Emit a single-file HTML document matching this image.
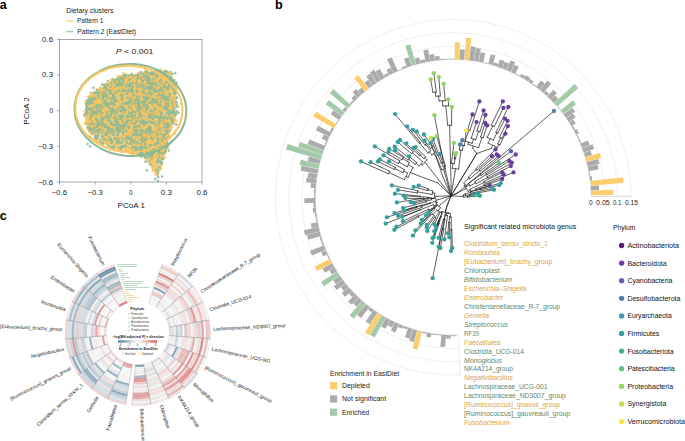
<!DOCTYPE html>
<html lang="en"><head><meta charset="utf-8"><title>Figure</title>
<style>
html,body{margin:0;padding:0;background:#fff;}
body{width:685px;height:441px;overflow:hidden;}
svg{display:block;font-family:"Liberation Sans", sans-serif;}
</style></head><body>
<svg width="685" height="441" viewBox="0 0 685 441">
<rect width="685" height="441" fill="#fff"/>
<g id="panel-a">
<text x="-0.3" y="9.1" font-size="12.6" fill="#000" font-weight="bold">a</text>
<text x="66.2" y="12.8" font-size="6.8" fill="#222" textLength="47.3" lengthAdjust="spacingAndGlyphs">Dietary clusters</text>
<path d="M66.3 21H73.2" stroke="#FBC55F" stroke-width="1.1" fill="none"/>
<text x="76.9" y="23.2" font-size="6.8" fill="#222" textLength="26.5" lengthAdjust="spacingAndGlyphs">Pattern 1</text>
<path d="M66.3 31.7H73.2" stroke="#8DB894" stroke-width="1.1" fill="none"/>
<text x="77.3" y="34" font-size="6.8" fill="#222" textLength="58.8" lengthAdjust="spacingAndGlyphs">Pattern 2 (EastDiet)</text>
<rect x="59.5" y="39.3" width="142.5" height="142.7" fill="none" stroke="#555" stroke-width="0.5"/>
<text x="59.5" y="194.8" font-size="7" fill="#222" text-anchor="middle" textLength="15.3" lengthAdjust="spacingAndGlyphs">−0.6</text>
<text x="53.1" y="184.5" font-size="7" fill="#222" text-anchor="end" textLength="15.3" lengthAdjust="spacingAndGlyphs">−0.6</text>
<text x="95.12" y="194.8" font-size="7" fill="#222" text-anchor="middle" textLength="15.3" lengthAdjust="spacingAndGlyphs">−0.3</text>
<text x="53.1" y="148.82" font-size="7" fill="#222" text-anchor="end" textLength="15.3" lengthAdjust="spacingAndGlyphs">−0.3</text>
<text x="130.75" y="194.8" font-size="7" fill="#222" text-anchor="middle" textLength="3.6" lengthAdjust="spacingAndGlyphs">0</text>
<text x="53.1" y="113.15" font-size="7" fill="#222" text-anchor="end" textLength="3.6" lengthAdjust="spacingAndGlyphs">0</text>
<text x="166.38" y="194.8" font-size="7" fill="#222" text-anchor="middle" textLength="11" lengthAdjust="spacingAndGlyphs">0.3</text>
<text x="53.1" y="77.48" font-size="7" fill="#222" text-anchor="end" textLength="11" lengthAdjust="spacingAndGlyphs">0.3</text>
<text x="202" y="194.8" font-size="7" fill="#222" text-anchor="middle" textLength="11" lengthAdjust="spacingAndGlyphs">0.6</text>
<text x="53.1" y="41.8" font-size="7" fill="#222" text-anchor="end" textLength="11" lengthAdjust="spacingAndGlyphs">0.6</text>
<path d="M59.5 182v2.6M59.5 182h-2.6M95.12 182v2.6M59.5 146.32h-2.6M130.75 182v2.6M59.5 110.65h-2.6M166.38 182v2.6M59.5 74.98h-2.6M202 182v2.6M59.5 39.3h-2.6" stroke="#555" stroke-width="0.5" fill="none"/>
<text x="131.3" y="208.45" font-size="7.4" fill="#222" text-anchor="middle" textLength="27.5" lengthAdjust="spacingAndGlyphs">PCoA 1</text>
<text transform="translate(29.35 111) rotate(-90)" font-size="7.4" fill="#222" text-anchor="middle" textLength="27.5" lengthAdjust="spacingAndGlyphs">PCoA 2</text>
<text x="115.8" y="54" font-size="7.8" fill="#222" textLength="37.6" lengthAdjust="spacingAndGlyphs"><tspan font-style="italic">P</tspan> &lt; 0.001</text>
<path d="M85.36 112.14 L87.51 101.85 L91.43 95.48 L96.04 91.07 L100.74 87.64 L106.92 84.02 L117.79 77.25 L126.22 75.39 L135.04 74.22 L149.74 71.96 L164.44 70.98 L170.32 71.77 L172.77 78.82 L174.73 88.62 L176.2 100.38 L175.91 112.14 L173.75 121.94 L170.32 130.76 L167.38 143.5 L164.44 155.26 L161.99 166.04 L159.54 172.9 L157.58 176.82 L154.64 172.9 L150.72 167.02 L145.33 158.69 L137.98 154.28 L125.24 151.34 L110.54 147.42 L98.78 141.54 L90.94 133.7 L86.34 123.9 Z" fill="#c6c27f" fill-opacity="0.6" stroke="none"/>
<path d="M102.63 93.23h0M97.84 119.29h0M165.98 85.38h0M100.44 104.26h0M130.81 121.96h0M168.55 98.74h0M157.36 114.7h0M141.49 112.76h0M96.18 115.06h0M127.7 93.06h0M128.7 117.11h0M140.75 106.39h0M131.78 122.22h0M99.39 98.58h0M149.46 95.43h0M111.53 113.6h0M138.64 139.18h0M122.91 86.52h0M132.38 97.47h0M133.22 146.85h0M168 133.25h0M172.17 121.25h0M141.74 110.47h0M100.53 101.41h0M138.25 95.41h0M122.52 126.96h0M169.86 119.13h0M144.01 104.87h0M133.97 133.21h0M173.26 105.25h0M132.26 112.91h0M108.96 106.05h0M161.34 135.54h0M143.37 129.1h0M158.73 84.15h0M152.37 115.28h0M157.66 153.23h0M125.94 79.88h0M134.48 124.01h0M145.27 106.92h0M156.68 149.8h0M147.26 92.69h0M132.92 137.4h0M105.86 101.8h0M148.52 134.31h0M105.8 108.39h0M152.34 110.46h0M105.18 117.91h0M159.53 94.4h0M114.64 127.81h0M161.02 81.97h0M132.23 112.99h0M137.2 80.95h0M99.45 102.61h0M151.15 130.72h0M121.43 101.56h0M166.47 122.09h0M155.71 168.83h0M110.86 116.43h0M117.9 77.94h0M121.44 84.83h0M160.65 113.22h0M117.5 87.78h0M94.04 120.98h0M111.62 97.15h0M98.83 127.78h0M151.08 77.95h0M141.26 142.91h0M161.46 151.7h0M134.61 125.4h0M154.11 112.39h0M137.76 104.99h0M170.54 104.24h0M104.3 91.88h0M156.8 143.33h0M101.83 106.03h0M156 133.41h0M129.17 87.34h0M89.52 105.39h0M137.09 102.68h0M130.65 102.13h0M149.42 122.07h0M144.71 72.34h0M92.68 131.3h0M147.48 73.68h0M129.13 79.6h0M152.78 111.41h0M139.56 150.1h0M146.89 81.26h0M116.52 90.95h0M102.04 88.98h0M163.72 71.96h0M129.73 153.33h0M88.16 96.51h0M165.74 113.44h0M175 105.02h0M144.12 74.92h0M127.38 99.97h0M154.55 114.77h0M95.85 103.17h0M140.23 139.63h0M132.83 90.96h0M124.88 127.8h0M128.54 129.08h0M165.25 131.05h0M155.23 165.24h0M134.7 82h0M153.51 103h0M138.74 147.36h0M149.27 153.48h0M115.66 118.78h0M142 102.86h0M103.3 115.36h0M121.47 88.06h0M131.16 113.97h0M121.44 118.41h0M96.94 101.74h0M175.06 118.7h0M124.35 133.79h0M161.11 158.44h0M146.88 119.48h0M161.3 75.95h0M153.26 140.96h0M128.14 102.52h0M150.02 113.28h0M163.78 149.78h0M138.54 112.82h0M146.32 154.58h0M124.37 100.38h0M102.49 133.46h0M131.19 78.26h0M123.59 79.05h0M100.1 87.09h0M149.22 155.87h0M170 93.15h0M89.62 111.79h0M156.7 124.2h0M144.88 120.03h0M127.76 81.18h0M117.37 126.72h0M158.42 118.05h0M113.38 108.05h0M158.01 153.46h0M130.31 98.83h0M89.89 109.47h0M152.07 146.95h0M167.21 79.68h0M91.06 132.27h0M125.23 132.39h0M103.49 126.61h0M144.83 126.53h0M135.93 104.15h0M144.13 92.07h0M114.95 117.89h0M138.78 112.54h0M150.84 130.14h0M98.64 131.03h0M165.98 112.62h0M113.1 122.02h0M126.78 103.82h0M164.61 87.03h0M108.42 93.34h0M106.39 102.61h0M88.1 129.82h0M145.23 106.34h0M109.19 127.28h0M150.97 116.52h0M103.25 101.81h0M134.97 100.02h0M165.61 72.17h0M131.26 99.44h0M173.25 118.15h0M150.03 143.46h0M137.51 99.87h0M153.56 117.23h0M147.96 96.26h0M139.76 115.68h0M148.95 130.59h0M147.15 85.38h0M159.37 143.47h0M154.89 98.89h0M150.25 93.57h0M154.23 92.44h0M112.83 132.84h0M145.02 144.5h0M104.05 126.68h0M123.63 125.79h0M143.64 138.01h0M156.97 121.1h0M174.52 90.46h0M152.68 104.36h0M131.32 113.47h0M120.97 89.36h0M162.96 139.44h0M134.17 118.41h0M132.8 126.99h0M121.69 106.05h0M85.77 124.13h0M107.53 86.41h0M122.74 95.78h0M127.55 91.76h0M118.17 121.52h0M126.59 114.29h0M161.1 123.82h0M143.27 113.73h0M165.96 80.86h0M118.1 79.87h0M99.14 97.67h0M115.3 108.53h0M173.87 101.06h0M125.54 89.39h0M140.95 118.94h0M113.9 109.91h0M149.53 112.95h0M140.27 99.86h0M157.3 125.98h0M100.71 131.22h0M143.37 133.45h0M133.9 152.98h0M147.68 109.43h0M109.55 85.14h0M162.76 154.27h0M126 130.16h0M113.99 126.72h0M144.4 95.46h0M165.25 125.95h0M152.87 134.91h0M157.78 102.84h0M167.99 101.67h0M132.48 112.71h0M98.08 101.98h0M154.86 115.84h0M132 101.53h0M124.64 135.36h0M120.97 88.73h0M161.23 80.68h0M123.46 110.4h0M106.6 135.51h0M102.11 142.58h0M119.11 77.72h0M162.21 106.68h0M153.25 150.44h0M168.77 101.98h0M162.34 77.32h0M109.62 92.28h0M145.13 102.01h0M140.2 129.63h0M159.04 130.37h0M154.2 116.35h0M94.61 109.7h0M125.41 121.29h0M156.22 101.2h0M101.33 96.15h0M118.36 127.53h0M164.22 117.93h0M165.6 80.87h0M140.8 97.9h0M90.48 123.09h0M142.44 108.2h0M147.79 121.39h0M123.59 142.59h0M139.66 132.63h0M92.04 110.87h0M159.14 107.42h0M122.67 81.39h0M166.49 76.58h0M103.52 108.61h0M107.52 128.99h0M162.06 115.76h0M115.58 125.61h0M169.16 128.02h0M170.07 117.14h0M143.41 128.11h0M146.91 105.87h0M133.06 97.9h0M143.64 85.98h0M87.23 121.38h0M154.7 84.47h0M147.02 92.39h0M87.08 117.93h0" stroke="#FBC55F" stroke-opacity="0.85" stroke-width="2.7" stroke-linecap="round" fill="none"/>
<path d="M113.71 83.09h0M159.13 83.66h0M96.96 129.28h0M156.62 86.25h0M96.26 121.03h0M118.73 76.74h0M165.26 149.66h0M175.24 113.96h0M157.34 94.6h0M155.77 133h0M143.98 78.45h0M153.23 107.77h0M133.89 122.02h0M142.78 101.22h0M160.88 159.07h0M154.46 160.6h0M95.4 136h0M156.93 84.96h0M90.65 123.05h0M126.13 88.04h0M151.39 96.86h0M142.24 104.9h0M134.46 138.73h0M160.95 132.14h0M145.05 87.31h0M112.44 102.16h0M156.83 152.64h0M146.47 122.44h0M125.6 112.29h0M158.96 95.94h0M129.64 79.03h0M159.1 98.36h0M136.1 95.98h0M104.14 115.86h0M118.36 125.14h0M166.79 141.3h0M92.65 125.93h0M158.12 160.01h0M108.15 96.93h0M122.74 107.11h0M148.52 89.51h0M158.03 104.71h0M142.1 79.82h0M103.75 125.85h0M96.13 126.87h0M105.03 134.7h0M123.48 76.6h0M161.61 75.88h0M120.71 120.34h0M161.53 132.02h0M128.95 127.46h0M145.86 94.47h0M169.32 89h0M86.27 115.79h0M159.54 101.54h0M115.93 127.35h0M110.47 115.02h0M173.36 118.39h0M144.4 147.25h0M125.97 117.89h0M136.38 130.74h0M169.17 92.57h0M165.55 103.39h0M136.1 140.13h0M92.85 124.16h0M160.38 88.74h0M139.25 154.5h0M137.59 103.05h0M132.81 122.48h0M148.47 139.26h0M112.28 117.91h0M161.1 94.51h0M114.28 94.6h0M102.66 109.73h0M150.39 79.71h0M128.46 135.59h0M121.82 146.23h0M118.67 90.65h0M154.08 99.86h0M116.12 84.77h0M136.93 92.01h0M141.79 156.36h0M108.95 145.4h0M99.2 104.05h0M159.73 122.29h0M148.87 131.16h0M140.99 98.46h0M134.76 101.39h0M144.99 138.49h0M143.11 96.82h0M128 130.2h0M136.69 139.28h0M126.74 142.45h0M165.6 107.3h0M118.89 91.32h0M162.2 155.21h0M154.14 71.44h0M138.73 77.71h0M144.63 86.88h0M109.68 128.63h0M113.46 93.77h0M111.77 90.93h0M100.76 120.61h0M141.01 149.83h0M104.51 84.81h0M141.56 153.41h0M103.71 112.87h0M130.44 125.09h0M126.03 82.04h0M158.29 147.42h0M113.35 125.56h0M111.45 122.47h0M164.5 124.9h0M148.76 104.41h0M115.06 96.74h0M163.11 135.07h0M165.64 78.54h0M176.71 82.9h0M130.25 131.47h0M143.25 120.45h0M149.4 142.23h0M96.5 133.34h0M140.38 115.38h0M139.8 113.14h0M95.62 115.45h0M166.89 121.79h0M121.17 89.94h0M114.45 117.66h0M131.51 148.37h0M127.75 93.79h0M150.78 92.64h0M160.92 136.21h0M152.82 94.04h0M143.49 149.65h0M88.26 101.31h0M104.22 137.84h0M126.09 144.91h0M132.08 77.44h0M164.68 106.3h0M107.44 85.1h0M89.77 114.68h0M134.35 91.1h0M151.56 74.34h0M166.59 141.74h0M165.8 138.28h0M164.53 135.76h0M101.66 93.06h0M120.7 105.25h0M121.52 110.84h0M86.66 106.53h0M150.09 94.41h0M145.53 74.09h0M162.73 87.34h0M132.4 104.05h0M111.88 113.04h0M136.97 89.57h0M159.51 84.16h0M116.12 140.19h0M100.41 99.16h0M148.06 108.96h0M137.58 99.6h0M132.11 105.54h0M155.08 128.85h0M106.09 90.88h0M102.11 143.01h0M124.34 102.4h0M158.72 123.92h0M152.25 98.05h0M165.01 101.51h0M152.95 120.7h0M116.57 131.89h0M139.66 137.74h0M146.44 150.37h0M125.94 138.71h0M108.35 117.02h0M100.39 119.52h0M109.56 128.3h0M138.88 98.18h0M136.18 130.47h0M113.49 93.89h0M137.33 121.17h0M150.63 150.83h0M131.97 86.33h0M158.68 111.76h0M118.76 129.21h0M146.56 108.52h0M120.89 98.03h0M128.61 107.89h0M106.84 90.34h0M133.29 114.39h0M91.87 116.81h0M140.97 144.79h0M155.46 131.61h0M157.97 100.89h0M144.43 138.84h0M143.2 80.61h0M120.84 143.01h0M103.51 107.3h0M158.47 112.82h0M144.23 148.12h0M144.99 119.94h0M139.7 114.28h0M107.18 89.18h0M123.88 119.47h0M148.5 127.75h0M124.27 92.32h0M166.05 99.97h0M144.91 137.66h0M149.76 153.41h0M152.53 155.7h0M151.11 88.68h0M97.42 97.56h0M93.42 92.7h0M132.63 90.86h0M114.18 114.46h0M168.49 84.63h0M122.44 132.61h0M88.27 114.99h0M130.24 109.61h0M160.17 105.46h0M140.79 155.3h0M176.77 97.83h0M101.51 109.51h0M172.48 98.38h0M151.05 123.68h0M128.34 104.76h0M96.98 97.1h0M140.92 138.98h0M147.05 108.66h0M136.1 96.47h0M155.15 133.04h0M96.56 91.76h0M134.84 103.38h0M168.48 143.97h0M126.07 104.5h0M100.96 101.41h0M162.89 156.7h0M163.64 122.18h0M109.99 138.41h0M154.74 76.9h0M136.28 129.68h0M110.98 104.85h0M156.3 109.8h0M124.04 115.2h0M171.88 109.43h0M168.84 105.85h0M144.08 75.88h0M106.07 124.35h0M114.33 130.63h0M149.97 85.62h0M126.98 119.07h0M146.74 155.97h0M117.63 93.73h0M94.15 111.22h0M111.96 86.83h0M127 137.47h0M139.64 145.65h0M159.84 94.75h0M133.56 82.05h0M145.16 98.42h0M140.76 128.24h0M156.22 169.4h0M173.52 103.44h0M150.76 113.74h0M123.07 107.76h0M162.79 85.83h0M152.63 98.61h0M151.3 122.58h0M153.75 75.63h0M119.52 91.84h0M87.5 144h0M147 170.3h0M162 176.5h0" stroke="#8DB894" stroke-opacity="0.85" stroke-width="2.7" stroke-linecap="round" fill="none"/>
<path d="M89.84 114.65h0M132.37 86.84h0M138.54 94.12h0M127.98 100.2h0M91.44 122.51h0M116.55 86.68h0M112.95 104.8h0M142.85 139.14h0M162.53 120.49h0M124.74 94.38h0M109.32 89.46h0M95.65 96.12h0M146.46 104.33h0M122.12 134.49h0M105.64 132.19h0M154.95 140.98h0M96.45 125.51h0M166.54 102.71h0M137.29 111.08h0M110.6 114.1h0M169.98 80.11h0M149.41 138.07h0M123.85 97.53h0M138.2 78.27h0M150.23 99.14h0M144.19 150.51h0M162.8 121.89h0M154.85 126.69h0M101.65 113.35h0M165.97 90.6h0M127.55 132.57h0M160.06 162.03h0M161.96 100.6h0M92.03 125.25h0M153.69 94.47h0M136.36 82.44h0M159.97 115.96h0M92.78 130.6h0M119.99 107.63h0M128.89 88.57h0M161.64 97.17h0M146.88 112.06h0M148.36 83.06h0M148.86 145.23h0M135.71 94.18h0M171.17 102.26h0M168.86 93.6h0M116.74 114.09h0M101.81 104.41h0M91.79 129.87h0M101.99 127.88h0M167.29 131.97h0M173.76 109.53h0M147.12 85.98h0M97.92 116.08h0M141.17 129.4h0M115.23 92.58h0M100.44 102.53h0M115.45 103.28h0M164.22 145.73h0M176.24 120.96h0M154.94 157.51h0M113.29 102.76h0M131.78 151.58h0M97.22 124.16h0M105.82 130.61h0M116.03 87.86h0M108.73 113.85h0M116.57 145.63h0M164.27 138.26h0M152.03 107.78h0M119.05 126.39h0M127.99 100.09h0M138.46 154.11h0M158.87 161.11h0M90.45 100.51h0M125.57 114.66h0M153.72 133.63h0M156.11 107.71h0M125.58 118.76h0M166.25 108.68h0M145.52 154.05h0M149.23 86.8h0M116.91 117.93h0M93.11 123.16h0M156.88 86.83h0M88.05 124.71h0M122.63 92.79h0M154.97 119.77h0M162.46 76.2h0M106.28 96.19h0M160.3 115.42h0M153.08 82.42h0M151.1 148.3h0M133.58 97.01h0M130.08 103.72h0M101.9 94.31h0M144.36 117.11h0M142.22 86.22h0M162.64 146.07h0M117.76 128.17h0M145.56 97.5h0M128.33 118.52h0M151.46 95.73h0M110.92 109.29h0M122.2 149.63h0M170.97 101.81h0M167.02 95.03h0M134.43 114.45h0M127.17 126.29h0M149.97 135.37h0M157.68 73.07h0M103.27 104.71h0M147.89 73.52h0M149.93 112.69h0M153.49 114.77h0M154.42 95.93h0M151.51 102.37h0M113.87 80.76h0M135.89 133.62h0M137.71 142.26h0M165.21 150.26h0M100.44 116.28h0M107.17 97.58h0M157.15 167.51h0M144.81 87.56h0M112.17 131.61h0M143.24 97.31h0M123.06 80.09h0M172.87 103.04h0M142.53 133.95h0M156.32 138.49h0M173.18 118.32h0M157.97 115.77h0M171.6 96.53h0M132.67 124.04h0M167.67 104.52h0M96.57 123.81h0M113.25 83.27h0M148.72 129.77h0M133.97 133.89h0M143.3 94.25h0M111.02 88.12h0M119.93 124.15h0M170.32 120.73h0M164.63 127.27h0M148.54 110.77h0M102.12 94.59h0M105.86 98.99h0M165.61 118.43h0M139.71 98.62h0M159.68 93.21h0M134.34 82.85h0M115.03 146.63h0M95.78 116.59h0M163.19 147.66h0M128.7 137.83h0M153.94 144.59h0M173.13 111.04h0M110.51 89.28h0M135.77 144.45h0M136.17 78.53h0M123.77 102.37h0M171.72 82.37h0M149.95 75.99h0M88.7 109.75h0M96.3 119.94h0M151.83 124.44h0M104.66 116.36h0M132.09 96.99h0M115.27 145.63h0M115.73 81.62h0M95.91 98.99h0M131.4 97.04h0M172.16 94.78h0M139.48 145.9h0M153.88 158.42h0M164.52 139h0M132.87 125.24h0M128.37 110.75h0M117.67 106.39h0M117.95 83.91h0M158.78 80.04h0M103.55 129.64h0M93.49 101.74h0M152.16 79.56h0M112.79 89.49h0M135.33 105.7h0M138.51 126.4h0M131.87 104.58h0M149.61 96.05h0M135 81.48h0M160.88 135.35h0M154.67 86.01h0M88.53 127.83h0M143 149.2h0M134.31 104.86h0M131.59 106.7h0M140.09 137.07h0M121.56 111.53h0M141.61 94.05h0M143.5 136.71h0M142.33 101.72h0M118.68 119.96h0M123.52 108.04h0M125.31 143.34h0M149.79 79.76h0M118.11 101.53h0M92.47 118.02h0M132.67 88.66h0M128.13 116.89h0M160.96 133.58h0M146.2 145.93h0M159.72 122.82h0M149.53 126.73h0M111.12 143.32h0M140.64 96.62h0M151.02 160.61h0M148.21 161.89h0M153.17 102.57h0M149.27 141.77h0M117.57 136.76h0M117.91 82.41h0M91 113.95h0M152.99 113.3h0M138.38 100.45h0M144.82 89.51h0M115.7 101.76h0M149.68 155.77h0M153.59 140.93h0M122.07 150.06h0M139.54 91.16h0M173.9 103.37h0M171.46 115.82h0M92.39 131.68h0M168.71 99.66h0M149.55 156.04h0M138.35 87.3h0M113.8 107.76h0M98.23 93.31h0M110.85 92.27h0M109.89 91.48h0M170.86 85.02h0M107 119.48h0M151.38 86.41h0M148.21 83.45h0M153.15 96.06h0M147.92 88.17h0M148.11 107.66h0M156.72 171.06h0M101.59 95.45h0M157.25 137.18h0M107.96 93.62h0M98.52 98.99h0M160.46 131.86h0M153.92 86.87h0M148.9 122.43h0M131.17 108.34h0M165 97.53h0M128.05 114.86h0M161.42 132.37h0M104.58 107.39h0M157 83.46h0M142.85 74.67h0M130.29 75.43h0M86.35 101.45h0" stroke="#FBC55F" stroke-opacity="0.85" stroke-width="2.7" stroke-linecap="round" fill="none"/>
<path d="M161.08 131.68h0M120.68 131.12h0M108.53 110.48h0M166.37 79.73h0M134.56 129.83h0M100.51 102.7h0M145.65 144.96h0M131.38 90.35h0M113.47 118.96h0M130.03 85.01h0M158.5 70.7h0M116.58 82.52h0M144.84 95.67h0M122.7 92.23h0M163.13 108.49h0M164.06 102.31h0M166.07 123.92h0M134.22 78.41h0M137.12 95.58h0M118.69 87.45h0M147.92 85.41h0M102.48 103.57h0M141.67 79.26h0M111.42 100.16h0M150.14 78.93h0M150.68 141.31h0M148.58 112.16h0M169.9 73.88h0M127.17 93.88h0M134.82 99.52h0M118.56 84.4h0M96.42 134.53h0M146.6 157.01h0M124.54 122.7h0M164.57 88.24h0M145.69 97.21h0M137.15 99.85h0M119.11 83.49h0M150.01 125.92h0M174.4 91.75h0M143 97.4h0M95.95 106.27h0M131.8 97.66h0M129.24 124.44h0M94.96 103.97h0M120.59 117.57h0M128.45 128.94h0M131.72 117.98h0M151.96 96.91h0M109.14 122.89h0M90.5 97.25h0M131.73 106.25h0M164.76 119.69h0M109.82 120.37h0M93.57 131.99h0M121.21 124.81h0M134.69 99.39h0M153.46 106.82h0M163.7 80.06h0M90.49 102.4h0M133.46 131.87h0M103.57 134.72h0M97.14 118.75h0M164.22 78.82h0M138.11 114.74h0M150.03 163.78h0M130.08 120.81h0M133.15 93.53h0M111.79 116.62h0M131.31 89.26h0M119.96 148.74h0M157.57 157.12h0M140.27 81.6h0M149.91 159.76h0M144.03 110.55h0M153.22 107.95h0M109.57 108.34h0M102.85 93.84h0M137.18 132.23h0M157.63 116.93h0M101.7 103.36h0M123.88 92.18h0M161.95 77.81h0M125.36 111.04h0M128.27 124.85h0M121.62 81.56h0M147.14 103.86h0M168.26 127.85h0M119.71 129.8h0M101.69 95.45h0M126.03 118.88h0M124.71 117.64h0M141.19 114.74h0M149.42 96.67h0M150.45 125.8h0M108.64 131.66h0M137.33 108.27h0M101.14 89.11h0M159.55 96.94h0M155.65 137.86h0M170.75 123.35h0M103.53 135.7h0M151.54 91.1h0M125.3 104.65h0M167.96 89.29h0M134.34 151.76h0M100.65 112.75h0M156.38 135.01h0M96.06 113.45h0M106.6 132.64h0M162.01 116.87h0M150.33 97.98h0M120.59 137h0M141.14 113.88h0M128.17 82.49h0M126.79 149.72h0M124.09 119h0M141.39 124.19h0M108.99 136.99h0M173.32 111.9h0M152.24 102.99h0M97.27 123.57h0M108.98 108.33h0M111.89 119.07h0M125.51 81.7h0M114.3 92.43h0M161.7 89.56h0M145.91 158.24h0M120.13 97.15h0M106.76 143.03h0M93.33 131.21h0M138.44 90.45h0M164.83 78.75h0M117.8 85.73h0M97.27 101.12h0M144.33 73.77h0M112.98 140.33h0M132.65 107.46h0M175.3 100.25h0M104.38 108.23h0M155.75 155.43h0M154.42 121.09h0M164.79 101.4h0M139.67 131.25h0M127.82 139.25h0M143.84 99.98h0M122.54 140.68h0M115.39 95.9h0M120.29 81.85h0M132.7 92.37h0M138.2 108.95h0M168.05 102.93h0M94.58 123.44h0M131.97 113.22h0M169.76 105.61h0M156.01 73.89h0M113.1 86.86h0M137.86 109.76h0M167.01 141.27h0M110.07 138.14h0M119.49 142.24h0M109.59 84.71h0M139.09 81.76h0M123.05 109.35h0M153.75 83.48h0M132.55 91.42h0M151.39 134.97h0M101.25 121.94h0M173.15 121.93h0M100.4 123.46h0M158.57 157.68h0M142.19 87.51h0M134.47 104.12h0M84.07 115.57h0M140.47 136.05h0M122.43 137.89h0M174.82 115.52h0M161.76 78.36h0M160.47 98.36h0M172.95 85.68h0M148.16 78.53h0M128.31 102.02h0M142.02 90.93h0M117.58 84.65h0M172.44 114.54h0M165.78 97.24h0M129.9 77.01h0M149.12 82.66h0M114.35 106.85h0M171.9 107.65h0M160.2 131.18h0M115.26 84.76h0M105.43 102.17h0M163.37 116.68h0M89.96 126.29h0M137.41 79.24h0M174.88 93.78h0M164.28 77.49h0M116.19 90.58h0M108.76 110.84h0M156.81 130.96h0M91.28 133.41h0M107.68 109.58h0M137.88 148.86h0M118.13 134.08h0M118.24 121.68h0M116.87 134.37h0M124.47 81.46h0M124.91 88.8h0M90.97 93.06h0M163.41 96.78h0M138.33 89.83h0M156.26 130.66h0M96.54 117.08h0M161.18 133.73h0M86.04 115.82h0M130.35 142.53h0M131.98 126.96h0M89.7 125.88h0M168.16 90.09h0M168.43 144.83h0M92.96 112.53h0M177.11 111.44h0M134.97 75.87h0M164.01 135.42h0M137.85 141.55h0M116.47 128.84h0M133.82 114.47h0M144.69 143.26h0M132.21 129.2h0M160.18 113.23h0M93.05 120.27h0M148.44 126.53h0M139.3 101.1h0M153.28 74.5h0M156.41 135.18h0M149.68 119.33h0M145.93 110.5h0M155.65 106.14h0M148.1 97.78h0M163.45 90.8h0M160.97 148.36h0M128.23 77.59h0M86.92 118.81h0M93.83 122.01h0M152.54 103.13h0M158.05 134.73h0M151.63 142.95h0M147.57 113.04h0M90.19 113.88h0M101.34 120.95h0M153.91 90.49h0M126.19 138.84h0M166.56 138.95h0M150.36 164.22h0M101.87 104.59h0M169.67 113.88h0M113.09 148.06h0M157.78 153.72h0M116.81 79.25h0M134.24 135.89h0M168.77 104.31h0M101.05 126.18h0M151.35 107.78h0M147.37 119.89h0M142.52 92.97h0M156.09 90.37h0M138.29 87.94h0M100.11 112.78h0M85.77 103.28h0M154.55 111.93h0M121.49 110.79h0M162.15 105.31h0M160.68 79.78h0M149.65 153.56h0M123.31 130.15h0M101.76 141.99h0M129.85 97.13h0M176.69 105.04h0M168.86 82.4h0M112.55 88.46h0M113.62 112.05h0M141.72 142.46h0M86.81 120.11h0M90 146.5h0M155.2 179.1h0M158 181h0" stroke="#8DB894" stroke-opacity="0.85" stroke-width="2.7" stroke-linecap="round" fill="none"/>
<path d="M134.86 88.46h0M130.3 125.79h0M156.71 123.93h0M137.88 81.96h0M148.95 110.75h0M89.77 122.45h0M99.89 94.47h0M144.6 109h0M150.03 102.27h0M142.35 122.96h0M116.52 87.63h0M140.67 102.98h0M149.24 99.47h0M101.95 122.36h0M108.57 86.5h0M91.07 128.78h0M160.11 109.23h0M106.26 115.35h0M134.08 95.29h0M98.96 132.21h0M143.64 126.18h0M164.67 146.34h0M135.38 126.3h0M170.76 84.24h0M104.45 134.6h0M128.33 128.91h0M164.97 119.16h0M166.57 120.43h0M152.29 96.91h0M103.38 84.7h0M160.68 81.69h0M133.14 87.13h0M141.76 114.81h0M115.99 116.92h0M141.74 117.19h0M131.82 73.87h0M161.42 136.68h0M174.99 96.18h0M140.06 151.51h0M109.88 110.31h0M120.48 79.04h0M104.82 137.12h0M127.7 88.19h0M122.13 129.34h0M158.78 76.12h0M133.48 117.55h0M155.7 102.99h0M157.58 134.87h0M151.16 93.08h0M155.96 155.98h0M107.85 125.73h0M111.57 81.24h0M159.14 147.27h0M150.94 149.12h0M153.77 102.79h0M167.31 128.42h0M149.8 138.03h0M131.08 97.14h0M88.73 118.68h0M146.05 86.45h0M152.7 133.97h0M161.08 69.84h0M162.51 99.7h0M112.96 129.78h0M148.96 128.36h0M165.84 104.97h0M114.81 130.28h0M162.67 119.93h0M169.78 81.54h0M135.79 121.26h0M119.7 91.6h0M118.41 107.47h0M104.9 124.1h0M173.66 91.05h0M149.76 80.35h0M142.53 119.8h0M138.04 149.07h0M146.91 130.8h0M172.74 115.97h0M140.06 142.71h0M164.28 132.22h0M114.71 139.66h0M126.57 144.73h0M154.56 89.02h0M147.45 101.16h0M101.67 120.56h0M122.47 98.93h0M154.96 124.87h0M166.54 98.24h0M96.98 115.03h0M148.6 151.46h0M143.34 95.34h0M123.34 92.76h0M164.97 108.67h0M140.22 112.54h0M99.44 124.93h0M161.3 85.47h0M104.06 100.53h0M156.03 133.11h0M120.46 78.21h0M162.24 149.99h0M156.8 83.67h0M112.67 143.31h0M170.87 127.59h0M139.34 127.97h0M101.44 113.11h0M132.28 119.68h0M162.85 91.78h0M133.52 78.9h0M147.78 120.75h0M127.44 87.68h0M114.14 135.88h0M150.49 97.2h0M110.66 106.12h0M130.68 111.78h0M158.1 104.42h0M147.66 130.96h0M137.59 118.15h0M168.56 122.46h0M115.73 82.88h0M162.07 141.26h0M161.27 136.33h0M136.42 88.89h0M147.96 105.62h0M117.67 91.03h0M160.94 104.59h0M128.59 103.89h0M106.61 114.61h0M120.49 89.9h0M147.83 125.8h0M154.53 91.82h0M152.76 104.17h0M122.91 76.94h0M110.24 105.01h0M133.44 114.31h0M99.52 91.4h0M113.67 97.01h0M136.25 131.08h0M152.35 92.95h0M120.68 97.6h0M91.19 111.15h0M170.68 111.46h0M93.36 93.16h0M131.57 131.48h0M137.02 84.97h0M100.2 117.75h0M163.41 83.98h0M122.47 82.01h0M153.73 116.96h0M148.87 157.58h0M159.99 104.91h0M146.39 80.52h0M108.54 107.16h0M165.78 79h0M155.09 137.81h0M172.81 100.03h0M151.66 78.48h0M114.4 103.71h0M163.84 131.78h0M139.02 130.36h0M121.55 78.46h0M160.85 84.07h0M139.02 140.06h0M96.57 137.79h0M161.94 127.45h0M166.97 108.34h0M165.44 136.47h0M86.71 118.31h0M99.1 90.14h0M161.06 102.46h0M176.09 113.49h0M145.81 86.64h0M154.1 73.82h0M161.1 152.69h0M163.45 125.47h0M95.96 118.04h0M107.41 126.16h0M123.43 118.21h0M149.9 105.67h0M133.16 123.41h0M146.61 91.64h0M158.45 110.5h0M112.28 91.32h0M158.57 104.18h0M136.95 138.59h0M112.12 100.09h0M103.02 90.16h0M116.83 132.76h0M171.95 119.58h0M150.78 113.27h0M108.41 136.32h0M130.11 119.76h0M133.81 120.71h0M132.66 101.63h0M115.9 136.15h0M143.5 88.58h0M143.2 126.48h0M160.49 91.68h0M159.87 132.96h0M118.03 116.44h0M165.61 81.28h0M164.84 128h0M130.12 139.86h0M123.19 101.48h0M89.09 107.28h0M103.44 131.5h0M119.72 138.87h0M85.06 122.27h0M104.71 119.55h0M133.23 99.18h0M159.07 77.08h0M137.74 73.72h0M160.71 168.64h0M114.75 86.28h0M125.84 111.01h0M139.62 112.05h0M94.1 126.62h0M139.98 153.74h0M158.81 151h0M143.43 105.19h0M96.93 101.71h0M155.68 101.21h0M96.23 124.26h0M168.51 76.41h0M163.22 150.93h0M124.72 121.4h0M106.29 108.3h0M130.2 123.42h0M117.56 93.83h0M162.06 151.96h0M148.73 99.87h0M133.1 111.75h0M147.3 112.59h0M101.31 123.37h0M129.34 129.86h0M147.73 94.93h0M133.78 128.75h0M148.11 132.78h0M160.66 152.1h0M95.78 96.01h0M145.85 135.65h0M169.92 106.8h0M173.25 117.33h0M159.36 78.72h0M163.46 125.03h0M115.87 92.1h0M142.89 127.45h0M94.95 122.17h0M140.11 96.44h0M116.68 90.89h0M108.26 98h0M91.01 105.15h0M162.44 79.27h0M126.53 139.39h0M138.83 143.36h0M163.79 79.65h0M151.77 84.67h0M165.62 130.67h0M110.74 113.21h0M110.44 116.68h0M154.74 102.85h0M126.48 101.85h0M143.79 102.63h0M158.92 147.1h0M146.75 80.59h0M130.65 118.38h0M155.6 91.32h0M173.5 100.12h0" stroke="#FBC55F" stroke-opacity="0.85" stroke-width="2.7" stroke-linecap="round" fill="none"/>
<path d="M140.99 111.96h0M140.01 133.94h0M147.48 145.37h0M162.2 106.58h0M116.94 129.81h0M106.31 96.59h0M118.27 139.86h0M167.9 137.58h0M107.32 95.65h0M129.97 96.54h0M94.67 116.71h0M146.52 146.38h0M147.31 73.43h0M123.76 146.06h0M145.74 120.07h0M142.53 154.23h0M100.67 117.26h0M152.34 80h0M142.17 88.71h0M101.87 106.31h0M143.53 131.43h0M157.06 134h0M125.33 139.79h0M140.87 114.21h0M103.57 93.9h0M168.88 102.08h0M114.34 114.79h0M141.99 76.83h0M123.03 127.61h0M156.2 72.55h0M154.8 113.55h0M122.06 142.22h0M132.06 145.03h0M136.54 76.37h0M157.05 161.82h0M122.89 123.54h0M147.44 97.51h0M167 81.62h0M145.02 149.38h0M154.78 72.48h0M162.67 154.42h0M99.44 92.23h0M134.63 93.17h0M131.87 128.04h0M141.41 99.94h0M174.27 81.32h0M130.36 76.76h0M109.29 103.86h0M159.6 81.6h0M125.67 85.44h0M149.02 118.3h0M174.44 115.3h0M136.37 83.15h0M159.71 131.9h0M126.83 92.23h0M106.66 93.61h0M147.51 78.41h0M141.14 125.54h0M131.77 113.42h0M105.36 135.04h0M118.09 78.71h0M154.22 114.8h0M167.77 95.97h0M162.04 85.49h0M151.27 99.8h0M164.92 115.92h0M171.08 113.67h0M157.36 139.43h0M143.26 74.37h0M122.44 81.68h0M152.96 104.48h0M155.34 124.18h0M140.68 107.08h0M103.15 120.84h0M129.4 126.85h0M102.62 92.11h0M151.53 145.77h0M154.44 86.99h0M146.97 71.58h0M138.2 76.16h0M143.61 142.29h0M121.26 76.87h0M110.37 85.41h0M153.65 139.09h0M162.33 130.04h0M141.14 150.26h0M121.8 120.41h0M156.46 170.09h0M148.38 143.87h0M165.51 118.15h0M161.7 120.9h0M157.64 96.52h0M110.97 89.75h0M97.36 135.13h0M95.04 123.24h0M158.67 87.06h0M129.07 85.38h0M164.75 77.81h0M106.4 100.37h0M122.61 88.76h0M156.72 140.22h0M92.57 113.94h0M147.36 102.62h0M135.85 120.4h0M169.96 106.09h0M154.5 92.07h0M114.23 100.19h0M168.66 107.71h0M126.22 79.34h0M136.32 89.94h0M132.53 99.02h0M89.51 110.48h0M136.17 112.28h0M107.21 129.21h0M160.22 140.58h0M160.48 140.17h0M159.69 137.22h0M97.47 127h0M121.39 78.92h0M162.07 91.31h0M107.59 88.8h0M174.4 105.76h0M89.62 99.66h0M170.21 109.82h0M163.7 119.26h0M162.08 152.47h0M167.48 127.07h0M112.07 132.82h0M126.4 147.4h0M99.43 122.64h0M164.03 122.51h0M153.29 82.68h0M153.36 76.08h0M145.34 76.98h0M145.32 124.4h0M156.68 91.27h0M128.28 79.95h0M122.6 100.94h0M153.51 166.85h0M123.29 90.94h0M91.19 106.36h0M97.52 104.96h0M109.23 111.58h0M121.09 82.84h0M164.94 123.02h0M158.96 156.15h0M155.82 108.48h0M91.43 100.41h0M104.86 92.18h0M89.6 108.8h0M132.34 99.1h0M139.01 137.03h0M114.04 105.47h0M161.86 90.23h0M122.03 86.71h0M135.03 137.54h0M128.41 124.83h0M159.52 112.33h0M158.61 139.85h0M142.15 134.69h0M144.71 80.62h0M162.85 115.63h0M154.77 103.53h0M172.95 102.65h0M154.68 127.92h0M92.54 126.19h0M158.69 153.86h0M172.51 112.82h0M123.26 98.68h0M88.48 117.5h0M142.03 152.71h0M156.63 111.39h0M149.56 99.66h0M133.81 142.89h0M139.06 96.6h0M151.24 110.55h0M128.39 127.96h0M142.59 136.94h0M150.3 79.46h0M162.07 128.71h0M112.74 111.86h0M121.74 115h0M122.16 146.54h0M119.5 126.45h0M153.95 101.39h0M97.34 101.14h0M146.29 133.76h0M155.81 85.49h0M158.22 143.2h0M130.38 105.52h0M116.55 103.12h0M110.34 100.51h0M152.03 72.16h0M156.75 131.52h0M167.48 136.25h0M156.99 143.73h0M154.78 139.87h0M122.86 115.55h0M161.64 81.88h0M120.79 102.45h0M157.93 126.35h0M125.99 91.51h0M151.04 135.9h0M92.4 111.91h0M122.09 90.52h0M118.53 95.08h0M150.26 95.61h0M166.91 82.5h0M93.14 110.19h0M152.84 74.03h0M122.98 75.83h0M163.54 143.91h0M147.06 132.8h0M150.48 133.68h0M95.83 108.77h0M138.87 134.91h0M142.31 144.81h0M94.63 118.05h0M130.62 108.29h0M128.94 75.64h0M159.23 74.08h0M109.14 136.02h0M132.51 150.63h0M103.21 130.94h0M176.72 102.41h0M137.66 90.32h0M133.59 135.87h0M159.92 90.26h0M96.38 122.19h0M142.84 150.11h0M150.15 103.67h0M166.38 127.17h0M150.21 137.18h0M163.02 73.19h0M153.8 113.51h0M149.6 137.78h0M102.12 108h0M131.02 137.76h0M134.65 77.8h0M154.36 149.05h0M116.16 82.28h0M127.94 80.6h0M161.47 106.96h0M151.99 163.87h0M144.79 153.24h0M162 104.07h0M136.98 88.52h0M106.67 84h0M142.8 102.48h0M153.25 114.03h0M165.35 95.13h0M166.6 87.73h0M139.05 123.36h0M157.58 123.16h0M166.76 109.12h0M124.94 78.58h0M101.93 105.9h0M135.84 92.43h0M156.47 155.37h0M144.74 155.54h0M106.36 86.27h0M176.85 97.49h0M170.57 78.71h0M157.42 112.94h0M109.9 116.22h0M165.56 76.25h0M98.38 131.2h0M161.7 81.54h0M118.25 147.32h0M96.89 118.87h0M87.41 123.25h0M101.67 140h0M140.67 95.91h0M166.82 100.37h0M134.3 120.27h0M119.82 82.34h0M114.97 121.59h0M159.79 141.8h0M165.58 125.65h0M157.89 170.52h0M119.5 125.08h0M136.94 93.52h0M174.5 133.5h0M176.3 124.6h0" stroke="#8DB894" stroke-opacity="0.85" stroke-width="2.7" stroke-linecap="round" fill="none"/>
<path d="M156.07 140.96h0M122.67 113.4h0M103.61 126.29h0M142.32 124.49h0M163.52 116.21h0M167.66 123.69h0M154.48 169.89h0M102.83 105.19h0M92.57 119.7h0M163.1 125.85h0M141.93 115.92h0M117.67 138.76h0M155.45 93.27h0M153.78 134.37h0M116.81 132.38h0M115.07 96.86h0M127.28 128.62h0M117.84 119.01h0M117.26 95.4h0M137.92 107.93h0M95.7 100.89h0M138.41 78.97h0M136.74 145.92h0M87.96 121.59h0M103.42 96.61h0M129.15 78.66h0M150.82 94.78h0M163.18 94.43h0M153.77 92.2h0M126.67 78.57h0M109.65 137.95h0M169.2 93.49h0M170.69 108.18h0M162.58 78.87h0M165.42 106.3h0M158.52 95.06h0M116.09 139.88h0M128.37 118.35h0M93.51 134.63h0M95.32 123.57h0M156.17 97.93h0M155.6 91.06h0M143.79 95.78h0M163.83 80.3h0M150.1 123.8h0M171.51 88.85h0M102.94 133.52h0M147.75 131.34h0M167.45 110.56h0M152.39 159.18h0M161.96 135.11h0M124.13 118.38h0M148.24 101.59h0M159.33 136.58h0M114.97 110.51h0M162.63 106.63h0M151.46 76.45h0M167.8 118.34h0M136.92 96.39h0M143.82 91.87h0M136.85 105.02h0M108.63 108.74h0M95.23 121.84h0M135.56 129.56h0M131.34 101.03h0M150.62 128.36h0M110.01 126.42h0M132.79 139.94h0M143.4 138.41h0M166.99 108.9h0M99.11 99.25h0M142.06 121.5h0M163.66 99.01h0M147.67 152.73h0M160.92 123.07h0M118.59 127.13h0M155.93 148.02h0M170.86 110.31h0M152.14 84.85h0M90.43 114.11h0M169.1 110.38h0M150.89 78.58h0M88.43 108.02h0M150.97 80.86h0M108.96 107.17h0M134.44 105.69h0M104.15 134.8h0M155.01 107.99h0M145.28 116.13h0M114.77 113.6h0M165.92 145.32h0M149.38 112.83h0M148.56 117.18h0M161.81 113.28h0M86.34 108.61h0M151.14 90.59h0M103.1 102.36h0M124.5 85.82h0M101.89 97.48h0M110.01 143.4h0M131.01 109.52h0M128.64 89.56h0M126.07 114.29h0M101.22 125.64h0M132.21 106.5h0M144.2 95.48h0M134.59 87.66h0M155.62 156.56h0M147.62 118.19h0M158.5 148.85h0M107.01 142.88h0M123.98 136.7h0M142.59 141.79h0M158.77 113.53h0M116.95 125.96h0M169.04 109.42h0M125.18 116.74h0M144.44 99.9h0M133.62 79.1h0M121.98 101h0M103.35 106.61h0M130.93 100.02h0M141.85 125.65h0M104.86 101.11h0M162.07 93.5h0M85.3 114.44h0M128.94 129.73h0M93.14 116.06h0M113.35 133.95h0M161.9 165.04h0M139.77 106.17h0M151.75 87.96h0M162.84 157.15h0M138.64 97.58h0M109.17 102.48h0M122.67 131.27h0M130.22 131.53h0M138.2 78.74h0M165.12 118.32h0M155.52 160.31h0M99.48 89.48h0M126.55 104.99h0M166.25 129.04h0M108.9 93.41h0M153.34 164.33h0M121.07 91.71h0M146.91 125.34h0M136.37 105.26h0M112.61 97.4h0M112.64 83.84h0M95.99 108.22h0M139.42 106.04h0M130.38 117.25h0M139.9 136.57h0M134.9 142.06h0M109.56 114.06h0M163.04 102.69h0M155.62 129.73h0M167.58 146.59h0M169.25 102.55h0M153.37 170.12h0M135.74 89.64h0M161.14 98.92h0M169.83 81h0M169.24 94.17h0M162.6 146.2h0M146.31 130.54h0M130.68 127.47h0M153.92 168.61h0M106.98 141.09h0M141.19 104.59h0M158.9 143.74h0M111.27 117.36h0M104.16 106.94h0M135.45 82.26h0M162.96 157.47h0M142.9 74.65h0M116.32 94.97h0M169.2 135.46h0M107.33 128.89h0M108.71 93.09h0M140.16 135.62h0M115.95 104.21h0M115.35 139.09h0M144.98 150.33h0M155.95 120.91h0M106.72 133.89h0M161.42 140.89h0M126.37 130.52h0M119.76 126.54h0M99 125.95h0M143.13 103.01h0M133.33 99.48h0M131.98 101.25h0M103.35 143.63h0M95.98 106.28h0M93.95 109.8h0M107.27 129.38h0M147.32 81.35h0M142.76 105.44h0M120.12 88.98h0M146.21 100.28h0M126.36 110.88h0M135.35 104.24h0M151.77 102.31h0M173.47 91.16h0M93.84 110.99h0M103.65 92.95h0M137.16 84.95h0M111.36 88.49h0M125.68 119.04h0M138.91 91.63h0M133.63 132.28h0M155.28 112.38h0M93.4 110.57h0M138.08 79.45h0M105.5 118.69h0M155.35 126.51h0M133.33 124.59h0M101.73 124.36h0M160.41 117.91h0M153.32 165.53h0M119.45 109.45h0M146.03 83.89h0M120.99 83.75h0M157.55 174.56h0M155.83 112.92h0M141.11 79.67h0M150.43 118.04h0M152.58 107.64h0M115.09 87.1h0M150.14 151.32h0M153.38 131.05h0M158.89 71.88h0M125.38 119.85h0M132.4 94.07h0M122.16 152.34h0M132.4 103.49h0M131.68 102.24h0M149.06 75.01h0M139.81 85.39h0M117.97 115.21h0M166.35 88.57h0M92.31 115.17h0M157.63 136.01h0M122.57 127.58h0M103.45 121.68h0M164 115.11h0M147.17 100.77h0M144.85 148.78h0M145.05 70.78h0M162.9 126.62h0M89.89 113.18h0M135.99 131.11h0M127.64 123.83h0M88.89 115.09h0M134.96 106.3h0M126.54 147.97h0M151.35 87.62h0M137.13 108.81h0M116.97 145.28h0M92.07 132.9h0M145.84 128.83h0M142.85 111.96h0M122.84 111.6h0M158.12 126.75h0M140.25 86.41h0M93.86 124h0" stroke="#FBC55F" stroke-opacity="0.85" stroke-width="2.7" stroke-linecap="round" fill="none"/>
<path d="M111.23 83.49h0M149.48 126.52h0M162.73 98.36h0M104.45 132.02h0M158.27 95.71h0M155.4 70.32h0M132.23 146.16h0M123.74 135.44h0M150.89 88.29h0M115.09 101.65h0M146.79 99.68h0M144.87 108.01h0M162.67 151.4h0M121.17 122.76h0M167.51 87.4h0M122.18 125.97h0M90.6 99.3h0M133.93 117.64h0M165.75 71.86h0M100.33 102.57h0M98.7 125h0M158.26 74.77h0M117.44 100.25h0M162 163.06h0M145.79 140.42h0M143.11 103.38h0M120.03 111.1h0M164.75 117.51h0M117.04 127.05h0M107.46 104.88h0M133.49 76.73h0M165.28 119.48h0M97.84 127.16h0M145.68 161.65h0M134.89 98.72h0M158.51 160.76h0M144.71 89.08h0M164.49 120.5h0M111.31 112.13h0M168.91 114.27h0M124.16 115.62h0M150.21 132.19h0M128.31 103.14h0M163.2 109.48h0M96.38 92.81h0M139.47 83.67h0M142.09 115.34h0M147.72 83.84h0M162.42 87.76h0M123.25 135.61h0M123.9 107.44h0M116.35 128.26h0M113.56 148.91h0M173.63 92.04h0M156.04 104.91h0M159.69 83.7h0M146.61 115.23h0M138.85 136.1h0M129.55 113.26h0M149.72 117.37h0M146.41 85.53h0M132.27 97.46h0M146.39 118.24h0M163.21 158.8h0M98.83 108.62h0M136.42 82.24h0M152.76 100.26h0M129.1 76.82h0M170.38 126.27h0M157.05 97.13h0M120.59 117.74h0M167.35 77.13h0M116.4 117.07h0M89.52 131.38h0M126.05 93.83h0M105.49 86.93h0M157.97 114.05h0M108.59 99.45h0M167.71 113.56h0M166.67 120.12h0M140.31 136.38h0M132.26 117.7h0M102.74 98.1h0M120.39 103.96h0M155.73 108.27h0M138.76 99.57h0M155.26 107.39h0M109.09 138.55h0M147.98 91.72h0M158.88 142.03h0M167.82 126.86h0M88.48 111.81h0M153.81 116.09h0M171.33 116.44h0M142.99 152.4h0M172.18 112.77h0M112.96 98.48h0M163.41 134.63h0M154.72 138.11h0M127.54 80.25h0M108.61 121.47h0M141.18 93.06h0M144.88 142.48h0M159.86 150.14h0M152.09 78.51h0M142.5 96.8h0M125.9 150.34h0M163.93 124.69h0M134.38 136.07h0M93.36 97.64h0M157.89 111.44h0M96.13 102.62h0M128.88 103.9h0M172.72 116.15h0M129.91 106.1h0M153.23 84.77h0M87.25 107.08h0M130.42 108.17h0M124.89 137.53h0M169.15 87.14h0M95.36 122.05h0M120.53 116.37h0M115.87 111.02h0M114.34 131.67h0M94 113.92h0M161.53 111.24h0M135.15 151.05h0M153.6 73.5h0M112.63 113.04h0M148.29 136.88h0M151.8 138.29h0M106.6 118.46h0M116.53 111.18h0M170.26 81.4h0M128.37 87.94h0M127.41 91.81h0M112.48 84.8h0M155.89 142.85h0M133.31 111.91h0M142.57 120.7h0M148.16 78.34h0M142.1 107.89h0M163.85 104.9h0M105.94 95.37h0M167.3 112.45h0M88.98 98.58h0M126.48 81.09h0M102.24 127.05h0M151.66 145.32h0M154.94 79.78h0M125.83 78.44h0M118.53 92.1h0M116.98 120.52h0M173.86 123.73h0M149.06 150.75h0M161.99 98.38h0M92.09 101.2h0M162.75 96.8h0M140.96 84.25h0M121.6 103.09h0M160.18 168.22h0M161.88 99.98h0M90.85 115.48h0M158.93 104.04h0M119.94 118h0M101.79 113.2h0M145.15 137.98h0M169.09 83.73h0M128.49 123.18h0M142.82 102.57h0M128.37 79.26h0M157.52 155.46h0M168.05 95.81h0M158.52 159.77h0M173.47 105.61h0M139.24 112.74h0M142.19 105.9h0M165.58 88.97h0M129.02 134.78h0M101.75 127.32h0M151.41 93.56h0M139.82 154.42h0M163.08 153.46h0M171.78 98.51h0M153.65 148.83h0M160.8 162.8h0M167.93 103.72h0M161.92 100.84h0M120.77 99.16h0M135.06 126.56h0M122.91 124.22h0M96.74 120.35h0M165.14 91.32h0M135.86 86.57h0M109.63 145.2h0M95.36 115.98h0M141.08 95.48h0M119.56 120.64h0M131.08 90.24h0M166.05 129.81h0M143.4 128.68h0M156.78 122.18h0M137.13 109.13h0M99.58 142.06h0M133.86 120.22h0M110.81 133.68h0M176.64 111.89h0M163.49 135.66h0M169 109.39h0M161.27 74.96h0M132.65 83.17h0M90.42 99.31h0M168.38 92.13h0M133.49 136.93h0M156.35 134.4h0M164.59 98.95h0M134.4 123.67h0M111.13 131.98h0M126.51 84.26h0M168.65 84.12h0M130.82 116.27h0M112.35 99.11h0M111.62 131.7h0M113.94 145.81h0M158.82 152.09h0M95.29 116.1h0M105.73 131.64h0M122.17 115.86h0M112.54 110.08h0M95.65 112.03h0M174.59 85.72h0M100.25 142.31h0M130.16 78.57h0M152.17 158.61h0M103.81 127.18h0M90.23 101.98h0M166.7 107.03h0M160.88 147.35h0M151.14 155.4h0M108.49 127.94h0M135.01 149.13h0M91.81 125.54h0M164.88 139.28h0M150.8 94.21h0M102.97 131.23h0M121.57 123.16h0M168.16 72.65h0M173.9 79.98h0M130.18 110.13h0M88.9 119.32h0M135 98.77h0M151.06 149.98h0M140.08 118.9h0M152.92 108.57h0M145.26 79.49h0M118.28 91.3h0M96.89 120.32h0M154.67 80.27h0M167.08 139.03h0M155.57 81.19h0M108.56 145.81h0M164.25 137.3h0M111.83 100.97h0M155.1 127.37h0M129.46 95.5h0M147.42 152.97h0M169.92 80.89h0M139.95 89.02h0M101.12 107.53h0M152.28 106.02h0M132.01 88.31h0M125.3 104.03h0M126.49 147.32h0M94.92 101.35h0M165.82 145.66h0M111.34 114.78h0M109.26 109.21h0M105.66 104.44h0M168.42 144.19h0M144.93 100.04h0M87.46 100.31h0M133.02 102.28h0M178.5 113h0M181.5 103.5h0" stroke="#8DB894" stroke-opacity="0.85" stroke-width="2.7" stroke-linecap="round" fill="none"/>
<path d="M97.84 134.64h0M97.07 105.46h0M108.19 93.02h0M166.73 91.56h0M170.57 114.52h0M131.4 118.97h0M150.5 100.1h0M100.52 108.06h0M109.36 133.28h0M88.88 111.28h0M104.71 110.91h0M95.85 123.83h0M128.95 152.65h0M101.29 103.14h0M133.33 109.37h0M151.83 122.98h0M138.35 97.39h0M162.57 147.11h0M117.74 76.62h0M158.21 89.3h0M153.47 160.31h0M160.65 102.26h0M115.69 83.53h0M114.13 93.74h0M169.67 100.3h0M143.11 117.06h0M97.48 122.54h0M171.55 80.03h0M144.2 110.59h0M166.43 81.09h0M129.29 118.47h0M116.65 108.8h0M140.43 106.65h0M139.41 125.88h0M143.18 77.09h0M89.93 110.72h0M164.27 143.98h0M92.8 122.46h0M140.19 105.92h0M112.89 119.15h0M170.73 105.16h0M102.49 106.09h0M120.29 149.39h0M138.88 142.65h0M152.83 170.68h0M164.85 125.8h0M92.79 99.81h0M134.06 107.58h0M86.28 117.21h0M153.85 80.69h0M159.15 102.98h0M129.07 90.66h0M147.65 148.35h0M88.92 96.89h0M91.02 106.35h0M169.71 90.36h0M141.43 151.14h0M168.38 90.27h0M154.46 108.95h0M137.39 109.92h0M138.53 82.85h0M114.19 82.65h0M132.68 154.08h0M95.08 102.81h0M141.59 82.31h0M113.15 138.14h0M97.61 96.62h0M116.2 114.56h0M135.12 136.2h0M152.93 80.22h0M117.2 81.17h0M139.28 123.83h0M159.56 111.17h0M149.05 116.1h0M97.35 131.57h0M99.47 100.74h0M168.4 94.45h0M160.36 86.5h0M141.97 96.38h0M134.48 117.77h0M142.6 119.43h0M125.46 96.53h0M154.17 91.25h0M139.28 87.12h0M145.04 133.64h0M155.67 149.82h0M114.42 106.56h0M164.82 127.91h0M167.42 120.45h0M174.61 104.06h0M162.71 154.85h0M144.15 129.04h0M152.06 134.63h0M106.63 87.78h0M97.5 99.93h0M142.05 112.54h0M135.61 106.11h0M174.11 107.95h0M120.12 120.68h0M170.11 87.76h0M105.08 114.39h0M162.18 106.12h0M161.81 133.96h0M143.39 102.31h0M119.97 148.91h0M128.5 91.56h0M139.02 136.77h0M91.46 109.77h0M99.22 139.91h0M140.31 108.74h0M167.36 90.01h0M145.23 86.91h0M169.85 121.98h0M118.57 120.09h0M169.66 121.1h0M86.63 113.94h0M106.74 86.68h0M108.52 126.54h0M145.38 89.87h0M125.07 114.87h0M118.27 128.12h0M154.16 96.42h0M152.24 90.04h0M130.91 137.05h0M92.12 107.28h0M136.75 78.91h0M105.92 136.66h0M142.34 79.56h0M148.86 94.26h0M159.11 166.71h0M134.4 97.24h0M135.36 130.02h0M169.68 93.61h0M146.67 118.57h0M153.83 107.16h0M115.13 104.78h0M97.37 140.91h0M160.21 102h0M102.92 103.15h0M151.31 135.61h0M136.95 104.03h0M117.99 80.03h0M109.32 93.2h0M160.01 145.5h0M114.79 144.09h0M163.43 110.64h0M102.17 128.79h0M151.31 143.01h0M137.66 113.77h0M160.49 113.29h0M121.42 108.4h0M170.19 119.62h0M118.59 81.42h0M111 127.7h0M150.65 106.7h0M162.92 131.26h0M148.85 141.84h0M96.1 116.08h0M167.42 102.82h0M158.9 95.82h0M160.77 151.92h0M152.83 125.44h0M132.89 80.41h0M162.27 80.75h0M118.47 93.2h0M159.47 93.68h0M143.5 136.34h0M133.86 119.55h0M91.38 101.06h0M131.61 149.81h0M107.57 140.56h0M136.5 113.16h0M161.87 138.32h0M154.57 121.46h0M165.72 152.47h0M131.56 106.01h0M108.32 114.57h0M168.1 133.88h0M107.41 110.97h0M134.13 98.73h0M155.05 93.44h0M156.42 124.45h0M96.52 134.72h0M108.55 113.15h0M152.79 155.41h0M100.77 117.89h0M158.23 105.06h0M161.32 81.48h0M109.1 127.26h0M104.14 91.27h0M144.44 83.13h0M139.51 119.4h0M126.09 149.53h0M168.19 92.12h0M140.24 93.26h0M148.47 101.77h0M111.93 87.49h0M106.22 92.31h0M107.97 142.7h0M161.92 144.57h0M140.63 152.28h0M149.4 81.81h0M171.98 120.35h0M158.12 80.71h0M143.32 123.52h0M158.53 122.3h0M148.24 93.84h0M108.65 115.6h0M140.9 79.27h0M120.76 131.99h0M140.23 82.89h0M118.86 107.13h0M140.38 122.85h0M139.96 77.89h0M161.97 115.47h0M97.37 103.52h0M139.53 133.1h0M131.77 104.39h0M152.73 80.82h0M162.01 106.92h0M124.68 96.5h0M166.94 85.31h0M105.3 119.42h0M91.94 126.16h0M145.3 81.22h0M120.56 98.99h0M105 104.06h0M160.02 127.04h0M153.98 75.58h0M98.69 111.82h0M148.34 149.74h0M130.5 110.09h0M89.23 103.96h0M166.48 106.6h0M171.52 127h0M101.69 101.97h0M94.97 116.01h0M154.94 112.31h0M156.18 102.61h0M103.23 127.56h0M133.23 122.23h0M158.26 146.92h0M86.65 103.63h0M149.78 79.03h0M154.67 102.25h0M164.75 119.21h0M173.8 121.13h0M114.6 93.43h0M108.73 94.29h0M111.55 140.91h0M133.88 86.16h0M102.1 99.28h0M150.16 158.41h0M158.1 72.58h0M132.57 93.88h0M124.76 117.76h0M119.65 94.75h0M159.23 120.89h0M167.37 88.73h0M152.73 140.36h0M154.49 115.66h0M102.25 116.08h0M112.97 103.39h0M149.96 156.41h0M120.29 87.22h0M154.93 87.02h0M142.81 99.82h0M120.45 119.9h0M165.3 85.02h0M89.2 129.55h0M165 121.21h0M165.15 128.1h0M162.42 129.88h0M169.08 79.16h0M139.42 95.2h0M121.01 123.73h0M157.22 76.14h0M111.49 81.96h0M147.31 94.97h0M110.47 97.51h0M159.78 168.11h0M159.78 141.69h0" stroke="#FBC55F" stroke-opacity="0.85" stroke-width="2.7" stroke-linecap="round" fill="none"/>
<path d="M128.81 85.8h0M137.88 120.73h0M167.72 98.35h0M131.85 147.83h0M119.27 119.54h0M94.93 123.77h0M115.14 114h0M91.45 109.13h0M90.3 131.12h0M138.18 79.47h0M111.72 99.76h0M124.65 133.8h0M118.25 82.29h0M133.64 127.48h0M105.34 114.05h0M104.16 91.6h0M120.16 131.18h0M112.43 108.35h0M116.79 118.9h0M140.8 151.52h0M151.72 99.14h0M103.47 114.03h0M159.33 158.1h0M148.39 100.59h0M134.7 115.1h0M109.84 92.43h0M124.09 113.74h0M125.24 93.58h0M107.66 107.84h0M153.43 99.63h0M153.82 137.51h0M128.29 82.08h0M136.98 140.89h0M159.86 133.17h0M149.33 126.14h0M103.87 96.73h0M101.2 131.87h0M91.87 97.76h0M157.18 149.09h0M157.23 92.32h0M113.2 96.98h0M148.49 147.54h0M123.45 135h0M136 97.34h0M120.7 142.48h0M136.93 149.27h0M163.16 147.29h0M166.47 108.62h0M157.81 146.32h0M135.63 85.67h0M158.56 139.64h0M166.95 77.17h0M175.7 114.89h0M168.31 78.6h0M166.16 123.57h0M151.57 110.25h0M158.28 93.31h0M168.36 109.86h0M139.9 148.28h0M146.07 101.04h0M135.63 122.08h0M139.44 99.69h0M157.66 145.54h0M129.36 104.63h0M144.74 78.88h0M149.64 73.4h0M135.79 90.83h0M101.48 100.86h0M144.44 89.1h0M112.04 113.76h0M160.5 129.21h0M145.8 148.01h0M160.65 145.17h0M153.17 123.65h0M132.05 124.01h0M127.32 82.45h0M115.06 106.52h0M89.72 104.35h0M159.65 124.95h0M129.82 107.48h0M107.79 113.64h0M169.44 114.49h0M147.61 92.81h0M128.07 97.5h0M119.67 125.96h0M161.42 114.03h0M126.85 134.81h0M117.62 124.88h0M154.19 131.63h0M164.59 102.19h0M167.62 143.4h0M131.77 116.71h0M171.28 82.88h0M166.23 103.88h0M115.02 92.7h0M158.13 148.63h0M125.78 90.94h0M91.25 120.19h0M150.09 134.54h0M149.57 83.45h0M142.97 133.89h0M164.48 132.2h0M99.42 124.38h0M103.76 119.27h0M136.69 126.75h0M166.43 135.52h0M96.77 130.61h0M164.48 74.36h0M97.19 113.71h0M98.28 98.4h0M105.54 93.23h0M134.13 134.7h0M99.74 128.9h0M97.49 110.49h0M149.05 116.1h0M147.06 79.43h0M156 126.57h0M143.99 115.5h0M94.33 105.43h0M156.27 100.89h0M142.45 81h0M122.23 79.89h0M161.61 134.85h0M153.01 135.89h0M162.44 116.38h0M156.53 112.17h0M125.96 110.1h0M135.59 150.19h0M130.8 91h0M150.52 136.86h0M108.39 127.83h0M117.54 109.05h0M167.21 118.73h0M112.13 109.07h0M123.48 112.7h0M126.7 98.1h0M129.46 111.63h0M148.21 91.94h0M132.1 108.97h0M99.82 115.93h0M101.4 121.38h0M167.79 109.26h0M116.25 106.86h0M153.03 131.91h0M139.89 109.21h0M138.59 85.15h0M147.91 82.04h0M160.52 116.46h0M133.55 101.97h0M114.88 79.81h0M147.54 130.88h0M120.27 77.12h0M107.96 81.17h0M86.65 102.06h0M157.06 138.91h0M157.4 80.41h0M87.28 127.67h0M164.38 145.92h0M97.27 102.57h0M108.12 127.45h0M137.88 104.91h0M144.05 84.29h0M143.76 108.25h0M104.54 92.39h0M146.01 97.32h0M150.64 155.04h0M116.53 83.09h0M116.01 113.1h0M143.26 101.21h0M97.11 128.25h0M121.21 147.6h0M152.39 73.98h0M145.89 84.75h0M114.84 139.06h0M143.37 88.03h0M133.32 103.14h0M110.57 102.81h0M119.96 118.8h0M90.11 126.91h0M100.93 90.79h0M101.53 127.91h0M121.96 105.43h0M170 84.72h0M115.76 125.19h0M153.6 118.16h0M116.13 82.36h0M158.31 144.81h0M161.62 87.34h0M155.85 146.63h0M112.59 109.97h0M87.01 108.02h0M121.73 107.97h0M105.5 103.17h0M132.78 145.49h0M166.57 133.52h0M134.85 75.95h0M153.18 104.16h0M122.58 136.65h0M141.09 115.17h0M89.13 109.11h0M139.99 151.82h0M144.81 108.36h0M173.01 96.32h0M141.94 83.72h0M138.6 106.49h0M148.81 114.05h0M122.24 97.94h0M157.63 87.02h0M117.5 134.94h0M169.73 85.25h0M102.72 129.97h0M165.82 134.89h0M93.02 119.46h0M162.02 138.69h0M111.13 124.37h0M156.2 95.06h0M122.19 104h0M97.35 137.71h0M106.11 120.32h0M172.81 101.99h0M109.84 117.42h0M150.37 129.39h0M165.81 139.36h0M128.45 138.06h0M151.97 134.38h0M90.36 131.99h0M151.58 73.98h0M140.36 133.64h0M123.24 128.19h0M168.04 125.09h0M173.21 92.49h0M87.3 109.89h0M128.77 135.49h0M139.97 129.98h0M90.73 96.41h0M129.35 80.06h0M94.05 118.79h0M123.39 131.82h0M91.27 107.92h0M166.44 106.43h0M162.02 73.19h0M139.28 126.68h0M105.76 107.97h0M172.48 74.12h0M145.67 113.66h0M160.49 142.88h0M152.05 79.14h0M153.76 137.74h0M107.4 87.4h0M126.88 142.59h0M161.32 101.57h0M92.89 117.12h0M144.97 157.22h0M92.45 124.88h0M98.52 93.05h0M126.91 125.68h0M168.64 98.84h0M168.74 129.81h0M159.16 80.48h0M127.9 92.37h0M132.84 86.91h0M139.76 74.64h0M162.53 152.3h0M140.33 121.38h0M105.53 116.09h0M130.24 104.92h0M93.54 93.81h0M104.98 86.72h0M171 72h0M93.5 87.7h0" stroke="#8DB894" stroke-opacity="0.85" stroke-width="2.7" stroke-linecap="round" fill="none"/>
<path d="M150.77 117.19h0M91.54 96.39h0M169.21 82.88h0M155.4 77.08h0M146.53 113.3h0M146.38 155.15h0M158.56 127.87h0M121.89 101.87h0M101.63 112.23h0M133.93 103.2h0M103.46 140.66h0M159.87 144.94h0M135.08 152.56h0M143.23 110.11h0M164.37 128.2h0M108.05 111h0M87.07 121.37h0M143.08 149.01h0M142.44 105.98h0M87.01 116.22h0M169.08 93.14h0M168.43 124.23h0M109.6 125.32h0M110.5 108.26h0M141.06 99.07h0M145.44 106.23h0M124.52 97.83h0M171.3 94.59h0M151.89 102.32h0M108.52 89.95h0M146.73 91.75h0M132.65 84.78h0M150.88 84.14h0M157.13 145.89h0M166.76 98.57h0M128.23 106.86h0M126.8 148.65h0M166.48 139.17h0M151.29 135.28h0M148.79 133.39h0M119.44 119.78h0M101.32 121.11h0M90.33 118.07h0M156.04 93.9h0M167.75 94.82h0M137.93 88.62h0M150.64 138.71h0M130.93 96.42h0M146.65 138.1h0M124.95 98.11h0M101.84 104.98h0M150.15 92.44h0M162.38 128.33h0M170.85 82.85h0M130.18 83.62h0M169.58 104.58h0M128.93 119.17h0M89.45 119.69h0M147.95 133.95h0M161.78 120.79h0M171.26 77.82h0M166.69 117.23h0M150.3 105.02h0M134.97 120.64h0M140.88 78.85h0M146.5 71.98h0M135.88 78.28h0M132.11 76.61h0M143.17 134.72h0M134.82 92.38h0M137.41 111.05h0M157.6 105.69h0M110.16 110.04h0M114.39 84.31h0M90.27 111.43h0M99.68 119.12h0M103.18 110.52h0M170.56 82.87h0M98.22 131.76h0M148.38 140.1h0M150.01 89.11h0M118.24 132.03h0M110.95 86.44h0M122.81 135.49h0M161.93 111.59h0M162.45 100.48h0M149.24 86.19h0M130.28 116.44h0M109.67 134.67h0M162.61 150.59h0M147.59 82.7h0M89.78 122.71h0M107.01 109.79h0M161.99 89.9h0M167.25 134.91h0M117.52 82.09h0M130.2 83.25h0M142.66 89.03h0M93.71 97.74h0M94.84 124.16h0M93.2 105.46h0M131.31 117.97h0M133.68 137.45h0M107.88 82.62h0M122.18 86.15h0M108.45 122.09h0M110.14 145.06h0M128.59 141.48h0M150.56 124.58h0M136.24 97.05h0M153.31 108.13h0M114.77 105.78h0M154.53 81.79h0M107.63 123.03h0M120.79 81.87h0M123.49 77.37h0M156.85 70.89h0M136.48 144.24h0M146.03 108.36h0M142.25 88.13h0M146.33 114.67h0M163.26 109.31h0M140.37 101.73h0M123.41 120.42h0M162.6 92.3h0M154.24 141.33h0M162.8 147.6h0M126.84 115.59h0M113.39 125.81h0M172.86 96.06h0M124.6 99.93h0M102.68 93.68h0M116.69 107.77h0M119.78 104.68h0M159.17 136.52h0M93.45 104.42h0M141.9 149.67h0M132.58 94.85h0M105.14 91.65h0M171.64 106.99h0M146.36 79.88h0M126.22 89.9h0M162.91 125.89h0M90.11 122.85h0M153.29 157.75h0M115.09 86.6h0M91.78 127.31h0M106.15 142.38h0M87.39 115.41h0M151.5 146.98h0M93.97 97.66h0M159.06 82.62h0M138.58 97.88h0M111.17 106.6h0M129.13 102.72h0M140.94 117.02h0M90.01 137h0M103.4 114.7h0M168.82 132.29h0M123.52 73.19h0M117.37 121.68h0M119.93 118.55h0M93.33 103.77h0M163.7 104.16h0M129.86 111.13h0M143.7 141.53h0M164.13 78.28h0M98.1 115.35h0M91.65 124.3h0M94.27 124.29h0M112.46 98.75h0M151.32 162.85h0M92.67 128.92h0M124.9 107.17h0M130.05 144.82h0M139.35 75.15h0M134.53 78.22h0M97.16 123.6h0M154.49 153.78h0M101.34 125.72h0M148.44 94.67h0M127.09 114.13h0M154.72 96.63h0M151.28 90.5h0M112.03 131.81h0M92.24 117.77h0M160.34 108.24h0M91.98 110.74h0M146.81 140.05h0M115.13 92.41h0M166.3 92.16h0M95 116.23h0M133.69 140.01h0M146.01 88.02h0M111.12 107.47h0M150.99 76.99h0M149.09 82.88h0M90.57 93.57h0M156.26 120.3h0M112.86 98.06h0M97.2 101.76h0M146.26 120.61h0M131.05 83.63h0M126.94 91.7h0M141.07 127.7h0M153.74 161.47h0M129.99 135.66h0M121.6 123.14h0M173.69 117.26h0M155.76 137.7h0M143.74 102.32h0M157 128.29h0M161.93 123.99h0M133.94 114.47h0M146.92 148.94h0M162.71 132.26h0M169.52 108.6h0M151.51 86.07h0M136.6 140.19h0M169.93 100.79h0M154.94 105.22h0M156.98 131.53h0M135.91 126.04h0M148.98 135.05h0M144.7 73.69h0M141.92 92.31h0M164.28 118.94h0M161.6 113.56h0M90.65 105.56h0M149.2 121.67h0M128.71 94.73h0M155.94 106.9h0M161.32 94.05h0M148.92 90.79h0M159.3 87.6h0M143.04 99.31h0M153.97 86.48h0M94.26 97.52h0M103.46 91.56h0M93.15 131.7h0M164.29 139.84h0M150.59 97.75h0M163.07 153.14h0M95.09 121.54h0M104.97 136.19h0M154.69 86.62h0M106.42 111.1h0M154.17 93.06h0M129.97 87.78h0M103.41 115.14h0M155.64 174.82h0M140.58 123.46h0M141.75 114.53h0M135.02 118.58h0M102.14 134.18h0M99.22 90.71h0M93.86 118.78h0M88.13 105h0M149.33 119.49h0M114.87 123.82h0M98.59 95.69h0M164.54 107.75h0M159.33 107.55h0M125.95 130.61h0M95.7 105.02h0M161.47 88.39h0" stroke="#FBC55F" stroke-opacity="0.85" stroke-width="2.7" stroke-linecap="round" fill="none"/>
<path d="M93.27 108.6h0M103.44 93.14h0M140.97 96.42h0M158.41 141.28h0M148.09 75.78h0M169.95 79.01h0M128.95 107.9h0M173.89 108.57h0M107.52 96.68h0M120.14 102.87h0M147.72 156.36h0M141.45 95.87h0M172.76 82.4h0M100.29 116.01h0M104.28 87.75h0M116.31 118.47h0M165.36 81.69h0M170.38 81.65h0M157.14 162.41h0M138.74 136.16h0M122.78 85.45h0M150.59 111.65h0M147.71 85.5h0M131.65 80.25h0M135.85 119.21h0M171.93 117.11h0M155.08 109.22h0M136.44 108.5h0M164.33 107.49h0M97.74 114.97h0M105.79 94.62h0M148.7 87.1h0M101.93 98.2h0M100.82 112.2h0M98.93 120.95h0M155.42 87.23h0M164.58 145.73h0M140.27 147.2h0M172.35 112.21h0M150.1 130.79h0M163.3 94.54h0M153.72 107.45h0M103.56 112.74h0M144.94 102.51h0M117.66 116.13h0M143.24 85.84h0M165.68 97.53h0M140.68 91.29h0M93.29 127.62h0M128.33 103.96h0M148.06 134.38h0M137.15 147.87h0M166.97 75.09h0M93.08 111.69h0M129.96 115.89h0M115.1 104.55h0M152.29 123.23h0M146.7 134.38h0M135.07 145.8h0M151.51 99.27h0M119.19 129.54h0M137.9 110.72h0M113.3 96.46h0M123.79 134.61h0M131.36 116.35h0M138.15 120.97h0M150.26 93.51h0M101.85 132.3h0M171.59 85.81h0M132.4 109.72h0M149.3 83.52h0M146.26 111.92h0M171.07 99.61h0M150.53 136.97h0M170.97 84.49h0M154.12 102.8h0M119.99 118.47h0M153.82 90.17h0M115.04 86.66h0M155.59 145.69h0M147.78 95.73h0M139.54 87.46h0M147.18 86.29h0M111.42 82.04h0M133.21 118.85h0M107.25 94.87h0M158.49 131.12h0M146.42 87.9h0M93 132.81h0M141.2 94.24h0M108.62 113.11h0M128.48 147.97h0M93.99 128.36h0M172.27 108.75h0M135.38 111.75h0M156.91 77.14h0M109.53 87.01h0M130.43 99.08h0M106 110.46h0M122.91 94.7h0M168.66 88.63h0M166.51 88.44h0M128.52 128.34h0M125.97 130.44h0M112.32 99.09h0M147.86 73.76h0M143.05 146.51h0M111.47 102.65h0M138.96 104.52h0M157.08 102.98h0M124.44 89.07h0M150.36 80.51h0M105.52 124.84h0M167.28 133.63h0M163.48 100.53h0M160.97 89.47h0M168.07 117.11h0M153.16 152.15h0M155.55 149.07h0M113.29 80.33h0M98.96 96.72h0M163.92 128.69h0M120.16 148.92h0M114.05 81.92h0M174.81 112.64h0M152.14 140.11h0M91.89 123.35h0M175.29 103.63h0M103.56 124.71h0M148.15 80.51h0M113.02 95.72h0M95.45 102.81h0M126.86 119.15h0M136.56 123.75h0M171.94 118.44h0M93.2 98.64h0M148.95 93h0M154.51 79.36h0M96.62 104.99h0M173.01 84.92h0M113.8 111.99h0M146.59 123.08h0M112.08 117.65h0M150.25 122.77h0M156.65 121.47h0M97.79 105.93h0M150.6 92.67h0M131.61 140.33h0M105.81 134.58h0M105.92 89.75h0M137.42 143.32h0M126.87 87.06h0M166.6 91.69h0M138.22 102.72h0M94.88 138.41h0M158.39 155.71h0M162.11 83.97h0M167.55 96.3h0M108.33 88.05h0M143.79 146.83h0M103.45 133.44h0M157.32 149.12h0M159.79 75.13h0M95.08 102.87h0M101.77 116.44h0M155.29 126.41h0M108.13 87.73h0M90.11 136.8h0M127 103.24h0M124.97 145.63h0M121.71 93.8h0M122.88 126.71h0M141.46 90.29h0M111.87 102.88h0M89.19 125.7h0M108.4 120.35h0M100.94 120.69h0M168.44 136.95h0M132.55 153.04h0M120.37 94.98h0M174.2 85.84h0M155.7 131.64h0M142.98 145.56h0M116.2 112.52h0M103.04 142.83h0M87.6 108.23h0M100.66 123.39h0M136.99 79.19h0M105.31 106.19h0M161.21 103.21h0M165.3 90.27h0M145.71 97.23h0M115.65 126.08h0M176.08 93.46h0M138.42 104.68h0M121.19 90.93h0M85.99 109.79h0M144.16 142.01h0M103.56 114.42h0M122.89 94.2h0M93.04 109.84h0M166.99 93.18h0M159.87 146.81h0M115.42 138.72h0M118.77 141.39h0M156.59 149.28h0M117.5 127.85h0M102.34 84.65h0M141.98 119.18h0M123.56 85.29h0M96.37 136.14h0M143.74 154.18h0M110.46 140.72h0M99.13 130.4h0M133.08 146.85h0M164.62 147.74h0M120.42 128.26h0M87.63 103.33h0M134.82 144.6h0M115.59 90.43h0M130.8 100.46h0M94.6 97.18h0M152.61 144.23h0M154.12 152.96h0M138.35 136.18h0M131.24 113.1h0M96.95 118.51h0M104.13 96.45h0M152.24 139.33h0M147.1 138.93h0M160.8 139.2h0M135.7 124.5h0M137.31 107.19h0M115.48 118.29h0M105.54 94.18h0M166.5 99.66h0M140.98 143.48h0M127.72 120.78h0M131.86 91.04h0M142.94 73.87h0M161.23 162.16h0M163.76 72.3h0M169.69 85.1h0M135.25 95.71h0M137.09 114.05h0M137.44 92.71h0M156.77 69.94h0M107.82 107.9h0M104.33 106.32h0M111.07 140.52h0M159.77 135.26h0M122.58 78.21h0M130.27 104.09h0M91.51 101h0M117.8 123.02h0M91.87 112.67h0M102.59 98.34h0M162.81 74.98h0M122.37 120.87h0M142.83 151.28h0M129.63 134.66h0M129.03 105.69h0M155.37 78.02h0M90.54 129.46h0M159.08 124.19h0M140.64 120.77h0M112.44 131.14h0M138.96 122.32h0M145.04 140.72h0M146.41 84.75h0M120.91 79.39h0M137.98 148.32h0M155.2 85.87h0M172.07 121.54h0M149.15 83.95h0M173.91 107.4h0M101.73 124.62h0M141.88 130.76h0M140.28 102.22h0M132.25 134.57h0M142.55 145.91h0M87.01 112.06h0M154.08 123.22h0M146.29 73.17h0M175.2 73h0M86.5 105h0" stroke="#8DB894" stroke-opacity="0.85" stroke-width="2.7" stroke-linecap="round" fill="none"/>
<path d="M94.89 96.27h0M114.71 117.74h0M170.83 72.64h0M112.42 131.9h0M138.9 112.42h0M163.78 92.08h0M166.49 94.94h0M115.81 111.87h0M138.53 115.05h0M109.05 95.82h0M127.87 129.11h0M130.9 134.05h0M161.07 149.05h0M163.48 85.47h0M97.71 134.28h0M171.67 101.1h0M126.38 80.41h0M146.47 102.97h0M141.77 92.66h0M116.89 103.38h0M146.26 158.79h0M154.83 162.69h0M133.17 129.16h0M123.5 136.93h0M98.95 102.55h0M134.86 118.8h0M161.51 77.7h0M120.3 142.13h0M136.35 96.09h0M129.05 91.97h0M144.45 118.66h0M173.97 91.51h0M92.74 119.29h0M107.07 109.3h0M160.73 95.17h0M154.96 139.59h0M158.47 138.65h0M118.45 124.73h0M104.35 134.29h0M93.55 121.6h0M139.56 137.37h0M163.49 150.44h0M104.7 131.23h0M147.94 74.48h0M139.33 91.11h0M167.7 133.86h0M152.75 144.02h0M157.1 139.95h0M160.93 91.31h0M174.62 98.22h0M170.59 88.36h0M165.18 80.3h0M116.88 146.89h0M113.98 88.83h0M153.83 125.16h0M121.14 89.82h0M144.22 138.26h0M149.46 105.79h0M161.47 140.71h0M101.7 141.61h0M159.56 129.46h0M134.93 86.54h0M156.93 166.84h0M162.23 132.28h0M122.71 93.58h0M163.79 152.82h0M153.96 130.72h0M100.93 121.34h0M152.25 124.26h0M161.59 142.75h0M135.21 132.43h0M100.36 119.76h0M161.57 118.38h0M134.15 107.55h0M153.79 77.32h0M159.48 77.45h0M118.88 98.97h0M134.67 144.99h0M156.96 156.79h0M148.47 86.12h0M115.44 107.4h0M148.88 100.79h0M152.49 85.83h0M137.33 94.31h0M94.33 95.1h0M164.54 80.03h0M153.41 80.87h0M137.67 122.84h0M154.48 127.92h0M164.45 79.39h0M123.6 105.6h0M141.95 96.24h0M97.94 120.93h0M109.89 90.07h0M177.39 87.95h0M140.98 94.55h0M146.74 138.99h0M140.51 144.63h0M147.02 108.09h0M87.4 119h0M108.37 112.69h0M132.67 126.41h0M129.39 96.52h0M114.27 119.36h0M153.62 167.72h0M169.11 124.49h0M147.26 73.06h0M169.74 128.83h0M104.74 107.73h0M131.44 142.82h0M114.99 142.35h0M162.17 145.78h0M120.34 91.46h0M101.7 120.54h0M131.9 99.17h0M107.58 107.59h0M115.61 108.11h0M94.96 105.79h0M114.57 141.26h0M157.8 112.79h0M167.9 95.7h0M167.41 94.67h0M100.56 119.6h0M146.77 156.26h0M138.94 123.02h0M139.43 72.69h0M154.21 163.58h0M138.55 76.74h0M144.66 142.1h0M155.29 93.1h0M135.47 97.08h0M143.59 107.35h0M156.07 171.78h0M128.45 113.24h0M103.36 104.37h0M149.89 143.14h0M154.22 133.93h0M99.28 128.1h0M88.45 120.25h0M130.49 119.53h0M148.52 130.05h0M115.37 88.81h0M127.53 147.91h0M103.52 122.96h0M166.1 91.39h0M160.31 79.4h0M120.47 102.75h0M121.86 84.58h0M117.03 89.46h0M133.31 149.88h0M120.56 122.17h0M158.72 126.03h0M143.48 75.05h0M123.17 111.07h0M103.82 113.87h0M130.26 92.39h0M128.04 120.58h0M95.1 100.57h0M142.2 98.36h0M96.29 103.56h0M120.37 128.15h0M152.01 113.65h0M101.05 129.82h0M152.39 167.97h0M129.88 108.53h0M142.59 93.26h0M126.53 118.18h0M124.32 97.31h0M151.34 136.64h0M124.15 140.43h0M159.89 168.36h0M96.1 103.01h0M116.37 117.68h0M165.72 131.7h0M112.37 101.38h0M155.63 105.04h0M142.59 78.68h0M92.11 107.53h0M116.52 112.37h0M159.83 96.09h0M157.15 89.51h0M88.13 125.19h0M151.78 151.99h0M172.54 115.06h0M164.86 83.79h0M156.4 109.02h0M153.11 120.63h0M146.86 94.8h0M109.77 94.14h0M161.05 73.5h0M126.94 127.4h0M91.99 109.84h0M141.52 78.86h0M123.01 86.76h0M174.73 105.18h0M163.29 128.71h0M136.7 104.82h0M141.42 89.68h0M171.85 126.43h0M114.04 123.54h0M114.55 127.54h0M127.78 78.32h0M150.09 124.81h0M148.75 151.03h0M147.3 140.81h0M126.93 105.88h0M131.5 122.19h0M158.24 99.31h0M165.3 89.11h0M138.61 79.99h0M104.25 115.27h0M126.54 76.04h0M172.78 106.65h0M132.42 129.57h0M104.45 119.88h0M146.72 150.34h0M125.9 89.27h0M131.86 135.3h0M109.59 84.71h0M99.17 99.88h0M111.84 134.21h0M129.8 147.93h0M171.33 124.62h0M108.3 87.86h0M156.71 152.9h0M129.56 132.94h0M105.02 138.47h0M99.46 99.12h0M162.42 104.11h0M174.22 121.58h0M123.2 112.27h0M96.09 101.26h0M165.85 137.21h0M150.83 140.2h0M155.76 154.19h0M169.07 143.91h0M156.58 87.76h0M147.42 156.84h0M140.43 155.94h0M166.53 75.48h0M154.45 118.67h0M150.34 147.37h0M157.02 81.67h0M118.46 106.09h0M145.53 90.36h0M120.04 76.51h0M108.01 99.96h0M159.28 77.63h0M101.71 97.08h0M91.42 126.1h0M106.04 140.82h0M92.16 126.32h0M172.92 98.36h0M130.78 76.71h0M102.59 136.04h0M101.43 89.94h0M145.83 96.08h0M139.72 82.22h0" stroke="#FBC55F" stroke-opacity="0.85" stroke-width="2.7" stroke-linecap="round" fill="none"/>
<path d="M151.98 93.6h0M128.95 128.13h0M131.99 142.72h0M150.9 156.48h0M108.99 86.2h0M146.14 150.47h0M106.71 112.15h0M115.41 98.02h0M137.24 108.74h0M166.68 78.7h0M174.16 84.95h0M162.11 112.82h0M123.53 115.44h0M150.2 153.29h0M139.44 153.34h0M151.91 110.87h0M152.74 134.36h0M118.27 132.04h0M177.36 107.08h0M167.3 139.24h0M155.14 88.82h0M146.91 95.89h0M143.66 139.26h0M96.5 105.69h0M148.05 107.76h0M125.59 125.08h0M132.51 124.86h0M143.71 75.6h0M172.48 106.21h0M115.41 121.84h0M119.33 90.41h0M150.67 118.44h0M150.08 152.11h0M127.67 122.1h0M156.19 115.29h0M107.48 103.73h0M116.87 143.81h0M110.9 139.31h0M164.06 107.25h0M143.91 110.09h0M145.98 140.18h0M159.07 95.13h0M166.38 138.96h0M109.8 139.86h0M164.89 86.39h0M124.34 89h0M143.86 103.42h0M146.7 100.36h0M103.43 126.54h0M101.87 144.17h0M122.36 146.27h0M164.14 93.13h0M96.52 125.28h0M128.89 88.53h0M155.29 88.25h0M117.95 79.61h0M163.35 94.25h0M101.96 106.28h0M101.77 110.4h0M92.33 116.06h0M162.24 143.67h0M91.6 103.2h0M134.24 129.93h0M166.96 131.19h0M136.19 106.41h0M94.76 93.22h0M96.91 118.93h0M155.91 82.96h0M106.67 139.87h0M130.82 113.51h0M141.08 72.47h0M140.47 119.52h0M97.49 120.35h0M148.31 135.15h0M148.13 84.3h0M151.6 135.47h0M129.55 91.43h0M137.54 100.1h0M109.88 98.46h0M127.29 122.61h0M116.21 123.8h0M146.84 128.57h0M158.4 135.65h0M134.36 126.89h0M174.34 84.68h0M159.61 109.25h0M125.78 113.81h0M155.32 123.64h0M136.53 118.87h0M143.21 97.74h0M145.7 107.82h0M128.75 126.86h0M159.33 99.64h0M136.63 130.21h0M129.79 101.28h0M117.63 129.08h0M90.87 99.91h0M157.69 145.9h0M110.52 86.8h0M135.4 131.86h0M152.36 153.36h0M145.84 157.25h0M171.36 77.49h0M145.5 131.06h0M147.2 118.64h0M109.1 90.23h0M115.23 112.02h0M163.26 91.08h0M108.92 85.09h0M166.96 147.35h0M140.86 78.64h0M153.2 74.01h0M146.4 75.75h0M146.43 71.76h0M167.37 139.27h0M143.59 139.99h0M162.85 118.57h0M160.73 90.45h0M153.29 111.15h0M150.92 146.84h0M145.72 136.76h0M116.51 85.68h0M113.99 87.71h0M139.8 112.49h0M132.99 83.52h0M137.09 81.74h0M89.72 129.15h0M114.47 138.58h0M151.43 82.69h0M148.98 145.78h0M140.67 139.98h0M150.22 101.76h0M132.62 134.26h0M140.48 113.29h0M99.76 110.76h0M169.57 100.72h0M101.79 117.32h0M136.67 112.88h0M110.08 93.44h0M162.78 92.15h0M140.27 156.23h0M118.19 108.24h0M102.26 136.44h0M142.83 85.68h0M128.96 90.23h0M152.17 120.42h0M94.26 128.76h0M114.76 100.94h0M99.47 111.77h0M104.58 100.48h0M174.5 90.67h0M113.5 134.83h0M146.54 122.27h0M152.9 80.4h0M160.79 105.41h0M110.02 148.67h0M101.32 110.07h0M158.64 81.07h0M124.82 75.5h0M158.44 74.09h0M135.67 134.33h0M129.7 83.48h0M124.16 108.54h0M155.09 102.67h0M122.1 97.12h0M97.38 123.37h0M150.8 131.57h0M97.48 108.7h0M118.84 132.23h0M118.84 80.28h0M95.67 131.13h0M112.41 109.64h0M143.87 121.02h0M91.1 115.76h0M111.28 103.36h0M165.45 131.45h0M126.66 78.06h0M143.72 105.95h0M138.06 82.89h0M160.37 101.18h0M143.46 91.67h0M115.46 119.49h0M97.1 128.75h0M102.22 120.6h0M150.69 87.2h0M139.42 114.24h0M133.77 99.91h0M171.14 120.21h0M152.94 156.47h0M121.05 83.08h0M149.09 97.32h0M156.22 125.3h0M166.97 88.72h0M111.51 147.3h0M134.85 102.02h0M112.04 124.53h0M127.03 131.54h0M145.09 152.84h0M166.3 71.46h0M137.57 114.55h0M165.42 70.86h0M173.8 98.89h0M155.76 148.9h0M97.78 95.16h0M132.12 75.71h0M121.22 110.94h0M99.59 113.04h0M117.56 141.71h0M142.77 122.51h0M112.48 79.08h0M91.48 129.96h0M98.47 114.96h0M151.85 73.87h0M103.82 103.1h0M114.78 102.36h0M164.74 108.38h0M110.33 119.21h0M144.85 123.1h0M127.82 120.75h0M139.16 152.47h0M158.35 94.4h0M163.53 130.04h0M141.62 149.35h0M114.29 110.2h0M146.61 80.88h0M164.24 117.15h0M163.82 142.04h0M132.62 124.5h0M102.8 122.85h0M127.9 151.84h0M103.09 97.3h0M110.78 83.04h0M135.03 126.33h0M130.4 100.2h0M125.54 125.87h0M128.24 113.11h0M141.97 147.87h0M121.98 82.58h0M141.1 108.72h0M169.88 80.62h0M158.95 147.07h0M126.5 121.83h0M140.93 121.02h0M160.5 113.8h0M108.92 127.13h0M97.4 112.24h0M127.61 137.92h0M167.34 147.94h0M149.02 89.44h0M126.5 116.58h0M166.64 126.43h0M162.97 119.5h0M146.09 78.97h0M122.87 89.41h0M119.8 112.07h0M173.9 91.45h0M159.48 119.55h0M119.64 126.02h0M167.25 123h0M143.08 141.83h0M150.3 119.74h0M151.88 88.25h0M150.51 128.07h0M119.72 105.55h0M133.2 95.8h0M142.85 137.69h0M146.13 100.8h0M163.87 115.86h0M164.31 126.8h0M160.13 131.37h0M128.38 127.52h0M124.04 90.71h0M172.71 120.72h0M158.24 177.19h0M90.86 130.9h0M123.65 82.53h0M148.84 131.25h0M87.36 113.38h0M158.83 147.13h0M143.59 123.19h0M124.18 116.66h0M157.62 173.33h0M92.62 102.14h0M126.93 115.74h0M134.61 102.9h0M154.74 144.31h0M160.57 144.1h0M145.29 154.91h0M97.23 118.59h0M171.09 86.36h0M166.85 140.14h0M169.06 124.83h0M166.8 146.8h0M171.5 141h0" stroke="#8DB894" stroke-opacity="0.85" stroke-width="2.7" stroke-linecap="round" fill="none"/>
<path d="M157.24 99.32h0M129.45 122.43h0M137.23 126.89h0M151.85 80.3h0M135.92 94.15h0M150.46 99.79h0M151.75 146.75h0M117.81 116.06h0M90.33 106.19h0M92.12 93.69h0M103.38 116h0M165.49 141.75h0M118.08 88.01h0M138.19 81.26h0M152.61 163.77h0M110.16 112.48h0M162.53 132.3h0M142.86 144.8h0M145.2 114.35h0M156.56 132.27h0M131.7 124.74h0M103.39 127.65h0M84.54 111.78h0M162.66 101.47h0M105.33 110.31h0M157.44 148.75h0M97.74 117.3h0M96.15 108.22h0M105.15 93.81h0M147.63 111.95h0M160.13 76.55h0M140.38 117.27h0M108.62 87.05h0M144.61 153.64h0M118.62 127.65h0M111.59 128.75h0M134.01 101.5h0M135.65 125.43h0M168.53 138.37h0M100.46 101.59h0M156.12 107.11h0M146 82.54h0M85.53 101.6h0M155.7 74.97h0M158.31 155.62h0M171.98 107.55h0M145.39 101.95h0M128.55 125.59h0M165.16 157.31h0M164.56 144.17h0M143.91 87.21h0M131.13 125.39h0M156.69 123.32h0M147 135.78h0M116.31 103.81h0M166.84 93.51h0M154.09 156.49h0M174.39 100.07h0M90 124.97h0M149.88 141.99h0M135.62 109.63h0M133.18 108.61h0M161.33 137.62h0M143.59 76.85h0M117.35 145.09h0M160.75 126.5h0M167.58 75.57h0M172.2 95.56h0M159.03 135.66h0M113.31 114.97h0M102.49 128.87h0M109.02 143.11h0M119.45 97.4h0M143.9 135.64h0M152.2 134.45h0M136.93 155.15h0M170.91 108.81h0M124.41 115.43h0M124.48 136.71h0M100.53 89.71h0M170.93 84.91h0M139.21 83.1h0M106.32 120.17h0M163.07 145.57h0M172.04 102.08h0M136.8 115.13h0M168.76 74.81h0M163.3 104.89h0M126.45 80.1h0M157.06 111h0M149.12 119.07h0M130.67 129.76h0M124.97 134.41h0M162.78 80.79h0M149.33 135.49h0M106.74 108.45h0M144.12 113.92h0M166.63 140.64h0M91.86 118.43h0M135.91 76.77h0M116.23 89.68h0M125.66 79.51h0M178.64 105.98h0M137.25 113.23h0M166.09 122.47h0M142.03 112.23h0M133.29 143.59h0M169.03 102.59h0M102.5 131.61h0M154.5 135.31h0M100.65 100.23h0M126.55 113.7h0M152.61 109.17h0M119.15 143.66h0M130.93 128.84h0M159.85 141.38h0M159.25 100.62h0M134.52 91.42h0M144.61 78.31h0M153.33 128.95h0M95.11 102.19h0M126.56 134.21h0M168.96 77.56h0M159.93 159.12h0M165.46 132.49h0M146.01 82.09h0M139.93 119.62h0M168.79 91.28h0M98.34 116.81h0M156.56 87.39h0M137.44 105.69h0M97.73 91.59h0M155.61 106.5h0M94.02 116.49h0M129.7 76.93h0M172.85 91.35h0M113.26 129.53h0M146.25 145.67h0M159 100.48h0M160.89 150.97h0M157.66 79.94h0M128.39 130.92h0M163.11 115.35h0M171.21 129.57h0M134.91 104.08h0M158.21 98.73h0M100.38 88.39h0M148.51 145.91h0M153.46 86.29h0M108.33 139.12h0M134.23 137.59h0M143.2 144.2h0M136.04 79.01h0M146.55 132.55h0M123.53 88.3h0M130.25 129.65h0M146.53 117.13h0M124.66 98.81h0M159.41 132.1h0M145.96 105.94h0M134.56 80.83h0M86.9 120.9h0M96.62 129.1h0M118.86 94.37h0M124.72 82.41h0M151.7 142.59h0M88.84 117.47h0M167.71 100.64h0M131.62 146.04h0M90.45 132.67h0M147.23 113.83h0M160.13 109.25h0M147.09 127.62h0M118.68 112.65h0M137.28 124.91h0M120.02 121.49h0M102.74 110.08h0M96.21 139.29h0M137.67 119.5h0M101.44 106.96h0M147.91 143.74h0M113.14 127.84h0M156.14 114.13h0M113.03 139.55h0M113.39 88.18h0M158.71 115.4h0M100.37 131.16h0M125.86 82.48h0M101.03 131.19h0M163.12 145.42h0M99.96 127.65h0M163.5 77.55h0M160.06 147.95h0M127.29 151.2h0M132.06 155.64h0M141.92 99.8h0M131.53 80.4h0M170.04 119.96h0M98.09 117.51h0M105.09 113.97h0M100.25 115.82h0M96.19 125.59h0M161.53 120.37h0M144.56 102.03h0M138.28 145.72h0M120.41 136.33h0M109.84 130.67h0M158.15 97.06h0M154.41 110.64h0M126.9 112.52h0M156.6 106.85h0M111.96 117.11h0M156.95 149.2h0M147.54 85.44h0M91.89 108.66h0M139.22 89.4h0M120.58 81.39h0M94.6 121.56h0M100.15 117.39h0M128.37 82.13h0M103.22 111.25h0M110.99 119.54h0M112.24 82.43h0M98.68 113.67h0M161.23 136.17h0M130.06 146.03h0M115.54 111.85h0M143.5 145.15h0M167.59 135.25h0M108.41 93.09h0M116.8 148.68h0M131.36 76.89h0M150.88 78.44h0M157 120.72h0M163.51 130h0M119.24 100.02h0M169.97 107.69h0M147.64 118.7h0M151.68 119.38h0M146.53 141.75h0M129.72 105.09h0M144 83.3h0M161.78 87.93h0M124.8 83.14h0M85.06 123.03h0M156.33 79.8h0M152.22 137.93h0M129.84 150.67h0M120.73 88.03h0M109.96 84.84h0M171.85 91h0M153.03 108.28h0M124.59 93.44h0M113.6 93.9h0M164.16 92.73h0M156.77 92.81h0M154.87 126.62h0M142.37 97.58h0M148.98 137.7h0M171 116.82h0M152.01 106.44h0M174.33 103.09h0M104.32 111.21h0M141.15 118.46h0M120.02 104.13h0M113.66 85.75h0M128.66 134.43h0M127.57 88.3h0M109.37 143.65h0M164.64 101.48h0M111.35 79.96h0M144.2 109.17h0M154.19 104.47h0M167.78 73.92h0M161.82 84.9h0M144.87 152.03h0M169.72 99.45h0M104.66 118.33h0M127.4 149.24h0M141.86 110.67h0M168.51 133.17h0M146.33 84.81h0M169.19 95.42h0M112.49 100.48h0M126.8 78.94h0M157.33 93.91h0M152.99 147.91h0M119.76 78.84h0M130.05 94.06h0M161.28 126.46h0M141.21 82.21h0M148.85 96.03h0M133.38 126.71h0M99.03 89.58h0M109.6 100.38h0M139.71 99.69h0M157.45 97.43h0M133.66 97.6h0M163.44 136.5h0M172.64 97.92h0M96.81 116.28h0M140.05 142.27h0" stroke="#FBC55F" stroke-opacity="0.85" stroke-width="2.7" stroke-linecap="round" fill="none"/>
<path d="M107.53 116.27h0M161.33 153.13h0M150.08 145.33h0M98 92.86h0M110.96 114.05h0M147.97 106.55h0M138.19 105.52h0M116.03 92.74h0M136.85 90.69h0M144.98 144.75h0M145.07 144.69h0M117.03 141.44h0M143.77 124.35h0M141.28 122.62h0M132.35 92.57h0M161.31 95.31h0M158.05 72.18h0M126.3 74.82h0M90.67 129.06h0M160.93 80.21h0M130.89 120.9h0M149.72 131.36h0M106.83 127.66h0M164.13 84.84h0M173.52 86.36h0M103.79 95.69h0M170.72 80.8h0M119.28 84.78h0M129.42 143.99h0M112.36 94.08h0M96.85 89.84h0M173.72 111.58h0M138.11 77.01h0M145.18 143.77h0M160.51 117.93h0M135.43 103.25h0M89.64 124.33h0M149.58 127.84h0M123.8 125.85h0M112.33 128.72h0M155.96 90.99h0M105.05 126.65h0M108.12 130.9h0M119.81 79.12h0M165.39 117.41h0M148.97 153.58h0M105.72 134.58h0M104.1 117.98h0M116.86 111.93h0M96.47 138.96h0M151.31 138.46h0M138.77 105.92h0M145.9 105.19h0M159.01 146.78h0M137.98 99.18h0M131.43 74.66h0M145.88 148.23h0M144.56 89.09h0M144.67 101.95h0M161.46 146.25h0M148.38 156.52h0M119.51 81.86h0M159.85 73.62h0M111.88 143.15h0M99.36 123.06h0M121.33 85.52h0M152.44 150.22h0M154.81 116.96h0M134.51 115.9h0M156.3 116.04h0M141.99 154.21h0M166.68 139.38h0M138.55 117.66h0M158.38 117.44h0M148.01 122.05h0M137.43 96.95h0M140.65 152.32h0M134.46 127.14h0M145.96 139.6h0M101.26 105.31h0M100.45 107.15h0M168.89 111.13h0M124.02 110.46h0M109.95 132.98h0M150.49 102.08h0M160.76 88.37h0M91.08 108.95h0M131.36 137.6h0M142.46 81.2h0M142.75 122.78h0M138.54 99.24h0M152.32 122.77h0M98.78 129.85h0M148.92 87.17h0M143.86 97.39h0M125.31 103.51h0M166.64 133.16h0M122.32 117.2h0M119.64 129.32h0M169.55 93.96h0M160.51 161.65h0M147.71 129.16h0M116.84 124.14h0M172.29 102.18h0M132.24 140.6h0M167.33 123.3h0M95.01 99.08h0M155.2 92h0M173.16 89.21h0M163.42 135.54h0M165.17 75.58h0M114.98 117.15h0M146.81 108.73h0M103.28 119.2h0M150.01 79.48h0M113.94 125.07h0M165.97 150.88h0M133.83 140.64h0M169.8 95.66h0M158.31 105.15h0M170.87 78.2h0M112.32 102.65h0M152.03 86.83h0M127.39 90.98h0M90.47 118.25h0M136.28 126.39h0M119.76 128.38h0M141.16 149.27h0M96.51 125.7h0M135.68 147.32h0M106.04 102.09h0M112.49 130.68h0M162.83 117.78h0M110.52 110.59h0M139.05 125.59h0M147.46 152.96h0M112 141.16h0M105.94 104.05h0M160.87 144.23h0M134.36 142.28h0M98.75 132.51h0M144.08 77.19h0M93.75 123.48h0M129.17 102.63h0M141.62 84.96h0M151.97 102.7h0M168.38 103.79h0M162.19 140.69h0M149.3 117.53h0M94.3 106.94h0M136.93 78.64h0M157.7 138.62h0M147.44 82.77h0M139.57 106.21h0M119.1 124.53h0M166.24 99.14h0M168.05 100.6h0M144.05 100.91h0M117.43 120.59h0M159.09 152.35h0M112.9 98.38h0M130.34 83.53h0M141.49 134.51h0M158.22 90.97h0M149.71 129.74h0M170.99 112.75h0M108.94 103.92h0M124.84 75.46h0M137.84 102.45h0M99.52 129.25h0M138.01 75.08h0M140.72 143.64h0M131.03 121.86h0M144.17 92.6h0M126.72 103.23h0M112.55 104.01h0M163.31 137.21h0M123.8 108.19h0M158.69 121.59h0M152.64 154.67h0M151.67 115.39h0M151.69 84.21h0M122.58 84.3h0M117.74 123.31h0M148.27 72.33h0M101.51 119.67h0M141.5 102.18h0M158.11 140.03h0M167.64 97.91h0M159.06 167.37h0M129.27 138.72h0M159.83 71.68h0M107.4 106.14h0M98.25 135.03h0M96.69 130.84h0M120.21 142.9h0M140.2 113.7h0M140.91 116h0M161.32 162.9h0M158.89 144.96h0M143.31 87.16h0M103.94 139.35h0M115.58 100.39h0M109.9 108.22h0M113 95.61h0M156.22 74.97h0M145.97 132.47h0M170.57 118.57h0M148.78 77.63h0M137.17 134.89h0M128.89 126.84h0M122.09 99.48h0M150.05 89.54h0M130.59 85.87h0M170.75 111.23h0M101.96 130.05h0M85.01 114.04h0M106.77 134.24h0M159.58 128.17h0M156.94 99.64h0M164.15 153.34h0M135.41 131.01h0M104.73 92.84h0M99.16 123.62h0M169.58 131.25h0M164.39 142.4h0M122.57 147.29h0M119.29 115.63h0M126.05 102.7h0M137.76 150.97h0M90.76 110.04h0M162.26 76.37h0M109.44 92.93h0M110.54 91.92h0M117.99 138.56h0M88.8 103.76h0M118.08 127.99h0M150.41 117.36h0M152.87 118.81h0M92.4 110.97h0M109.95 129.59h0M160.29 120.82h0M128.22 117.05h0M97.1 107.01h0M159.29 118.04h0M155.03 109.38h0M120.71 128.07h0M112.23 132.95h0M164.7 152.7h0M169 150.5h0" stroke="#8DB894" stroke-opacity="0.85" stroke-width="2.7" stroke-linecap="round" fill="none"/>
<ellipse cx="130.4" cy="110" rx="55.9" ry="46" transform="rotate(3.5 130.4 110)" fill="none" stroke="#8DB894" stroke-width="2"/>
<ellipse cx="128.9" cy="108.9" rx="53.6" ry="43.2" transform="rotate(3.5 128.9 108.9)" fill="none" stroke="#FBC55F" stroke-width="2"/>
</g>
<g id="panel-b">
<text x="274.9" y="9.1" font-size="12.6" fill="#000" font-weight="bold">b</text>
<path d="M591.3 196.46A138 138 0 1 0 458.6 335.2" fill="none" stroke="#c4c4c4" stroke-width="0.6"/>
<path d="M604.6 196.38A151.3 151.3 0 1 0 459.11 348.49" fill="none" stroke="#dcdcdc" stroke-width="0.5"/>
<path d="M617.9 196.29A164.6 164.6 0 1 0 459.62 361.78" fill="none" stroke="#dcdcdc" stroke-width="0.5"/>
<path d="M631.2 196.21A177.9 177.9 0 1 0 460.13 375.07" fill="none" stroke="#dcdcdc" stroke-width="0.5"/>
<path d="M458.6 335.2L460.13 375.07" stroke="#dcdcdc" stroke-width="0.5" fill="none"/>
<path d="M591.3 196.46L631.2 196.21" stroke="#bdbdbd" stroke-width="0.6" fill="none"/>
<text x="590.9" y="204.7" font-size="7" fill="#222" text-anchor="middle" textLength="3.6" lengthAdjust="spacingAndGlyphs">0</text>
<text x="602.9" y="204.7" font-size="7" fill="#222" text-anchor="middle" textLength="13.6" lengthAdjust="spacingAndGlyphs">0.05</text>
<text x="617.2" y="204.7" font-size="7" fill="#222" text-anchor="middle" textLength="8.4" lengthAdjust="spacingAndGlyphs">0.1</text>
<text x="631.5" y="204.7" font-size="7" fill="#222" text-anchor="middle" textLength="13" lengthAdjust="spacingAndGlyphs">0.15</text>
<path d="M591.29 195.35 L613.28 195.04 L613.12 189.74 L591.15 190.78 Z" fill="#FCCD6D"/>
<path d="M591.13 190.49 L599.12 190.1 L598.8 185.28 L590.83 185.93 Z" fill="#ABABAB"/>
<path d="M590.81 185.65 L623.69 182.86 L623.12 177.23 L590.35 181.1 Z" fill="#FCCD6D"/>
<path d="M590.31 180.81 L592.3 180.58 L591.67 175.98 L589.69 176.29 Z" fill="#ABABAB"/>
<path d="M589.65 176 L590.44 175.88 L589.65 171.35 L588.87 171.5 Z" fill="#ABABAB"/>
<path d="M588.81 171.22 L598.63 169.33 L597.63 164.53 L587.87 166.75 Z" fill="#ABABAB"/>
<path d="M587.81 166.46 L599.51 163.78 L598.32 158.96 L586.72 162.03 Z" fill="#ABABAB"/>
<path d="M586.64 161.75 L601.14 157.88 L599.75 153.01 L585.39 157.35 Z" fill="#FCCD6D"/>
<path d="M585.31 157.08 L592 155.04 L590.53 150.47 L583.9 152.73 Z" fill="#ABABAB"/>
<path d="M583.81 152.46 L594.21 148.88 L592.53 144.24 L582.25 148.16 Z" fill="#ABABAB"/>
<path d="M582.15 147.89 L589.62 145.03 L587.82 140.54 L580.45 143.65 Z" fill="#ABABAB"/>
<path d="M580.33 143.39 L581.25 143 L579.39 138.79 L578.48 139.21 Z" fill="#ABABAB"/>
<path d="M578.36 138.95 L579.26 138.53 L577.25 134.39 L576.36 134.84 Z" fill="#ABABAB"/>
<path d="M576.22 134.58 L578.9 133.22 L576.71 129.1 L574.08 130.55 Z" fill="#ABABAB"/>
<path d="M573.94 130.3 L575.25 129.57 L572.94 125.57 L571.66 126.34 Z" fill="#ABABAB"/>
<path d="M571.51 126.09 L575.79 123.51 L573.28 119.5 L569.09 122.22 Z" fill="#ABABAB"/>
<path d="M568.93 121.97 L575.63 117.61 L572.93 113.6 L566.37 118.19 Z" fill="#ABABAB"/>
<path d="M566.21 117.95 L575.21 111.63 L572.3 107.64 L563.52 114.26 Z" fill="#ABABAB"/>
<path d="M563.34 114.03 L576.1 104.37 L572.96 100.36 L560.53 110.43 Z" fill="#A4C9A8"/>
<path d="M560.34 110.21 L560.73 109.89 L557.78 106.38 L557.4 106.71 Z" fill="#ABABAB"/>
<path d="M557.21 106.49 L578.3 88.07 L574.61 83.99 L554.15 103.1 Z" fill="#A4C9A8"/>
<path d="M553.95 102.89 L558.33 98.79 L555.01 95.36 L550.77 99.61 Z" fill="#ABABAB"/>
<path d="M550.57 99.41 L556.91 93.02 L553.4 89.65 L547.27 96.24 Z" fill="#ABABAB"/>
<path d="M547.06 96.04 L549.1 93.84 L545.62 90.73 L543.66 93 Z" fill="#ABABAB"/>
<path d="M543.44 92.81 L551.28 83.72 L547.46 80.54 L539.93 89.88 Z" fill="#ABABAB"/>
<path d="M539.71 89.7 L544.71 83.46 L540.9 80.5 L536.1 86.9 Z" fill="#ABABAB"/>
<path d="M535.86 86.72 L536.34 86.08 L532.62 83.4 L532.16 84.05 Z" fill="#ABABAB"/>
<path d="M531.92 83.89 L533.63 81.42 L529.75 78.83 L528.12 81.35 Z" fill="#ABABAB"/>
<path d="M527.88 81.19 L530.04 77.82 L526.05 75.35 L524 78.78 Z" fill="#ABABAB"/>
<path d="M523.75 78.64 L525.28 76.06 L521.23 73.74 L519.78 76.37 Z" fill="#ABABAB"/>
<path d="M519.53 76.23 L519.91 75.53 L515.85 73.39 L515.48 74.1 Z" fill="#ABABAB"/>
<path d="M515.23 73.97 L518.82 66.83 L514.46 64.73 L511.11 71.99 Z" fill="#ABABAB"/>
<path d="M510.85 71.87 L515.23 62.33 L510.72 60.35 L506.66 70.04 Z" fill="#ABABAB"/>
<path d="M506.4 69.92 L509.09 63.46 L504.63 61.69 L502.15 68.24 Z" fill="#ABABAB"/>
<path d="M501.88 68.13 L504.52 61.11 L499.99 59.49 L497.58 66.6 Z" fill="#ABABAB"/>
<path d="M497.3 66.5 L498.26 63.66 L493.81 62.25 L492.95 65.12 Z" fill="#ABABAB"/>
<path d="M492.67 65.04 L495.53 55.45 L490.81 54.13 L488.27 63.81 Z" fill="#ABABAB"/>
<path d="M487.99 63.73 L488.12 63.25 L483.66 62.17 L483.55 62.66 Z" fill="#ABABAB"/>
<path d="M483.27 62.59 L485.34 53.32 L480.55 52.34 L478.8 61.68 Z" fill="#ABABAB"/>
<path d="M478.51 61.62 L480.89 48.84 L475.96 48.01 L474.01 60.86 Z" fill="#ABABAB"/>
<path d="M473.72 60.82 L475.79 46.97 L470.8 46.31 L469.19 60.22 Z" fill="#ABABAB"/>
<path d="M468.91 60.19 L471.39 38.33 L466.12 37.81 L464.36 59.74 Z" fill="#FCCD6D"/>
<path d="M464.07 59.72 L464.85 49.75 L459.96 49.45 L459.51 59.44 Z" fill="#ABABAB"/>
<path d="M459.22 59.43 L459.95 42.44 L454.82 42.31 L454.65 59.31 Z" fill="#FCCD6D"/>
<path d="M454.36 59.3 L454.37 58.8 L449.78 58.84 L449.8 59.34 Z" fill="#ABABAB"/>
<path d="M449.51 59.35 L449.49 58.85 L444.91 59.05 L444.94 59.55 Z" fill="#ABABAB"/>
<path d="M444.65 59.57 L444.59 58.57 L440 58.94 L440.1 59.93 Z" fill="#ABABAB"/>
<path d="M439.81 59.96 L439.42 55.98 L434.75 56.52 L435.27 60.48 Z" fill="#ABABAB"/>
<path d="M434.99 60.52 L434.12 54.08 L429.39 54.79 L430.47 61.2 Z" fill="#ABABAB"/>
<path d="M430.18 61.25 L428.17 49.42 L423.29 50.33 L425.69 62.09 Z" fill="#ABABAB"/>
<path d="M425.41 62.15 L424.8 59.21 L420.25 60.23 L420.95 63.15 Z" fill="#ABABAB"/>
<path d="M420.67 63.21 L419.25 57.38 L414.64 58.59 L416.25 64.37 Z" fill="#ABABAB"/>
<path d="M415.97 64.44 L410.29 44.23 L405.25 45.74 L411.59 65.75 Z" fill="#A4C9A8"/>
<path d="M411.32 65.84 L408.58 57.27 L403.97 58.82 L406.99 67.3 Z" fill="#ABABAB"/>
<path d="M406.72 67.4 L406.04 65.52 L401.71 67.15 L402.44 69.01 Z" fill="#ABABAB"/>
<path d="M402.17 69.12 L401.99 68.66 L397.76 70.42 L397.96 70.88 Z" fill="#ABABAB"/>
<path d="M397.69 71 L391.65 57.27 L387.05 59.39 L393.54 72.91 Z" fill="#ABABAB"/>
<path d="M393.28 73.03 L390.67 67.63 L386.42 69.78 L389.2 75.09 Z" fill="#ABABAB"/>
<path d="M388.95 75.22 L387.78 73.01 L383.7 75.25 L384.94 77.42 Z" fill="#ABABAB"/>
<path d="M384.69 77.56 L379.72 68.89 L375.51 71.39 L380.76 79.9 Z" fill="#ABABAB"/>
<path d="M380.52 80.05 L374.19 69.86 L370.01 72.55 L376.68 82.53 Z" fill="#ABABAB"/>
<path d="M376.44 82.69 L370.31 73.55 L366.26 76.37 L372.69 85.29 Z" fill="#ABABAB"/>
<path d="M372.45 85.46 L368.35 79.79 L364.51 82.67 L368.79 88.2 Z" fill="#ABABAB"/>
<path d="M368.56 88.38 L358.13 74.96 L354.13 78.18 L365.01 91.24 Z" fill="#FCCD6D"/>
<path d="M364.78 91.43 L361.58 87.59 L358 90.69 L361.33 94.42 Z" fill="#ABABAB"/>
<path d="M361.11 94.61 L356.1 89.03 L352.57 92.3 L357.76 97.72 Z" fill="#ABABAB"/>
<path d="M357.56 97.92 L354.78 95.04 L351.45 98.35 L354.32 101.14 Z" fill="#ABABAB"/>
<path d="M354.12 101.35 L353.04 100.31 L349.88 103.68 L350.99 104.68 Z" fill="#ABABAB"/>
<path d="M350.8 104.9 L333.27 89.1 L329.76 93.13 L347.8 108.34 Z" fill="#A4C9A8"/>
<path d="M347.61 108.56 L345.31 106.63 L342.37 110.26 L344.73 112.11 Z" fill="#ABABAB"/>
<path d="M344.55 112.34 L328.79 100.03 L325.64 104.2 L341.8 115.99 Z" fill="#A4C9A8"/>
<path d="M341.63 116.22 L333.54 110.34 L330.73 114.36 L339.01 119.96 Z" fill="#ABABAB"/>
<path d="M338.85 120.2 L338.35 119.86 L335.85 123.71 L336.36 124.03 Z" fill="#ABABAB"/>
<path d="M336.2 124.28 L316.01 111.68 L313.25 116.27 L333.85 128.19 Z" fill="#FCCD6D"/>
<path d="M333.71 128.44 L331.97 127.44 L329.73 131.5 L331.49 132.44 Z" fill="#ABABAB"/>
<path d="M331.36 132.69 L318.1 125.67 L315.81 130.19 L329.29 136.77 Z" fill="#ABABAB"/>
<path d="M329.16 137.03 L323.76 134.41 L321.75 138.73 L327.23 141.17 Z" fill="#ABABAB"/>
<path d="M327.11 141.43 L326.2 141.03 L324.41 145.27 L325.33 145.64 Z" fill="#ABABAB"/>
<path d="M325.23 145.91 L309.45 139.58 L307.62 144.37 L323.6 150.18 Z" fill="#ABABAB"/>
<path d="M323.5 150.45 L299.98 141.96 L298.23 147.07 L322.02 154.77 Z" fill="#A4C9A8"/>
<path d="M321.93 155.05 L287.66 144.02 L285.98 149.53 L320.6 159.42 Z" fill="#A4C9A8"/>
<path d="M320.52 159.7 L308.98 156.43 L307.7 161.23 L319.35 164.11 Z" fill="#ABABAB"/>
<path d="M319.28 164.39 L300.83 159.86 L299.67 164.93 L318.27 168.85 Z" fill="#A4C9A8"/>
<path d="M318.21 169.13 L301.56 165.66 L300.6 170.7 L317.35 173.62 Z" fill="#ABABAB"/>
<path d="M317.3 173.9 L308.43 172.38 L307.68 177.18 L316.6 178.42 Z" fill="#ABABAB"/>
<path d="M316.56 178.7 L306.65 177.35 L306.07 182.22 L316.02 183.24 Z" fill="#ABABAB"/>
<path d="M315.99 183.53 L311.01 183.03 L310.62 187.75 L315.61 188.08 Z" fill="#ABABAB"/>
<path d="M315.59 188.37 L314.09 188.27 L313.87 192.88 L315.37 192.93 Z" fill="#ABABAB"/>
<path d="M315.36 193.22 L314.36 193.19 L314.3 197.79 L315.3 197.79 Z" fill="#ABABAB"/>
<path d="M315.3 198.08 L304.3 198.14 L304.41 203.07 L315.4 202.65 Z" fill="#ABABAB"/>
<path d="M315.42 202.93 L313.42 203.02 L313.68 207.64 L315.68 207.5 Z" fill="#ABABAB"/>
<path d="M315.7 207.78 L312.71 208.01 L313.14 212.66 L316.12 212.33 Z" fill="#ABABAB"/>
<path d="M316.15 212.62 L314.66 212.79 L315.25 217.37 L316.74 217.15 Z" fill="#ABABAB"/>
<path d="M316.78 217.44 L315.79 217.58 L316.53 222.12 L317.52 221.95 Z" fill="#ABABAB"/>
<path d="M317.57 222.23 L310.69 223.5 L311.63 228.2 L318.47 226.71 Z" fill="#ABABAB"/>
<path d="M318.53 226.99 L303.88 230.22 L305.06 235.15 L319.59 231.44 Z" fill="#ABABAB"/>
<path d="M319.66 231.72 L307.07 234.96 L308.4 239.78 L320.87 236.12 Z" fill="#ABABAB"/>
<path d="M320.95 236.4 L319.52 236.82 L320.9 241.23 L322.32 240.76 Z" fill="#ABABAB"/>
<path d="M322.41 241.03 L320.99 241.51 L322.53 245.86 L323.93 245.34 Z" fill="#ABABAB"/>
<path d="M324.03 245.61 L309.98 250.86 L311.83 255.58 L325.7 249.87 Z" fill="#ABABAB"/>
<path d="M325.81 250.13 L321.19 252.05 L323.08 256.39 L327.63 254.32 Z" fill="#ABABAB"/>
<path d="M327.75 254.59 L326.84 255 L328.82 259.16 L329.72 258.71 Z" fill="#ABABAB"/>
<path d="M329.85 258.97 L314.64 266.57 L317.01 271.12 L331.96 263.02 Z" fill="#FCCD6D"/>
<path d="M332.09 263.28 L322.43 268.54 L324.86 272.83 L334.34 267.25 Z" fill="#ABABAB"/>
<path d="M334.49 267.5 L329.33 270.55 L331.82 274.62 L336.88 271.4 Z" fill="#ABABAB"/>
<path d="M337.04 271.64 L321.03 281.88 L323.9 286.21 L339.56 275.45 Z" fill="#A4C9A8"/>
<path d="M339.72 275.69 L333.14 280.23 L335.95 284.16 L342.38 279.4 Z" fill="#ABABAB"/>
<path d="M342.55 279.64 L333.73 286.2 L336.73 290.11 L345.34 283.26 Z" fill="#ABABAB"/>
<path d="M345.52 283.48 L340.83 287.23 L343.87 290.9 L348.43 287 Z" fill="#ABABAB"/>
<path d="M348.62 287.22 L341.79 293.09 L345.02 296.73 L351.65 290.64 Z" fill="#ABABAB"/>
<path d="M351.85 290.85 L348.91 293.56 L352.15 296.97 L355 294.16 Z" fill="#ABABAB"/>
<path d="M355.2 294.36 L348.1 301.4 L351.6 304.82 L358.47 297.56 Z" fill="#ABABAB"/>
<path d="M358.68 297.76 L353.2 303.58 L356.77 306.83 L362.06 300.83 Z" fill="#ABABAB"/>
<path d="M362.28 301.02 L349.74 315.3 L353.71 318.67 L365.76 303.98 Z" fill="#A4C9A8"/>
<path d="M365.98 304.16 L357.12 315 L361.07 318.12 L369.57 307 Z" fill="#ABABAB"/>
<path d="M369.8 307.17 L367.98 309.56 L371.75 312.32 L373.48 309.87 Z" fill="#ABABAB"/>
<path d="M373.72 310.04 L365.64 321.48 L369.8 324.31 L377.49 312.61 Z" fill="#ABABAB"/>
<path d="M377.73 312.77 L364.87 332.44 L369.39 335.29 L381.6 315.21 Z" fill="#FCCD6D"/>
<path d="M381.85 315.36 L370.09 334.78 L374.69 337.46 L385.79 317.66 Z" fill="#A4C9A8"/>
<path d="M386.04 317.8 L381.17 326.53 L385.49 328.85 L390.07 319.96 Z" fill="#ABABAB"/>
<path d="M390.33 320.09 L387.59 325.43 L391.87 327.54 L394.43 322.11 Z" fill="#ABABAB"/>
<path d="M394.69 322.23 L390.87 330.38 L395.31 332.38 L398.86 324.11 Z" fill="#ABABAB"/>
<path d="M399.12 324.22 L397.94 326.98 L402.27 328.74 L403.35 325.94 Z" fill="#ABABAB"/>
<path d="M403.62 326.05 L402.9 327.91 L407.25 329.51 L407.91 327.62 Z" fill="#ABABAB"/>
<path d="M408.18 327.72 L404.92 337.17 L409.57 338.69 L412.53 329.14 Z" fill="#ABABAB"/>
<path d="M412.8 329.22 L409.28 340.7 L414.05 342.07 L417.19 330.49 Z" fill="#ABABAB"/>
<path d="M417.47 330.57 L412.64 348.53 L417.67 349.79 L421.9 331.68 Z" fill="#FCCD6D"/>
<path d="M422.18 331.75 L421.96 332.72 L426.46 333.68 L426.65 332.7 Z" fill="#ABABAB"/>
<path d="M426.94 332.76 L426.17 336.68 L430.8 337.51 L431.43 333.56 Z" fill="#ABABAB"/>
<path d="M431.72 333.6 L431.59 334.39 L436.14 335.04 L436.24 334.24 Z" fill="#ABABAB"/>
<path d="M436.53 334.28 L436.43 335.07 L441 335.55 L441.07 334.76 Z" fill="#ABABAB"/>
<path d="M441.36 334.78 L440.32 346.74 L445.28 347.09 L445.92 335.1 Z" fill="#ABABAB"/>
<path d="M446.21 335.12 L446.03 338.61 L450.71 338.78 L450.77 335.28 Z" fill="#ABABAB"/>
<path d="M451.06 335.28 L451.05 336.28 L455.65 336.28 L455.63 335.28 Z" fill="#ABABAB"/>
<path d="M430.7 79.5L432.9 92.3M433.8 73.2L436.3 92.1M432.9 92.3L436.3 92.1M435.2 92.2L435.8 96.2M438.8 76.9L440.3 96M435.8 96.2L440.3 96M438.4 96.1L439.2 101M443.7 84L445.2 100.7M439.2 101L445.2 100.7M442.5 100.9L442.7 106M448.2 99.3L448.6 105.8M442.7 106L448.6 105.8M445.8 105.9L447.7 125.3M451.8 106.9L451.5 125.2M447.7 125.3L451.5 125.2M449.6 125.3L451.1 186M451.1 186L451 195.8M434.4 115.2L442.5 158M442.5 158L450.3 191M462.4 140.2L461.79 145.16M466.3 130.3L464.44 145.49M461.79 145.16L464.44 145.49M460 144.5L459.34 149.9M463.11 145.33L462.5 150.29M459.34 149.9L462.5 150.29M455 153.6L454.39 158.56M456.3 153.1L455.61 158.71M454.39 158.56L455.61 158.71M453.9 142.9L451.4 163.23M455 158.64L454.39 163.6M451.4 163.23L454.39 163.6M452.9 163.42L452.29 168.38M460.92 150.09L458.58 169.15M452.29 168.38L458.58 169.15M455.43 168.77L455.05 171.88M455.05 171.88L451 195.8M483.6 110.5L476.97 130.9M485.4 115L479.92 131.86M476.97 130.9L479.92 131.86M472.5 114.5L467.57 129.69M479.4 101.4L469.96 130.46M467.57 129.69L469.96 130.46M485.2 123L480.65 137M487.2 125.4L483.17 137.82M480.65 137L483.17 137.82M476.5 122.1L471.22 138.34M478.45 131.38L475.71 139.8M471.22 138.34L475.71 139.8M468.76 130.07L465.2 141.05M473.47 139.07L472.1 143.29M465.2 141.05L472.1 143.29M468.65 142.17L467.96 144.27M481.91 137.41L478.56 147.72M467.96 144.27L478.56 147.72M473.26 146L472.58 148.1M472.58 148.1L476.8 153.5M476.8 153.5L451 195.8M502.8 101.4L491.22 125.15M503.4 107.9L494.26 126.63M491.22 125.15L494.26 126.63M508.3 107L495.91 132.4M505 118.6L497.82 133.33M495.91 132.4L497.82 133.33M507.5 120.8L499.5 137.19M507.9 126.1L501.92 138.37M499.5 137.19L501.92 138.37M500.71 137.78L497.72 143.91M505.4 133.7L499.9 144.98M497.72 143.91L499.9 144.98M492.74 125.89L487.19 137.26M496.87 132.86L493.27 140.23M487.19 137.26L493.27 140.23M490.23 138.74L488.14 143.04M498.81 144.45L497.31 147.51M488.14 143.04L497.31 147.51M492.73 145.28L491.23 148.34M491.23 148.34L476.8 153.5M476.8 153.5L451 195.8M554 111L457 193.5M457 193.5L451 195.8M515.7 154.5L486.01 173.84M509.4 161L486.76 174.95M486.01 173.84L486.76 174.95M511.8 162.7L487.02 176.85M510.8 166.1L487.94 178.22M487.02 176.85L487.94 178.22M496.7 154.5L479.16 169.86M498.6 156.1L480.1 171.24M479.16 169.86L480.1 171.24M511 151.2L480.24 174.05M499 163.1L481.17 175.43M480.24 174.05L481.17 175.43M495.5 149.4L475.69 169M492 156.1L476.6 170.35M475.69 169L476.6 170.35M502.2 172.4L483.81 181.62M503.7 174.5L484.81 183.11M483.81 181.62L484.81 183.11M502.2 179L484.5 185.95M513.5 172.4L483.83 184.95M484.5 185.95L483.83 184.95M486.38 174.4L474.8 181.74M487.48 177.54L476.16 183.77M474.8 181.74L476.16 183.77M489.6 185.1L476.1 190.08M484.17 185.45L475.39 189.03M476.1 190.08L475.39 189.03M476.15 169.67L468.55 176.95M479.63 170.55L469.83 178.85M468.55 176.95L469.83 178.85M480.7 174.74L468.31 183.62M475.48 182.75L469.93 186.03M468.31 183.62L469.93 186.03M484.31 182.37L469.93 189.24M475.74 189.56L471.31 191.28M469.93 189.24L471.31 191.28M469.19 177.9L463.82 182.73M469.12 184.83L466.43 186.59M463.82 182.73L466.43 186.59M465.12 184.66L464.16 185.4M470.62 190.26L468.16 191.33M464.16 185.4L468.16 191.33M466.16 188.36L464.43 189.38M464.43 189.38L451 195.8M500.8 183.1L479.85 188.79M499.2 185.1L480.11 189.82M479.85 188.79L480.11 189.82M479.98 189.31L470.46 191.78M492 188.6L470.81 193.21M470.46 191.78L470.81 193.21M477.8 193.7L469.65 195.1M494 189.8L469.49 194.46M469.65 195.1L469.49 194.46M473.3 195.3L467.47 196.18M479.8 195.7L467.71 197.15M467.47 196.18L467.71 197.15M470.64 192.49L465.08 193.82M469.57 194.78L465.5 195.52M465.08 193.82L465.5 195.52M465.29 194.67L463.27 195.09M467.59 196.66L463.79 197.18M463.27 195.09L463.79 197.18M463.53 196.13L461.49 196.48M461.49 196.48L451 195.8M395.1 114.1L419.29 143.41M407.1 126.3L420.32 142.54M419.29 143.41L420.32 142.54M412.9 129.8L425.09 145.12M416.7 131.4L426.49 143.94M425.09 145.12L426.49 143.94M424.5 140.6L430.56 148.4M423.9 134.5L432.88 146.46M430.56 148.4L432.88 146.46M419.8 142.98L428.04 153.03M425.79 144.53L430.72 150.78M428.04 153.03L430.72 150.78M429.38 151.9L431.87 155M431.72 147.43L435.3 152.12M431.87 155L435.3 152.12M433.59 153.56L436.04 156.69M436.04 156.69L443 177M443 177L451 195.8M430.8 138.2L437.54 155.46M433.1 139L438.86 154.98M437.54 155.46L438.86 154.98M438.2 155.22L441.18 163.17M439.6 153.9L442.56 162.67M441.18 163.17L442.56 162.67M441.87 162.92L443.3 166.92M436.7 136.1L445.47 166.13M443.3 166.92L445.47 166.13M430.4 143.1L441.8 169.72M444.39 166.52L445.04 168.54M441.8 169.72L445.04 168.54M443.42 169.13L444.17 171.12M444.17 171.12L451 195.8M397.8 142L411.6 153.78M400 140L413.26 151.8M411.6 153.78L413.26 151.8M395.1 150.2L408.12 160.1M394.7 146.7L409.55 158.4M408.12 160.1L409.55 158.4M406.3 143.5L419.87 155.86M413.5 147.8L420.86 154.68M419.87 155.86L420.86 154.68M408.84 159.25L415.3 164.25M409 156.3L416.74 162.54M415.3 164.25L416.74 162.54M420.37 155.27L424.07 158.69M415.5 147.1L425.62 156.84M424.07 158.69L425.62 156.84M416.02 163.39L419.23 165.93M412.43 152.79L422.72 161.76M419.23 165.93L422.72 161.76M420.98 163.85L422.55 165.15M424.84 157.77L427.02 159.82M422.55 165.15L427.02 159.82M424.78 162.48L426.31 163.84M426.31 163.84L438 179M438 179L451 195.8M361 161.4L388.49 173.88M370.6 162.2L389.8 171.31M388.49 173.88L389.8 171.31M378 161.4L394.53 169.66M379.8 159.4L395.6 167.56M394.53 169.66L395.6 167.56M383.5 155.3L398.44 163.56M374.9 146.5L399.82 160.86M398.44 163.56L399.82 160.86M388.6 151.8L402.04 159.76M389.2 148.8L403.23 157.41M402.04 159.76L403.23 157.41M395.06 168.61L402.99 172.64M389 161.4L404.5 169.68M402.99 172.64L404.5 169.68M399.13 162.21L407.21 166.78M402.63 158.59L409.32 162.62M407.21 166.78L409.32 162.62M389.15 172.6L404.39 179.67M403.74 171.16L407.69 173.21M404.39 179.67L407.69 173.21M406.04 176.44L408.04 177.42M408.27 164.7L413.08 167.51M408.04 177.42L413.08 167.51M410.56 172.47L412.52 173.52M412.52 173.52L438 183M438 183L451 195.8M397.9 189.9L417.4 192.97M391.9 185.4L417.8 190.7M417.4 192.97L417.8 190.7M403.6 195.6L420.05 196.95M394.9 193.7L420.19 196.19M420.05 196.95L420.19 196.19M413.6 186.9L427.8 190.59M418.6 185.7L428.14 188.67M427.8 190.59L428.14 188.67M405.4 198.1L428.02 199.1M420.12 196.57L428.33 197.32M428.02 199.1L428.33 197.32M417.6 191.84L432.15 194.48M427.97 189.63L432.76 190.99M432.15 194.48L432.76 190.99M428.18 198.21L433.94 198.6M432.46 192.73L434.87 193.3M433.94 198.6L434.87 193.3M434.41 195.95L436.86 196.31M436.86 196.31L451 195.8M394.4 229.8L418.65 216.97M396.3 226.7L418.19 215.76M418.65 216.97L418.19 215.76M386.9 217.3L416.71 207.59M394.4 213.1L416.29 206.49M416.71 207.59L416.29 206.49M385.7 223.6L420.79 209.64M402.4 216.8L420.76 209.54M420.79 209.64L420.76 209.54M398.1 215.8L422.07 207.25M404.4 210.6L421.33 205.35M422.07 207.25L421.33 205.35M410.8 202.2L423.94 199.6M396.9 202.4L423.37 198.11M423.94 199.6L423.37 198.11M403.1 207.9L426.27 201.82M414.1 203.1L425.75 200.46M426.27 201.82L425.75 200.46M418.42 216.36L429.32 210.76M402.9 221.1L428.69 209.12M429.32 210.76L428.69 209.12M421.7 206.3L430.1 203.5M416.5 207.04L429.85 202.85M430.1 203.5L429.85 202.85M426.01 201.14L431.8 199.73M423.66 198.86L430.96 197.54M431.8 199.73L430.96 197.54M429 209.94L434.49 207.25M420.77 209.59L433.46 204.56M434.49 207.25L433.46 204.56M433.98 205.91L436.77 204.67M429.98 203.17L435.5 201.39M436.77 204.67L435.5 201.39M436.13 203.03L437.11 202.66M431.38 198.64L435.25 197.82M437.11 202.66L435.25 197.82M436.18 200.24L438.11 199.67M438.11 199.67L451 195.8M420.8 223.6L430.06 213.95M415.4 230.3L430.44 214.24M430.06 213.95L430.44 214.24M427.3 231.1L435.9 218.17M426.8 227.6L434.5 217.07M435.9 218.17L434.5 217.07M426.8 224.8L434.15 215.4M412.9 235.6L432.2 213.88M434.15 215.4L432.2 213.88M426.1 215.4L432.25 209.49M421.8 219.8L432.37 209.58M432.25 209.49L432.37 209.58M430.25 214.1L434.96 209.13M428.6 212.4L433.39 207.9M434.96 209.13L433.39 207.9M434.17 208.51L436.49 206.21M432.31 209.54L436.09 205.89M436.49 206.21L436.09 205.89M435.2 217.62L439.25 211.81M433.17 214.64L437 210.05M439.25 211.81L437 210.05M438.12 210.93L440.53 207.78M436.29 206.05L437.19 205.17M440.53 207.78L437.19 205.17M438.86 206.47L440.19 204.97M440.19 204.97L451 195.8M440.3 248L443.77 228.91M438.6 246.8L442.52 228.64M443.77 228.91L442.52 228.64M452.3 248L451.84 229.77M451 251L450.94 229.58M451.84 229.77L450.94 229.58M433.6 237.3L438.61 223.59M432.3 242.8L439.03 223.68M438.61 223.59L439.03 223.68M434.4 231.2L438.69 220.48M432.6 238.1L439.25 220.6M438.69 220.48L439.25 220.6M449.3 237.3L449.78 222.44M448 233.3L448.73 222.21M449.78 222.44L448.73 222.21M443.15 228.78L444.96 219.67M438.6 237.8L443.34 219.32M444.96 219.67L443.34 219.32M436.1 227.3L440.35 216.58M438.82 223.64L441.28 216.78M440.35 216.58L441.28 216.78M440.81 216.68L441.79 214.1M438.97 220.54L441.5 214.04M441.79 214.1L441.5 214.04M451.39 229.67L451.21 217.12M449.25 222.33L449.53 216.76M451.21 217.12L449.53 216.76M444.4 239.4L447.52 215.46M444.15 219.5L445.18 214.97M447.52 215.46L445.18 214.97M441.65 214.07L442.19 212.65M434.3 224.3L440.15 212.22M442.19 212.65L440.15 212.22M450.37 216.94L450.42 213.89M446.35 215.22L446.73 213.1M450.42 213.89L446.73 213.1M448.57 213.5L448.62 213M441.17 212.43L441.57 211.5M448.62 213L441.57 211.5M445.1 212.25L445.6 210.31M445.6 210.31L451 195.8M432.7 278.2L446.8 206M446.8 206L451 195.8" fill="none" stroke="#141414" stroke-width="0.68" stroke-linecap="round"/>
<circle cx="430.7" cy="79.5" r="2.15" fill="#8FD463"/>
<circle cx="433.8" cy="73.2" r="2.15" fill="#8FD463"/>
<circle cx="438.8" cy="76.9" r="2.15" fill="#8FD463"/>
<circle cx="443.7" cy="84" r="2.15" fill="#8FD463"/>
<circle cx="448.2" cy="99.3" r="2.15" fill="#8FD463"/>
<circle cx="451.8" cy="106.9" r="2.15" fill="#8FD463"/>
<circle cx="434.4" cy="115.2" r="2.15" fill="#8FD463"/>
<circle cx="466.3" cy="130.3" r="2.15" fill="#FCE646"/>
<circle cx="462.4" cy="140.2" r="2.15" fill="#527EAF"/>
<circle cx="460" cy="144.5" r="2.15" fill="#527EAF"/>
<circle cx="453.9" cy="142.9" r="2.15" fill="#8FD463"/>
<circle cx="456.3" cy="153.1" r="2.15" fill="#8FD463"/>
<circle cx="455" cy="153.6" r="2.15" fill="#8FD463"/>
<circle cx="479.4" cy="101.4" r="2.15" fill="#673E9E"/>
<circle cx="483.6" cy="110.5" r="2.15" fill="#673E9E"/>
<circle cx="472.5" cy="114.5" r="2.15" fill="#673E9E"/>
<circle cx="485.4" cy="115" r="2.15" fill="#673E9E"/>
<circle cx="476.5" cy="122.1" r="2.15" fill="#673E9E"/>
<circle cx="485.2" cy="123" r="2.15" fill="#673E9E"/>
<circle cx="487.2" cy="125.4" r="2.15" fill="#673E9E"/>
<circle cx="502.8" cy="101.4" r="2.15" fill="#673E9E"/>
<circle cx="503.4" cy="107.9" r="2.15" fill="#673E9E"/>
<circle cx="508.3" cy="107" r="2.15" fill="#673E9E"/>
<circle cx="505" cy="118.6" r="2.15" fill="#673E9E"/>
<circle cx="507.5" cy="120.8" r="2.15" fill="#673E9E"/>
<circle cx="507.9" cy="126.1" r="2.15" fill="#673E9E"/>
<circle cx="505.4" cy="133.7" r="2.15" fill="#673E9E"/>
<circle cx="554" cy="111" r="2.15" fill="#527EAF"/>
<circle cx="495.5" cy="149.4" r="2.15" fill="#673E9E"/>
<circle cx="511" cy="151.2" r="2.15" fill="#5F63AD"/>
<circle cx="515.7" cy="154.5" r="2.15" fill="#673E9E"/>
<circle cx="492" cy="156.1" r="2.15" fill="#673E9E"/>
<circle cx="496.7" cy="154.5" r="2.15" fill="#673E9E"/>
<circle cx="498.6" cy="156.1" r="2.15" fill="#673E9E"/>
<circle cx="499" cy="163.1" r="2.15" fill="#5EC483"/>
<circle cx="509.4" cy="161" r="2.15" fill="#673E9E"/>
<circle cx="511.8" cy="162.7" r="2.15" fill="#673E9E"/>
<circle cx="510.8" cy="166.1" r="2.15" fill="#673E9E"/>
<circle cx="513.5" cy="172.4" r="2.15" fill="#673E9E"/>
<circle cx="502.2" cy="172.4" r="2.15" fill="#673E9E"/>
<circle cx="503.7" cy="174.5" r="2.15" fill="#673E9E"/>
<circle cx="502.2" cy="179" r="2.15" fill="#673E9E"/>
<circle cx="489.6" cy="185.1" r="2.15" fill="#673E9E"/>
<circle cx="500.8" cy="183.1" r="2.15" fill="#33A09C"/>
<circle cx="499.2" cy="185.1" r="2.15" fill="#33A09C"/>
<circle cx="492" cy="188.6" r="2.15" fill="#33A09C"/>
<circle cx="494" cy="189.8" r="2.15" fill="#33A09C"/>
<circle cx="473.3" cy="195.3" r="2.15" fill="#33A09C"/>
<circle cx="477.8" cy="193.7" r="2.15" fill="#33A09C"/>
<circle cx="479.8" cy="195.7" r="2.15" fill="#33A09C"/>
<circle cx="395.1" cy="114.1" r="2.15" fill="#33A09C"/>
<circle cx="407.1" cy="126.3" r="2.15" fill="#33A09C"/>
<circle cx="412.9" cy="129.8" r="2.15" fill="#33A09C"/>
<circle cx="416.7" cy="131.4" r="2.15" fill="#33A09C"/>
<circle cx="423.9" cy="134.5" r="2.15" fill="#33A09C"/>
<circle cx="424.5" cy="140.6" r="2.15" fill="#33A09C"/>
<circle cx="430.4" cy="143.1" r="2.15" fill="#33A09C"/>
<circle cx="433.1" cy="139" r="2.15" fill="#33A09C"/>
<circle cx="430.8" cy="138.2" r="2.15" fill="#C9DE45"/>
<circle cx="436.7" cy="136.1" r="2.15" fill="#8FD463"/>
<circle cx="439.6" cy="153.9" r="2.15" fill="#33A09C"/>
<circle cx="400" cy="140" r="2.15" fill="#33A09C"/>
<circle cx="397.8" cy="142" r="2.15" fill="#33A09C"/>
<circle cx="406.3" cy="143.5" r="2.15" fill="#33A09C"/>
<circle cx="394.7" cy="146.7" r="2.15" fill="#33A09C"/>
<circle cx="395.1" cy="150.2" r="2.15" fill="#33A09C"/>
<circle cx="413.5" cy="147.8" r="2.15" fill="#33A09C"/>
<circle cx="415.5" cy="147.1" r="2.15" fill="#33A09C"/>
<circle cx="409" cy="156.3" r="2.15" fill="#33A09C"/>
<circle cx="374.9" cy="146.5" r="2.15" fill="#33A09C"/>
<circle cx="389.2" cy="148.8" r="2.15" fill="#33A09C"/>
<circle cx="388.6" cy="151.8" r="2.15" fill="#33A09C"/>
<circle cx="383.5" cy="155.3" r="2.15" fill="#33A09C"/>
<circle cx="379.8" cy="159.4" r="2.15" fill="#33A09C"/>
<circle cx="378" cy="161.4" r="2.15" fill="#33A09C"/>
<circle cx="389" cy="161.4" r="2.15" fill="#33A09C"/>
<circle cx="370.6" cy="162.2" r="2.15" fill="#33A09C"/>
<circle cx="361" cy="161.4" r="2.15" fill="#33A09C"/>
<circle cx="391.9" cy="185.4" r="2.15" fill="#33A09C"/>
<circle cx="413.6" cy="186.9" r="2.15" fill="#33A09C"/>
<circle cx="418.6" cy="185.7" r="2.15" fill="#33A09C"/>
<circle cx="397.9" cy="189.9" r="2.15" fill="#33A09C"/>
<circle cx="394.9" cy="193.7" r="2.15" fill="#33A09C"/>
<circle cx="403.6" cy="195.6" r="2.15" fill="#33A09C"/>
<circle cx="405.4" cy="198.1" r="2.15" fill="#33A09C"/>
<circle cx="396.9" cy="202.4" r="2.15" fill="#33A09C"/>
<circle cx="414.1" cy="203.1" r="2.15" fill="#33A09C"/>
<circle cx="403.1" cy="207.9" r="2.15" fill="#33A09C"/>
<circle cx="404.4" cy="210.6" r="2.15" fill="#33A09C"/>
<circle cx="394.4" cy="213.1" r="2.15" fill="#33A09C"/>
<circle cx="386.9" cy="217.3" r="2.15" fill="#33A09C"/>
<circle cx="402.4" cy="216.8" r="2.15" fill="#33A09C"/>
<circle cx="385.7" cy="223.6" r="2.15" fill="#33A09C"/>
<circle cx="402.9" cy="221.1" r="2.15" fill="#33A09C"/>
<circle cx="394.4" cy="229.8" r="2.15" fill="#33A09C"/>
<circle cx="410.8" cy="202.2" r="2.15" fill="#33A09C"/>
<circle cx="398.1" cy="215.8" r="2.15" fill="#33A09C"/>
<circle cx="396.3" cy="226.7" r="2.15" fill="#33A09C"/>
<circle cx="428.6" cy="212.4" r="2.15" fill="#33A09C"/>
<circle cx="426.1" cy="215.4" r="2.15" fill="#33A09C"/>
<circle cx="421.8" cy="219.8" r="2.15" fill="#33A09C"/>
<circle cx="426.8" cy="224.8" r="2.15" fill="#33A09C"/>
<circle cx="415.4" cy="230.3" r="2.15" fill="#33A09C"/>
<circle cx="412.9" cy="235.6" r="2.15" fill="#33A09C"/>
<circle cx="427.3" cy="231.1" r="2.15" fill="#33A09C"/>
<circle cx="420.8" cy="223.6" r="2.15" fill="#33A09C"/>
<circle cx="426.8" cy="227.6" r="2.15" fill="#33A09C"/>
<circle cx="434.3" cy="224.3" r="2.15" fill="#33A09C"/>
<circle cx="436.1" cy="227.3" r="2.15" fill="#33A09C"/>
<circle cx="433.6" cy="237.3" r="2.15" fill="#33A09C"/>
<circle cx="438.6" cy="237.8" r="2.15" fill="#33A09C"/>
<circle cx="432.3" cy="242.8" r="2.15" fill="#33A09C"/>
<circle cx="438.6" cy="246.8" r="2.15" fill="#33A09C"/>
<circle cx="440.3" cy="248" r="2.15" fill="#33A09C"/>
<circle cx="448" cy="233.3" r="2.15" fill="#33A09C"/>
<circle cx="449.3" cy="237.3" r="2.15" fill="#33A09C"/>
<circle cx="452.3" cy="248" r="2.15" fill="#33A09C"/>
<circle cx="451" cy="251" r="2.15" fill="#33A09C"/>
<circle cx="434.4" cy="231.2" r="2.15" fill="#33A09C"/>
<circle cx="444.4" cy="239.4" r="2.15" fill="#33A09C"/>
<circle cx="432.6" cy="238.1" r="2.15" fill="#33A09C"/>
<circle cx="432.7" cy="278.2" r="2.15" fill="#33A09C"/>
<text x="330" y="376.4" font-size="6.9" fill="#222" textLength="69.2" lengthAdjust="spacingAndGlyphs">Enrichment in EastDiet</text>
<rect x="330" y="382.1" width="7.2" height="7.2" fill="#FCCD6D"/>
<text x="342" y="388.1" font-size="6.9" fill="#222" textLength="27.8" lengthAdjust="spacingAndGlyphs">Depleted</text>
<rect x="330" y="395.35" width="7.2" height="7.2" fill="#ABABAB"/>
<text x="342" y="401.35" font-size="6.9" fill="#222" textLength="44.2" lengthAdjust="spacingAndGlyphs">Not significant</text>
<rect x="330" y="408.6" width="7.2" height="7.2" fill="#A4C9A8"/>
<text x="342" y="414.6" font-size="6.9" fill="#222" textLength="27" lengthAdjust="spacingAndGlyphs">Enriched</text>
<text x="464.1" y="229.1" font-size="6.9" fill="#111" textLength="112.2" lengthAdjust="spacingAndGlyphs">Significant related microbiota genus</text>
<text x="464.1" y="245.7" font-size="6.9" fill="#D9A33F" textLength="83.9" lengthAdjust="spacingAndGlyphs">Clostridium_sensu_stricto_1</text>
<text x="464.1" y="254.69" font-size="6.9" fill="#D9A33F" font-style="italic" textLength="35.6" lengthAdjust="spacingAndGlyphs">Romboutsia</text>
<text x="464.1" y="263.67" font-size="6.9" fill="#D9A33F" textLength="88.3" lengthAdjust="spacingAndGlyphs">[Eubacterium]_brachy_group</text>
<text x="464.1" y="272.65" font-size="6.9" fill="#5E8769" textLength="35.6" lengthAdjust="spacingAndGlyphs">Chloroplast</text>
<text x="464.1" y="281.64" font-size="6.9" fill="#5E8769" font-style="italic" textLength="48" lengthAdjust="spacingAndGlyphs">Bifidobacterium</text>
<text x="464.1" y="290.62" font-size="6.9" fill="#D9A33F" font-style="italic" textLength="62.5" lengthAdjust="spacingAndGlyphs">Escherichia–Shigella</text>
<text x="464.1" y="299.61" font-size="6.9" fill="#D9A33F" font-style="italic" textLength="39" lengthAdjust="spacingAndGlyphs">Enterobacter</text>
<text x="464.1" y="308.59" font-size="6.9" fill="#5E8769" textLength="96" lengthAdjust="spacingAndGlyphs">Christensenellaceae_R-7_group</text>
<text x="464.1" y="317.58" font-size="6.9" fill="#D9A33F" font-style="italic" textLength="24.8" lengthAdjust="spacingAndGlyphs">Gemella</text>
<text x="464.1" y="326.56" font-size="6.9" fill="#5E8769" font-style="italic" textLength="44" lengthAdjust="spacingAndGlyphs">Streptococcus</text>
<text x="464.1" y="335.55" font-size="6.9" fill="#5E8769" textLength="15.1" lengthAdjust="spacingAndGlyphs">RF39</text>
<text x="464.1" y="344.53" font-size="6.9" fill="#D9A33F" font-style="italic" textLength="36.3" lengthAdjust="spacingAndGlyphs">Faecalitalea</text>
<text x="464.1" y="353.52" font-size="6.9" fill="#5E8769" textLength="59.8" lengthAdjust="spacingAndGlyphs">Clostridia_UCG-014</text>
<text x="464.1" y="362.5" font-size="6.9" fill="#5E8769" font-style="italic" textLength="38" lengthAdjust="spacingAndGlyphs">Monoglobus</text>
<text x="464.1" y="371.49" font-size="6.9" fill="#5E8769" textLength="48.7" lengthAdjust="spacingAndGlyphs">NK4A214_group</text>
<text x="464.1" y="380.47" font-size="6.9" fill="#D9A33F" font-style="italic" textLength="48.7" lengthAdjust="spacingAndGlyphs">Negativibacillus</text>
<text x="464.1" y="389.46" font-size="6.9" fill="#5E8769" textLength="83.3" lengthAdjust="spacingAndGlyphs">Lachnospiraceae_UCG-001</text>
<text x="464.1" y="398.44" font-size="6.9" fill="#5E8769" textLength="101.7" lengthAdjust="spacingAndGlyphs">Lachnospiraceae_ND3007_group</text>
<text x="464.1" y="407.43" font-size="6.9" fill="#D9A33F" textLength="96" lengthAdjust="spacingAndGlyphs">[Ruminococcus]_gnavus_group</text>
<text x="464.1" y="416.41" font-size="6.9" fill="#5E8769" textLength="106.1" lengthAdjust="spacingAndGlyphs">[Ruminococcus]_gauvreauii_group</text>
<text x="464.1" y="425.4" font-size="6.9" fill="#D9A33F" font-style="italic" textLength="45.3" lengthAdjust="spacingAndGlyphs">Fusobacterium</text>
<text x="613" y="229.9" font-size="6.9" fill="#111" textLength="22.3" lengthAdjust="spacingAndGlyphs">Phylum</text>
<circle cx="621.6" cy="245.5" r="2.65" fill="#561C77"/>
<text x="627.4" y="247.9" font-size="6.9" fill="#111" textLength="51.7" lengthAdjust="spacingAndGlyphs">Actinobacteriota</text>
<circle cx="621.6" cy="263.1" r="2.65" fill="#673E9E"/>
<text x="627.4" y="265.5" font-size="6.9" fill="#111" textLength="39.3" lengthAdjust="spacingAndGlyphs">Bacteroidota</text>
<circle cx="621.6" cy="280.7" r="2.65" fill="#5F63AD"/>
<text x="627.4" y="283.1" font-size="6.9" fill="#111" textLength="45" lengthAdjust="spacingAndGlyphs">Cyanobacteria</text>
<circle cx="621.6" cy="298.3" r="2.65" fill="#527EAF"/>
<text x="627.4" y="300.7" font-size="6.9" fill="#111" textLength="53" lengthAdjust="spacingAndGlyphs">Desulfobacterota</text>
<circle cx="621.6" cy="315.9" r="2.65" fill="#4395AA"/>
<text x="627.4" y="318.3" font-size="6.9" fill="#111" textLength="44.3" lengthAdjust="spacingAndGlyphs">Euryarchaeota</text>
<circle cx="621.6" cy="333.5" r="2.65" fill="#33A09C"/>
<text x="627.4" y="335.9" font-size="6.9" fill="#111" textLength="31.9" lengthAdjust="spacingAndGlyphs">Firmicutes</text>
<circle cx="621.6" cy="351.1" r="2.65" fill="#3FB190"/>
<text x="627.4" y="353.5" font-size="6.9" fill="#111" textLength="46.3" lengthAdjust="spacingAndGlyphs">Fusobacteriota</text>
<circle cx="621.6" cy="368.7" r="2.65" fill="#5EC483"/>
<text x="627.4" y="371.1" font-size="6.9" fill="#111" textLength="47.3" lengthAdjust="spacingAndGlyphs">Patescibacteria</text>
<circle cx="621.6" cy="386.3" r="2.65" fill="#8FD463"/>
<text x="627.4" y="388.7" font-size="6.9" fill="#111" textLength="45.7" lengthAdjust="spacingAndGlyphs">Proteobacteria</text>
<circle cx="621.6" cy="403.9" r="2.65" fill="#C9DE45"/>
<text x="627.4" y="406.3" font-size="6.9" fill="#111" textLength="39" lengthAdjust="spacingAndGlyphs">Synergistota</text>
<circle cx="621.6" cy="421.5" r="2.65" fill="#FCE646"/>
<text x="627.4" y="423.9" font-size="6.9" fill="#111" textLength="57.6" lengthAdjust="spacingAndGlyphs">Verrucomicrobiota</text>
</g>
<g id="panel-c">
<text x="-0.3" y="220.4" font-size="12.6" fill="#000" font-weight="bold">c</text>
<path d="M162.03 264.56A72.6 72.6 0 0 1 178.93 273.17L177.71 274.94A70.45 70.45 0 0 0 161.32 266.59Z" fill="#f9e3e3"/>
<path d="M161.32 266.59A70.45 70.45 0 0 1 177.71 274.94L176.5 276.71A68.31 68.31 0 0 0 160.6 268.61Z" fill="#f3cdcd"/>
<path d="M160.6 268.61A68.31 68.31 0 0 1 176.5 276.71L175.28 278.48A66.16 66.16 0 0 0 159.88 270.64Z" fill="#fdf8f8"/>
<path d="M159.88 270.64A66.16 66.16 0 0 1 175.28 278.48L174.06 280.25A64.01 64.01 0 0 0 159.17 272.66Z" fill="#fdf8f8"/>
<path d="M159.17 272.66A64.01 64.01 0 0 1 174.06 280.25L172.85 282.02A61.86 61.86 0 0 0 158.45 274.69Z" fill="#e2807f"/>
<path d="M158.45 274.69A61.86 61.86 0 0 1 172.85 282.02L171.63 283.79A59.72 59.72 0 0 0 157.73 276.71Z" fill="#f3cdcd"/>
<path d="M157.73 276.71A59.72 59.72 0 0 1 171.63 283.79L170.41 285.56A57.57 57.57 0 0 0 157.02 278.73Z" fill="#fdf8f8"/>
<path d="M157.02 278.73A57.57 57.57 0 0 1 170.41 285.56L169.2 287.33A55.42 55.42 0 0 0 156.3 280.76Z" fill="#f9e3e3"/>
<path d="M156.3 280.76A55.42 55.42 0 0 1 169.2 287.33L167.98 289.1A53.27 53.27 0 0 0 155.58 282.78Z" fill="#e58f8e"/>
<path d="M155.58 282.78A53.27 53.27 0 0 1 167.98 289.1L166.76 290.87A51.13 51.13 0 0 0 154.87 284.81Z" fill="#f3cdcd"/>
<path d="M154.87 284.81A51.13 51.13 0 0 1 166.76 290.87L165.55 292.64A48.98 48.98 0 0 0 154.15 286.83Z" fill="#fae8e8"/>
<path d="M154.15 286.83A48.98 48.98 0 0 1 165.55 292.64L164.33 294.41A46.83 46.83 0 0 0 153.43 288.85Z" fill="#82a3b8"/>
<path d="M153.43 288.85A46.83 46.83 0 0 1 164.33 294.41L163.12 296.18A44.68 44.68 0 0 0 152.72 290.88Z" fill="#fdf8f8"/>
<path d="M152.72 290.88A44.68 44.68 0 0 1 163.12 296.18L161.9 297.95A42.54 42.54 0 0 0 152 292.9Z" fill="#f4d1d1"/>
<path d="M152 292.9A42.54 42.54 0 0 1 161.9 297.95L160.68 299.72A40.39 40.39 0 0 0 151.28 294.93Z" fill="#f4d1d1"/>
<path d="M151.28 294.93A40.39 40.39 0 0 1 160.68 299.72L159.47 301.49A38.24 38.24 0 0 0 150.57 296.95Z" fill="#ffffff"/>
<path d="M150.57 296.95A38.24 38.24 0 0 1 159.47 301.49L158.25 303.26A36.09 36.09 0 0 0 149.85 298.98Z" fill="#fdf8f8"/>
<path d="M149.85 298.98A36.09 36.09 0 0 1 158.25 303.26L157.03 305.03A33.95 33.95 0 0 0 149.13 301Z" fill="#ffffff"/>
<path d="M149.13 301A33.95 33.95 0 0 1 157.03 305.03L155.82 306.8A31.8 31.8 0 0 0 148.42 303.02Z" fill="#ffffff"/>
<path d="M178.93 273.17A72.6 72.6 0 0 1 193.02 285.87L191.39 287.26A70.45 70.45 0 0 0 177.71 274.94Z" fill="#d3dfe6"/>
<path d="M177.71 274.94A70.45 70.45 0 0 1 191.39 287.26L189.75 288.66A68.31 68.31 0 0 0 176.5 276.71Z" fill="#fefbfb"/>
<path d="M176.5 276.71A68.31 68.31 0 0 1 189.75 288.66L188.12 290.05A66.16 66.16 0 0 0 175.28 278.48Z" fill="#f9e5e5"/>
<path d="M175.28 278.48A66.16 66.16 0 0 1 188.12 290.05L186.49 291.44A64.01 64.01 0 0 0 174.06 280.25Z" fill="#fbeeee"/>
<path d="M174.06 280.25A64.01 64.01 0 0 1 186.49 291.44L184.85 292.84A61.86 61.86 0 0 0 172.85 282.02Z" fill="#f7dcdc"/>
<path d="M172.85 282.02A61.86 61.86 0 0 1 184.85 292.84L183.22 294.23A59.72 59.72 0 0 0 171.63 283.79Z" fill="#fefbfb"/>
<path d="M171.63 283.79A59.72 59.72 0 0 1 183.22 294.23L181.59 295.63A57.57 57.57 0 0 0 170.41 285.56Z" fill="#f6dad9"/>
<path d="M170.41 285.56A57.57 57.57 0 0 1 181.59 295.63L179.95 297.02A55.42 55.42 0 0 0 169.2 287.33Z" fill="#fefbfb"/>
<path d="M169.2 287.33A55.42 55.42 0 0 1 179.95 297.02L178.32 298.41A53.27 53.27 0 0 0 167.98 289.1Z" fill="#f7dfde"/>
<path d="M167.98 289.1A53.27 53.27 0 0 1 178.32 298.41L176.69 299.81A51.13 51.13 0 0 0 166.76 290.87Z" fill="#f8e1e1"/>
<path d="M166.76 290.87A51.13 51.13 0 0 1 176.69 299.81L175.05 301.2A48.98 48.98 0 0 0 165.55 292.64Z" fill="#f7dedd"/>
<path d="M165.55 292.64A48.98 48.98 0 0 1 175.05 301.2L173.42 302.6A46.83 46.83 0 0 0 164.33 294.41Z" fill="#fae8e8"/>
<path d="M164.33 294.41A46.83 46.83 0 0 1 173.42 302.6L171.79 303.99A44.68 44.68 0 0 0 163.12 296.18Z" fill="#fefbfb"/>
<path d="M163.12 296.18A44.68 44.68 0 0 1 171.79 303.99L170.15 305.38A42.54 42.54 0 0 0 161.9 297.95Z" fill="#fcfdfe"/>
<path d="M161.9 297.95A42.54 42.54 0 0 1 170.15 305.38L168.52 306.78A40.39 40.39 0 0 0 160.68 299.72Z" fill="#fdf6f6"/>
<path d="M160.68 299.72A40.39 40.39 0 0 1 168.52 306.78L166.89 308.17A38.24 38.24 0 0 0 159.47 301.49Z" fill="#fffefe"/>
<path d="M159.47 301.49A38.24 38.24 0 0 1 166.89 308.17L165.25 309.57A36.09 36.09 0 0 0 158.25 303.26Z" fill="#f2f6f8"/>
<path d="M158.25 303.26A36.09 36.09 0 0 1 165.25 309.57L163.62 310.96A33.95 33.95 0 0 0 157.03 305.03Z" fill="#f3f6f8"/>
<path d="M157.03 305.03A33.95 33.95 0 0 1 163.62 310.96L161.99 312.36A31.8 31.8 0 0 0 155.82 306.8Z" fill="#fdf7f6"/>
<path d="M193.02 285.87A72.6 72.6 0 0 1 203.34 301.78L201.4 302.7A70.45 70.45 0 0 0 191.39 287.26Z" fill="#fbefef"/>
<path d="M191.39 287.26A70.45 70.45 0 0 1 201.4 302.7L199.47 303.62A68.31 68.31 0 0 0 189.75 288.66Z" fill="#fefbfb"/>
<path d="M189.75 288.66A68.31 68.31 0 0 1 199.47 303.62L197.53 304.55A66.16 66.16 0 0 0 188.12 290.05Z" fill="#f9e6e6"/>
<path d="M188.12 290.05A66.16 66.16 0 0 1 197.53 304.55L195.59 305.47A64.01 64.01 0 0 0 186.49 291.44Z" fill="#f1c1c0"/>
<path d="M186.49 291.44A64.01 64.01 0 0 1 195.59 305.47L193.65 306.39A61.86 61.86 0 0 0 184.85 292.84Z" fill="#f9e4e4"/>
<path d="M184.85 292.84A61.86 61.86 0 0 1 193.65 306.39L191.71 307.32A59.72 59.72 0 0 0 183.22 294.23Z" fill="#ebf0f4"/>
<path d="M183.22 294.23A59.72 59.72 0 0 1 191.71 307.32L189.77 308.24A57.57 57.57 0 0 0 181.59 295.63Z" fill="#fefbfb"/>
<path d="M181.59 295.63A57.57 57.57 0 0 1 189.77 308.24L187.83 309.16A55.42 55.42 0 0 0 179.95 297.02Z" fill="#f3cccb"/>
<path d="M179.95 297.02A55.42 55.42 0 0 1 187.83 309.16L185.89 310.09A53.27 53.27 0 0 0 178.32 298.41Z" fill="#f7dddc"/>
<path d="M178.32 298.41A53.27 53.27 0 0 1 185.89 310.09L183.96 311.01A51.13 51.13 0 0 0 176.69 299.81Z" fill="#fbeceb"/>
<path d="M176.69 299.81A51.13 51.13 0 0 1 183.96 311.01L182.02 311.94A48.98 48.98 0 0 0 175.05 301.2Z" fill="#fefbfb"/>
<path d="M175.05 301.2A48.98 48.98 0 0 1 182.02 311.94L180.08 312.86A46.83 46.83 0 0 0 173.42 302.6Z" fill="#fefbfb"/>
<path d="M173.42 302.6A46.83 46.83 0 0 1 180.08 312.86L178.14 313.78A44.68 44.68 0 0 0 171.79 303.99Z" fill="#faebeb"/>
<path d="M171.79 303.99A44.68 44.68 0 0 1 178.14 313.78L176.2 314.71A42.54 42.54 0 0 0 170.15 305.38Z" fill="#f0f4f6"/>
<path d="M170.15 305.38A42.54 42.54 0 0 1 176.2 314.71L174.26 315.63A40.39 40.39 0 0 0 168.52 306.78Z" fill="#f8fafb"/>
<path d="M168.52 306.78A40.39 40.39 0 0 1 174.26 315.63L172.32 316.55A38.24 38.24 0 0 0 166.89 308.17Z" fill="#fffefe"/>
<path d="M166.89 308.17A38.24 38.24 0 0 1 172.32 316.55L170.39 317.48A36.09 36.09 0 0 0 165.25 309.57Z" fill="#fdf6f6"/>
<path d="M165.25 309.57A36.09 36.09 0 0 1 170.39 317.48L168.45 318.4A33.95 33.95 0 0 0 163.62 310.96Z" fill="#e0e9ee"/>
<path d="M163.62 310.96A33.95 33.95 0 0 1 168.45 318.4L166.51 319.32A31.8 31.8 0 0 0 161.99 312.36Z" fill="#fbfcfd"/>
<path d="M203.34 301.78A72.6 72.6 0 0 1 209.19 319.82L207.08 320.2A70.45 70.45 0 0 0 201.4 302.7Z" fill="#fefbfb"/>
<path d="M201.4 302.7A70.45 70.45 0 0 1 207.08 320.2L204.97 320.59A68.31 68.31 0 0 0 199.47 303.62Z" fill="#fbecec"/>
<path d="M199.47 303.62A68.31 68.31 0 0 1 204.97 320.59L202.86 320.98A66.16 66.16 0 0 0 197.53 304.55Z" fill="#fbecec"/>
<path d="M197.53 304.55A66.16 66.16 0 0 1 202.86 320.98L200.75 321.37A64.01 64.01 0 0 0 195.59 305.47Z" fill="#f0bfbe"/>
<path d="M195.59 305.47A64.01 64.01 0 0 1 200.75 321.37L198.63 321.76A61.86 61.86 0 0 0 193.65 306.39Z" fill="#fbefef"/>
<path d="M193.65 306.39A61.86 61.86 0 0 1 198.63 321.76L196.52 322.15A59.72 59.72 0 0 0 191.71 307.32Z" fill="#fbecec"/>
<path d="M191.71 307.32A59.72 59.72 0 0 1 196.52 322.15L194.41 322.54A57.57 57.57 0 0 0 189.77 308.24Z" fill="#e79897"/>
<path d="M189.77 308.24A57.57 57.57 0 0 1 194.41 322.54L192.3 322.93A55.42 55.42 0 0 0 187.83 309.16Z" fill="#f4cece"/>
<path d="M187.83 309.16A55.42 55.42 0 0 1 192.3 322.93L190.19 323.32A53.27 53.27 0 0 0 185.89 310.09Z" fill="#f6d6d6"/>
<path d="M185.89 310.09A53.27 53.27 0 0 1 190.19 323.32L188.08 323.71A51.13 51.13 0 0 0 183.96 311.01Z" fill="#fefbfb"/>
<path d="M183.96 311.01A51.13 51.13 0 0 1 188.08 323.71L185.96 324.1A48.98 48.98 0 0 0 182.02 311.94Z" fill="#fae9e9"/>
<path d="M182.02 311.94A48.98 48.98 0 0 1 185.96 324.1L183.85 324.49A46.83 46.83 0 0 0 180.08 312.86Z" fill="#faeaea"/>
<path d="M180.08 312.86A46.83 46.83 0 0 1 183.85 324.49L181.74 324.88A44.68 44.68 0 0 0 178.14 313.78Z" fill="#fbeded"/>
<path d="M178.14 313.78A44.68 44.68 0 0 1 181.74 324.88L179.63 325.27A42.54 42.54 0 0 0 176.2 314.71Z" fill="#fdfdfe"/>
<path d="M176.2 314.71A42.54 42.54 0 0 1 179.63 325.27L177.52 325.66A40.39 40.39 0 0 0 174.26 315.63Z" fill="#f9fbfc"/>
<path d="M174.26 315.63A40.39 40.39 0 0 1 177.52 325.66L175.41 326.05A38.24 38.24 0 0 0 172.32 316.55Z" fill="#fdf7f7"/>
<path d="M172.32 316.55A38.24 38.24 0 0 1 175.41 326.05L173.29 326.44A36.09 36.09 0 0 0 170.39 317.48Z" fill="#ecf1f4"/>
<path d="M170.39 317.48A36.09 36.09 0 0 1 173.29 326.44L171.18 326.83A33.95 33.95 0 0 0 168.45 318.4Z" fill="#fffefe"/>
<path d="M168.45 318.4A33.95 33.95 0 0 1 171.18 326.83L169.07 327.22A31.8 31.8 0 0 0 166.51 319.32Z" fill="#dee6ec"/>
<path d="M209.19 319.82A72.6 72.6 0 0 1 210.17 338.75L208.03 338.58A70.45 70.45 0 0 0 207.08 320.2Z" fill="#f4cfce"/>
<path d="M207.08 320.2A70.45 70.45 0 0 1 208.03 338.58L205.89 338.41A68.31 68.31 0 0 0 204.97 320.59Z" fill="#f2c9c8"/>
<path d="M204.97 320.59A68.31 68.31 0 0 1 205.89 338.41L203.75 338.24A66.16 66.16 0 0 0 202.86 320.98Z" fill="#fefbfb"/>
<path d="M202.86 320.98A66.16 66.16 0 0 1 203.75 338.24L201.61 338.07A64.01 64.01 0 0 0 200.75 321.37Z" fill="#eba8a7"/>
<path d="M200.75 321.37A64.01 64.01 0 0 1 201.61 338.07L199.47 337.9A61.86 61.86 0 0 0 198.63 321.76Z" fill="#d6e1e8"/>
<path d="M198.63 321.76A61.86 61.86 0 0 1 199.47 337.9L197.33 337.73A59.72 59.72 0 0 0 196.52 322.15Z" fill="#f3caca"/>
<path d="M196.52 322.15A59.72 59.72 0 0 1 197.33 337.73L195.19 337.56A57.57 57.57 0 0 0 194.41 322.54Z" fill="#f7dddd"/>
<path d="M194.41 322.54A57.57 57.57 0 0 1 195.19 337.56L193.05 337.39A55.42 55.42 0 0 0 192.3 322.93Z" fill="#fae8e7"/>
<path d="M192.3 322.93A55.42 55.42 0 0 1 193.05 337.39L190.91 337.22A53.27 53.27 0 0 0 190.19 323.32Z" fill="#fefbfb"/>
<path d="M190.19 323.32A53.27 53.27 0 0 1 190.91 337.22L188.77 337.05A51.13 51.13 0 0 0 188.08 323.71Z" fill="#f8e0df"/>
<path d="M188.08 323.71A51.13 51.13 0 0 1 188.77 337.05L186.62 336.88A48.98 48.98 0 0 0 185.96 324.1Z" fill="#f7dbdb"/>
<path d="M185.96 324.1A48.98 48.98 0 0 1 186.62 336.88L184.48 336.71A46.83 46.83 0 0 0 183.85 324.49Z" fill="#f0bfbe"/>
<path d="M183.85 324.49A46.83 46.83 0 0 1 184.48 336.71L182.34 336.54A44.68 44.68 0 0 0 181.74 324.88Z" fill="#fefbfb"/>
<path d="M181.74 324.88A44.68 44.68 0 0 1 182.34 336.54L180.2 336.37A42.54 42.54 0 0 0 179.63 325.27Z" fill="#c9d7e0"/>
<path d="M179.63 325.27A42.54 42.54 0 0 1 180.2 336.37L178.06 336.2A40.39 40.39 0 0 0 177.52 325.66Z" fill="#e6edf1"/>
<path d="M177.52 325.66A40.39 40.39 0 0 1 178.06 336.2L175.92 336.03A38.24 38.24 0 0 0 175.41 326.05Z" fill="#c3d3dd"/>
<path d="M175.41 326.05A38.24 38.24 0 0 1 175.92 336.03L173.78 335.86A36.09 36.09 0 0 0 173.29 326.44Z" fill="#f4f7f9"/>
<path d="M173.29 326.44A36.09 36.09 0 0 1 173.78 335.86L171.64 335.69A33.95 33.95 0 0 0 171.18 326.83Z" fill="#e1e9ee"/>
<path d="M171.18 326.83A33.95 33.95 0 0 1 171.64 335.69L169.5 335.52A31.8 31.8 0 0 0 169.07 327.22Z" fill="#dae4ea"/>
<path d="M210.17 338.75A72.6 72.6 0 0 1 206.21 357.3L204.19 356.58A70.45 70.45 0 0 0 208.03 338.58Z" fill="#fefbfb"/>
<path d="M208.03 338.58A70.45 70.45 0 0 1 204.19 356.58L202.17 355.86A68.31 68.31 0 0 0 205.89 338.41Z" fill="#f1c2c1"/>
<path d="M205.89 338.41A68.31 68.31 0 0 1 202.17 355.86L200.14 355.14A66.16 66.16 0 0 0 203.75 338.24Z" fill="#fefbfb"/>
<path d="M203.75 338.24A66.16 66.16 0 0 1 200.14 355.14L198.12 354.42A64.01 64.01 0 0 0 201.61 338.07Z" fill="#e38583"/>
<path d="M201.61 338.07A64.01 64.01 0 0 1 198.12 354.42L196.1 353.71A61.86 61.86 0 0 0 199.47 337.9Z" fill="#f8e1e0"/>
<path d="M199.47 337.9A61.86 61.86 0 0 1 196.1 353.71L194.07 352.99A59.72 59.72 0 0 0 197.33 337.73Z" fill="#ecf1f4"/>
<path d="M197.33 337.73A59.72 59.72 0 0 1 194.07 352.99L192.05 352.27A57.57 57.57 0 0 0 195.19 337.56Z" fill="#fefbfb"/>
<path d="M195.19 337.56A57.57 57.57 0 0 1 192.05 352.27L190.02 351.55A55.42 55.42 0 0 0 193.05 337.39Z" fill="#ecaeae"/>
<path d="M193.05 337.39A55.42 55.42 0 0 1 190.02 351.55L188 350.83A53.27 53.27 0 0 0 190.91 337.22Z" fill="#f9e6e6"/>
<path d="M190.91 337.22A53.27 53.27 0 0 1 188 350.83L185.98 350.11A51.13 51.13 0 0 0 188.77 337.05Z" fill="#fefbfb"/>
<path d="M188.77 337.05A51.13 51.13 0 0 1 185.98 350.11L183.95 349.39A48.98 48.98 0 0 0 186.62 336.88Z" fill="#faeceb"/>
<path d="M186.62 336.88A48.98 48.98 0 0 1 183.95 349.39L181.93 348.67A46.83 46.83 0 0 0 184.48 336.71Z" fill="#faeaea"/>
<path d="M184.48 336.71A46.83 46.83 0 0 1 181.93 348.67L179.91 347.96A44.68 44.68 0 0 0 182.34 336.54Z" fill="#fae9e9"/>
<path d="M182.34 336.54A44.68 44.68 0 0 1 179.91 347.96L177.88 347.24A42.54 42.54 0 0 0 180.2 336.37Z" fill="#fefbfb"/>
<path d="M180.2 336.37A42.54 42.54 0 0 1 177.88 347.24L175.86 346.52A40.39 40.39 0 0 0 178.06 336.2Z" fill="#f8fafb"/>
<path d="M178.06 336.2A40.39 40.39 0 0 1 175.86 346.52L173.84 345.8A38.24 38.24 0 0 0 175.92 336.03Z" fill="#cddae2"/>
<path d="M175.92 336.03A38.24 38.24 0 0 1 173.84 345.8L171.81 345.08A36.09 36.09 0 0 0 173.78 335.86Z" fill="#fdf7f7"/>
<path d="M173.78 335.86A36.09 36.09 0 0 1 171.81 345.08L169.79 344.36A33.95 33.95 0 0 0 171.64 335.69Z" fill="#f4f7f9"/>
<path d="M171.64 335.69A33.95 33.95 0 0 1 169.79 344.36L167.77 343.64A31.8 31.8 0 0 0 169.5 335.52Z" fill="#fdf7f7"/>
<path d="M206.21 357.3A72.6 72.6 0 0 1 197.59 374.19L195.82 372.97A70.45 70.45 0 0 0 204.19 356.58Z" fill="#fefbfb"/>
<path d="M204.19 356.58A70.45 70.45 0 0 1 195.82 372.97L194.05 371.75A68.31 68.31 0 0 0 202.17 355.86Z" fill="#f1c1c0"/>
<path d="M202.17 355.86A68.31 68.31 0 0 1 194.05 371.75L192.28 370.53A66.16 66.16 0 0 0 200.14 355.14Z" fill="#faebeb"/>
<path d="M200.14 355.14A66.16 66.16 0 0 1 192.28 370.53L190.51 369.31A64.01 64.01 0 0 0 198.12 354.42Z" fill="#e5908f"/>
<path d="M198.12 354.42A64.01 64.01 0 0 1 190.51 369.31L188.74 368.1A61.86 61.86 0 0 0 196.1 353.71Z" fill="#f6d6d6"/>
<path d="M196.1 353.71A61.86 61.86 0 0 1 188.74 368.1L186.98 366.88A59.72 59.72 0 0 0 194.07 352.99Z" fill="#f8dfdf"/>
<path d="M194.07 352.99A59.72 59.72 0 0 1 186.98 366.88L185.21 365.66A57.57 57.57 0 0 0 192.05 352.27Z" fill="#e79695"/>
<path d="M192.05 352.27A57.57 57.57 0 0 1 185.21 365.66L183.44 364.44A55.42 55.42 0 0 0 190.02 351.55Z" fill="#fefbfb"/>
<path d="M190.02 351.55A55.42 55.42 0 0 1 183.44 364.44L181.67 363.22A53.27 53.27 0 0 0 188 350.83Z" fill="#eaa5a4"/>
<path d="M188 350.83A53.27 53.27 0 0 1 181.67 363.22L179.9 362.01A51.13 51.13 0 0 0 185.98 350.11Z" fill="#f2c7c6"/>
<path d="M185.98 350.11A51.13 51.13 0 0 1 179.9 362.01L178.13 360.79A48.98 48.98 0 0 0 183.95 349.39Z" fill="#efbcbb"/>
<path d="M183.95 349.39A48.98 48.98 0 0 1 178.13 360.79L176.37 359.57A46.83 46.83 0 0 0 181.93 348.67Z" fill="#f0bebd"/>
<path d="M181.93 348.67A46.83 46.83 0 0 1 176.37 359.57L174.6 358.35A44.68 44.68 0 0 0 179.91 347.96Z" fill="#fbeeee"/>
<path d="M179.91 347.96A44.68 44.68 0 0 1 174.6 358.35L172.83 357.13A42.54 42.54 0 0 0 177.88 347.24Z" fill="#dde6ec"/>
<path d="M177.88 347.24A42.54 42.54 0 0 1 172.83 357.13L171.06 355.91A40.39 40.39 0 0 0 175.86 346.52Z" fill="#8aa9bd"/>
<path d="M175.86 346.52A40.39 40.39 0 0 1 171.06 355.91L169.29 354.7A38.24 38.24 0 0 0 173.84 345.8Z" fill="#fdf6f6"/>
<path d="M173.84 345.8A38.24 38.24 0 0 1 169.29 354.7L167.52 353.48A36.09 36.09 0 0 0 171.81 345.08Z" fill="#fefafa"/>
<path d="M171.81 345.08A36.09 36.09 0 0 1 167.52 353.48L165.76 352.26A33.95 33.95 0 0 0 169.79 344.36Z" fill="#ebf0f4"/>
<path d="M169.79 344.36A33.95 33.95 0 0 1 165.76 352.26L163.99 351.04A31.8 31.8 0 0 0 167.77 343.64Z" fill="#d1dde5"/>
<path d="M197.59 374.19A72.6 72.6 0 0 1 184.88 388.27L183.49 386.63A70.45 70.45 0 0 0 195.82 372.97Z" fill="#d6e1e8"/>
<path d="M195.82 372.97A70.45 70.45 0 0 1 183.49 386.63L182.09 385A68.31 68.31 0 0 0 194.05 371.75Z" fill="#f9e7e6"/>
<path d="M194.05 371.75A68.31 68.31 0 0 1 182.09 385L180.7 383.36A66.16 66.16 0 0 0 192.28 370.53Z" fill="#f4cece"/>
<path d="M192.28 370.53A66.16 66.16 0 0 1 180.7 383.36L179.31 381.73A64.01 64.01 0 0 0 190.51 369.31Z" fill="#e48a89"/>
<path d="M190.51 369.31A64.01 64.01 0 0 1 179.31 381.73L177.92 380.09A61.86 61.86 0 0 0 188.74 368.1Z" fill="#e79695"/>
<path d="M188.74 368.1A61.86 61.86 0 0 1 177.92 380.09L176.52 378.46A59.72 59.72 0 0 0 186.98 366.88Z" fill="#f6d8d7"/>
<path d="M186.98 366.88A59.72 59.72 0 0 1 176.52 378.46L175.13 376.82A57.57 57.57 0 0 0 185.21 365.66Z" fill="#e9a2a1"/>
<path d="M185.21 365.66A57.57 57.57 0 0 1 175.13 376.82L173.74 375.19A55.42 55.42 0 0 0 183.44 364.44Z" fill="#fefbfb"/>
<path d="M183.44 364.44A55.42 55.42 0 0 1 173.74 375.19L172.35 373.55A53.27 53.27 0 0 0 181.67 363.22Z" fill="#e89c9b"/>
<path d="M181.67 363.22A53.27 53.27 0 0 1 172.35 373.55L170.95 371.92A51.13 51.13 0 0 0 179.9 362.01Z" fill="#fbefee"/>
<path d="M179.9 362.01A51.13 51.13 0 0 1 170.95 371.92L169.56 370.28A48.98 48.98 0 0 0 178.13 360.79Z" fill="#f8e1e1"/>
<path d="M178.13 360.79A48.98 48.98 0 0 1 169.56 370.28L168.17 368.65A46.83 46.83 0 0 0 176.37 359.57Z" fill="#fefbfb"/>
<path d="M176.37 359.57A46.83 46.83 0 0 1 168.17 368.65L166.78 367.01A44.68 44.68 0 0 0 174.6 358.35Z" fill="#f5d2d1"/>
<path d="M174.6 358.35A44.68 44.68 0 0 1 166.78 367.01L165.38 365.38A42.54 42.54 0 0 0 172.83 357.13Z" fill="#eaeff3"/>
<path d="M172.83 357.13A42.54 42.54 0 0 1 165.38 365.38L163.99 363.75A40.39 40.39 0 0 0 171.06 355.91Z" fill="#fafbfc"/>
<path d="M171.06 355.91A40.39 40.39 0 0 1 163.99 363.75L162.6 362.11A38.24 38.24 0 0 0 169.29 354.7Z" fill="#e8eef2"/>
<path d="M169.29 354.7A38.24 38.24 0 0 1 162.6 362.11L161.21 360.48A36.09 36.09 0 0 0 167.52 353.48Z" fill="#e8eef2"/>
<path d="M167.52 353.48A36.09 36.09 0 0 1 161.21 360.48L159.81 358.84A33.95 33.95 0 0 0 165.76 352.26Z" fill="#fdf7f7"/>
<path d="M165.76 352.26A33.95 33.95 0 0 1 159.81 358.84L158.42 357.21A31.8 31.8 0 0 0 163.99 351.04Z" fill="#fefafa"/>
<path d="M184.88 388.27A72.6 72.6 0 0 1 168.96 398.57L168.04 396.63A70.45 70.45 0 0 0 183.49 386.63Z" fill="#f9e5e5"/>
<path d="M183.49 386.63A70.45 70.45 0 0 1 168.04 396.63L167.12 394.69A68.31 68.31 0 0 0 182.09 385Z" fill="#eeb5b4"/>
<path d="M182.09 385A68.31 68.31 0 0 1 167.12 394.69L166.2 392.75A66.16 66.16 0 0 0 180.7 383.36Z" fill="#f8e3e2"/>
<path d="M180.7 383.36A66.16 66.16 0 0 1 166.2 392.75L165.27 390.81A64.01 64.01 0 0 0 179.31 381.73Z" fill="#f7dada"/>
<path d="M179.31 381.73A64.01 64.01 0 0 1 165.27 390.81L164.35 388.87A61.86 61.86 0 0 0 177.92 380.09Z" fill="#e89c9b"/>
<path d="M177.92 380.09A61.86 61.86 0 0 1 164.35 388.87L163.43 386.94A59.72 59.72 0 0 0 176.52 378.46Z" fill="#f8e0e0"/>
<path d="M176.52 378.46A59.72 59.72 0 0 1 163.43 386.94L162.51 385A57.57 57.57 0 0 0 175.13 376.82Z" fill="#eba8a7"/>
<path d="M175.13 376.82A57.57 57.57 0 0 1 162.51 385L161.59 383.06A55.42 55.42 0 0 0 173.74 375.19Z" fill="#f3cac9"/>
<path d="M173.74 375.19A55.42 55.42 0 0 1 161.59 383.06L160.67 381.12A53.27 53.27 0 0 0 172.35 373.55Z" fill="#f9e5e5"/>
<path d="M172.35 373.55A53.27 53.27 0 0 1 160.67 381.12L159.74 379.18A51.13 51.13 0 0 0 170.95 371.92Z" fill="#fefbfb"/>
<path d="M170.95 371.92A51.13 51.13 0 0 1 159.74 379.18L158.82 377.24A48.98 48.98 0 0 0 169.56 370.28Z" fill="#fbecec"/>
<path d="M169.56 370.28A48.98 48.98 0 0 1 158.82 377.24L157.9 375.3A46.83 46.83 0 0 0 168.17 368.65Z" fill="#f9e7e7"/>
<path d="M168.17 368.65A46.83 46.83 0 0 1 157.9 375.3L156.98 373.36A44.68 44.68 0 0 0 166.78 367.01Z" fill="#f6dad9"/>
<path d="M166.78 367.01A44.68 44.68 0 0 1 156.98 373.36L156.06 371.42A42.54 42.54 0 0 0 165.38 365.38Z" fill="#f6f9fa"/>
<path d="M165.38 365.38A42.54 42.54 0 0 1 156.06 371.42L155.14 369.48A40.39 40.39 0 0 0 163.99 363.75Z" fill="#fdf8f8"/>
<path d="M163.99 363.75A40.39 40.39 0 0 1 155.14 369.48L154.21 367.54A38.24 38.24 0 0 0 162.6 362.11Z" fill="#fefcfc"/>
<path d="M162.6 362.11A38.24 38.24 0 0 1 154.21 367.54L153.29 365.6A36.09 36.09 0 0 0 161.21 360.48Z" fill="#eff3f6"/>
<path d="M161.21 360.48A36.09 36.09 0 0 1 153.29 365.6L152.37 363.66A33.95 33.95 0 0 0 159.81 358.84Z" fill="#fdf8f8"/>
<path d="M159.81 358.84A33.95 33.95 0 0 1 152.37 363.66L151.45 361.72A31.8 31.8 0 0 0 158.42 357.21Z" fill="#dae4ea"/>
<path d="M168.96 398.57A72.6 72.6 0 0 1 150.92 404.41L150.53 402.29A70.45 70.45 0 0 0 168.04 396.63Z" fill="#fbecec"/>
<path d="M168.04 396.63A70.45 70.45 0 0 1 150.53 402.29L150.14 400.18A68.31 68.31 0 0 0 167.12 394.69Z" fill="#fefbfb"/>
<path d="M167.12 394.69A68.31 68.31 0 0 1 150.14 400.18L149.75 398.07A66.16 66.16 0 0 0 166.2 392.75Z" fill="#faeaea"/>
<path d="M166.2 392.75A66.16 66.16 0 0 1 149.75 398.07L149.37 395.96A64.01 64.01 0 0 0 165.27 390.81Z" fill="#fefbfb"/>
<path d="M165.27 390.81A64.01 64.01 0 0 1 149.37 395.96L148.98 393.85A61.86 61.86 0 0 0 164.35 388.87Z" fill="#f9e4e3"/>
<path d="M164.35 388.87A61.86 61.86 0 0 1 148.98 393.85L148.59 391.73A59.72 59.72 0 0 0 163.43 386.94Z" fill="#faeaea"/>
<path d="M163.43 386.94A59.72 59.72 0 0 1 148.59 391.73L148.2 389.62A57.57 57.57 0 0 0 162.51 385Z" fill="#f8e2e2"/>
<path d="M162.51 385A57.57 57.57 0 0 1 148.2 389.62L147.81 387.51A55.42 55.42 0 0 0 161.59 383.06Z" fill="#fefbfb"/>
<path d="M161.59 383.06A55.42 55.42 0 0 1 147.81 387.51L147.43 385.4A53.27 53.27 0 0 0 160.67 381.12Z" fill="#eaf0f3"/>
<path d="M160.67 381.12A53.27 53.27 0 0 1 147.43 385.4L147.04 383.28A51.13 51.13 0 0 0 159.74 379.18Z" fill="#fae8e7"/>
<path d="M159.74 379.18A51.13 51.13 0 0 1 147.04 383.28L146.65 381.17A48.98 48.98 0 0 0 158.82 377.24Z" fill="#e9eff2"/>
<path d="M158.82 377.24A48.98 48.98 0 0 1 146.65 381.17L146.26 379.06A46.83 46.83 0 0 0 157.9 375.3Z" fill="#f9e5e5"/>
<path d="M157.9 375.3A46.83 46.83 0 0 1 146.26 379.06L145.87 376.95A44.68 44.68 0 0 0 156.98 373.36Z" fill="#fefbfb"/>
<path d="M156.98 373.36A44.68 44.68 0 0 1 145.87 376.95L145.49 374.84A42.54 42.54 0 0 0 156.06 371.42Z" fill="#d8e3e9"/>
<path d="M156.06 371.42A42.54 42.54 0 0 1 145.49 374.84L145.1 372.72A40.39 40.39 0 0 0 155.14 369.48Z" fill="#fdf7f7"/>
<path d="M155.14 369.48A40.39 40.39 0 0 1 145.1 372.72L144.71 370.61A38.24 38.24 0 0 0 154.21 367.54Z" fill="#dfe7ed"/>
<path d="M154.21 367.54A38.24 38.24 0 0 1 144.71 370.61L144.32 368.5A36.09 36.09 0 0 0 153.29 365.6Z" fill="#e5ecf0"/>
<path d="M153.29 365.6A36.09 36.09 0 0 1 144.32 368.5L143.93 366.39A33.95 33.95 0 0 0 152.37 363.66Z" fill="#fafbfc"/>
<path d="M152.37 363.66A33.95 33.95 0 0 1 143.93 366.39L143.55 364.28A31.8 31.8 0 0 0 151.45 361.72Z" fill="#fdf6f6"/>
<path d="M150.92 404.41A72.6 72.6 0 0 1 131.98 405.37L132.15 403.23A70.45 70.45 0 0 0 150.53 402.29Z" fill="#f9e6e5"/>
<path d="M150.53 402.29A70.45 70.45 0 0 1 132.15 403.23L132.32 401.09A68.31 68.31 0 0 0 150.14 400.18Z" fill="#fefbfb"/>
<path d="M150.14 400.18A68.31 68.31 0 0 1 132.32 401.09L132.49 398.94A66.16 66.16 0 0 0 149.75 398.07Z" fill="#f9e4e3"/>
<path d="M149.75 398.07A66.16 66.16 0 0 1 132.49 398.94L132.67 396.8A64.01 64.01 0 0 0 149.37 395.96Z" fill="#ecaeae"/>
<path d="M149.37 395.96A64.01 64.01 0 0 1 132.67 396.8L132.84 394.66A61.86 61.86 0 0 0 148.98 393.85Z" fill="#e89c9b"/>
<path d="M148.98 393.85A61.86 61.86 0 0 1 132.84 394.66L133.01 392.52A59.72 59.72 0 0 0 148.59 391.73Z" fill="#e9a2a1"/>
<path d="M148.59 391.73A59.72 59.72 0 0 1 133.01 392.52L133.18 390.38A57.57 57.57 0 0 0 148.2 389.62Z" fill="#fbefef"/>
<path d="M148.2 389.62A57.57 57.57 0 0 1 133.18 390.38L133.36 388.24A55.42 55.42 0 0 0 147.81 387.51Z" fill="#fefbfb"/>
<path d="M147.81 387.51A55.42 55.42 0 0 1 133.36 388.24L133.53 386.1A53.27 53.27 0 0 0 147.43 385.4Z" fill="#f9e7e7"/>
<path d="M147.43 385.4A53.27 53.27 0 0 1 133.53 386.1L133.7 383.96A51.13 51.13 0 0 0 147.04 383.28Z" fill="#fbeded"/>
<path d="M147.04 383.28A51.13 51.13 0 0 1 133.7 383.96L133.87 381.82A48.98 48.98 0 0 0 146.65 381.17Z" fill="#f3cccc"/>
<path d="M146.65 381.17A48.98 48.98 0 0 1 133.87 381.82L134.04 379.68A46.83 46.83 0 0 0 146.26 379.06Z" fill="#e79695"/>
<path d="M146.26 379.06A46.83 46.83 0 0 1 134.04 379.68L134.22 377.54A44.68 44.68 0 0 0 145.87 376.95Z" fill="#e5908f"/>
<path d="M145.87 376.95A44.68 44.68 0 0 1 134.22 377.54L134.39 375.4A42.54 42.54 0 0 0 145.49 374.84Z" fill="#9eb8c8"/>
<path d="M145.49 374.84A42.54 42.54 0 0 1 134.39 375.4L134.56 373.26A40.39 40.39 0 0 0 145.1 372.72Z" fill="#fdf6f6"/>
<path d="M145.1 372.72A40.39 40.39 0 0 1 134.56 373.26L134.73 371.12A38.24 38.24 0 0 0 144.71 370.61Z" fill="#fdf5f5"/>
<path d="M144.71 370.61A38.24 38.24 0 0 1 134.73 371.12L134.91 368.98A36.09 36.09 0 0 0 144.32 368.5Z" fill="#fefbfb"/>
<path d="M144.32 368.5A36.09 36.09 0 0 1 134.91 368.98L135.08 366.84A33.95 33.95 0 0 0 143.93 366.39Z" fill="#fefdfd"/>
<path d="M143.93 366.39A33.95 33.95 0 0 1 135.08 366.84L135.25 364.7A31.8 31.8 0 0 0 143.55 364.28Z" fill="#84a4b9"/>
<path d="M125.69 404.58A72.6 72.6 0 0 1 107.43 398.94L108.33 396.99A70.45 70.45 0 0 0 126.05 402.47Z" fill="#f5d4d4"/>
<path d="M126.05 402.47A70.45 70.45 0 0 1 108.33 396.99L109.22 395.04A68.31 68.31 0 0 0 126.41 400.35Z" fill="#e2eaef"/>
<path d="M126.41 400.35A68.31 68.31 0 0 1 109.22 395.04L110.12 393.09A66.16 66.16 0 0 0 126.77 398.23Z" fill="#d1dde5"/>
<path d="M126.77 398.23A66.16 66.16 0 0 1 110.12 393.09L111.02 391.14A64.01 64.01 0 0 0 127.13 396.11Z" fill="#bcced9"/>
<path d="M127.13 396.11A64.01 64.01 0 0 1 111.02 391.14L111.92 389.19A61.86 61.86 0 0 0 127.48 394Z" fill="#8aa9bd"/>
<path d="M127.48 394A61.86 61.86 0 0 1 111.92 389.19L112.82 387.24A59.72 59.72 0 0 0 127.84 391.88Z" fill="#c4d3dd"/>
<path d="M127.84 391.88A59.72 59.72 0 0 1 112.82 387.24L113.72 385.29A57.57 57.57 0 0 0 128.2 389.76Z" fill="#dde6ec"/>
<path d="M128.2 389.76A57.57 57.57 0 0 1 113.72 385.29L114.62 383.34A55.42 55.42 0 0 0 128.56 387.64Z" fill="#dde6ec"/>
<path d="M128.56 387.64A55.42 55.42 0 0 1 114.62 383.34L115.51 381.39A53.27 53.27 0 0 0 128.92 385.53Z" fill="#cfdce4"/>
<path d="M128.92 385.53A53.27 53.27 0 0 1 115.51 381.39L116.41 379.44A51.13 51.13 0 0 0 129.27 383.41Z" fill="#91aec0"/>
<path d="M129.27 383.41A51.13 51.13 0 0 1 116.41 379.44L117.31 377.49A48.98 48.98 0 0 0 129.63 381.29Z" fill="#fbfcfd"/>
<path d="M129.63 381.29A48.98 48.98 0 0 1 117.31 377.49L118.21 375.54A46.83 46.83 0 0 0 129.99 379.18Z" fill="#fefbfb"/>
<path d="M129.99 379.18A46.83 46.83 0 0 1 118.21 375.54L119.11 373.59A44.68 44.68 0 0 0 130.35 377.06Z" fill="#fefbfb"/>
<path d="M130.35 377.06A44.68 44.68 0 0 1 119.11 373.59L120.01 371.64A42.54 42.54 0 0 0 130.71 374.94Z" fill="#ffffff"/>
<path d="M130.71 374.94A42.54 42.54 0 0 1 120.01 371.64L120.9 369.69A40.39 40.39 0 0 0 131.06 372.82Z" fill="#ffffff"/>
<path d="M131.06 372.82A40.39 40.39 0 0 1 120.9 369.69L121.8 367.73A38.24 38.24 0 0 0 131.42 370.71Z" fill="#ffffff"/>
<path d="M131.42 370.71A38.24 38.24 0 0 1 121.8 367.73L122.7 365.78A36.09 36.09 0 0 0 131.78 368.59Z" fill="#ffffff"/>
<path d="M131.78 368.59A36.09 36.09 0 0 1 122.7 365.78L123.6 363.83A33.95 33.95 0 0 0 132.14 366.47Z" fill="#ecaeae"/>
<path d="M132.14 366.47A33.95 33.95 0 0 1 123.6 363.83L124.5 361.88A31.8 31.8 0 0 0 132.5 364.35Z" fill="#e9a2a1"/>
<path d="M107.43 398.94A72.6 72.6 0 0 1 91.27 388.73L92.65 387.08A70.45 70.45 0 0 0 108.33 396.99Z" fill="#f5d3d3"/>
<path d="M108.33 396.99A70.45 70.45 0 0 1 92.65 387.08L94.02 385.43A68.31 68.31 0 0 0 109.22 395.04Z" fill="#d3dfe6"/>
<path d="M109.22 395.04A68.31 68.31 0 0 1 94.02 385.43L95.4 383.78A66.16 66.16 0 0 0 110.12 393.09Z" fill="#dbe4eb"/>
<path d="M110.12 393.09A66.16 66.16 0 0 1 95.4 383.78L96.77 382.14A64.01 64.01 0 0 0 111.02 391.14Z" fill="#d8e2e9"/>
<path d="M111.02 391.14A64.01 64.01 0 0 1 96.77 382.14L98.15 380.49A61.86 61.86 0 0 0 111.92 389.19Z" fill="#fae8e8"/>
<path d="M111.92 389.19A61.86 61.86 0 0 1 98.15 380.49L99.53 378.84A59.72 59.72 0 0 0 112.82 387.24Z" fill="#cedbe3"/>
<path d="M112.82 387.24A59.72 59.72 0 0 1 99.53 378.84L100.9 377.19A57.57 57.57 0 0 0 113.72 385.29Z" fill="#d5e0e7"/>
<path d="M113.72 385.29A57.57 57.57 0 0 1 100.9 377.19L102.28 375.54A55.42 55.42 0 0 0 114.62 383.34Z" fill="#f9e4e4"/>
<path d="M114.62 383.34A55.42 55.42 0 0 1 102.28 375.54L103.66 373.89A53.27 53.27 0 0 0 115.51 381.39Z" fill="#dee7ec"/>
<path d="M115.51 381.39A53.27 53.27 0 0 1 103.66 373.89L105.03 372.25A51.13 51.13 0 0 0 116.41 379.44Z" fill="#fefbfb"/>
<path d="M116.41 379.44A51.13 51.13 0 0 1 105.03 372.25L106.41 370.6A48.98 48.98 0 0 0 117.31 377.49Z" fill="#fefbfb"/>
<path d="M117.31 377.49A48.98 48.98 0 0 1 106.41 370.6L107.78 368.95A46.83 46.83 0 0 0 118.21 375.54Z" fill="#91aec0"/>
<path d="M118.21 375.54A46.83 46.83 0 0 1 107.78 368.95L109.16 367.3A44.68 44.68 0 0 0 119.11 373.59Z" fill="#e6edf1"/>
<path d="M119.11 373.59A44.68 44.68 0 0 1 109.16 367.3L110.54 365.65A42.54 42.54 0 0 0 120.01 371.64Z" fill="#fcf3f3"/>
<path d="M120.01 371.64A42.54 42.54 0 0 1 110.54 365.65L111.91 364A40.39 40.39 0 0 0 120.9 369.69Z" fill="#ffffff"/>
<path d="M120.9 369.69A40.39 40.39 0 0 1 111.91 364L113.29 362.36A38.24 38.24 0 0 0 121.8 367.73Z" fill="#a5bdcc"/>
<path d="M121.8 367.73A38.24 38.24 0 0 1 113.29 362.36L114.67 360.71A36.09 36.09 0 0 0 122.7 365.78Z" fill="#fdf7f7"/>
<path d="M122.7 365.78A36.09 36.09 0 0 1 114.67 360.71L116.04 359.06A33.95 33.95 0 0 0 123.6 363.83Z" fill="#ffffff"/>
<path d="M123.6 363.83A33.95 33.95 0 0 1 116.04 359.06L117.42 357.41A31.8 31.8 0 0 0 124.5 361.88Z" fill="#f8e1e0"/>
<path d="M91.27 388.73A72.6 72.6 0 0 1 78.34 374.65L80.1 373.42A70.45 70.45 0 0 0 92.65 387.08Z" fill="#f4d1d1"/>
<path d="M92.65 387.08A70.45 70.45 0 0 1 80.1 373.42L81.85 372.19A68.31 68.31 0 0 0 94.02 385.43Z" fill="#cedbe3"/>
<path d="M94.02 385.43A68.31 68.31 0 0 1 81.85 372.19L83.61 370.96A66.16 66.16 0 0 0 95.4 383.78Z" fill="#cddae3"/>
<path d="M95.4 383.78A66.16 66.16 0 0 1 83.61 370.96L85.37 369.72A64.01 64.01 0 0 0 96.77 382.14Z" fill="#90aec0"/>
<path d="M96.77 382.14A64.01 64.01 0 0 1 85.37 369.72L87.13 368.49A61.86 61.86 0 0 0 98.15 380.49Z" fill="#91aec0"/>
<path d="M98.15 380.49A61.86 61.86 0 0 1 87.13 368.49L88.89 367.26A59.72 59.72 0 0 0 99.53 378.84Z" fill="#e0e8ed"/>
<path d="M99.53 378.84A59.72 59.72 0 0 1 88.89 367.26L90.65 366.03A57.57 57.57 0 0 0 100.9 377.19Z" fill="#b7cad6"/>
<path d="M100.9 377.19A57.57 57.57 0 0 1 90.65 366.03L92.41 364.8A55.42 55.42 0 0 0 102.28 375.54Z" fill="#d9e3e9"/>
<path d="M102.28 375.54A55.42 55.42 0 0 1 92.41 364.8L94.17 363.56A53.27 53.27 0 0 0 103.66 373.89Z" fill="#dee7ec"/>
<path d="M103.66 373.89A53.27 53.27 0 0 1 94.17 363.56L95.92 362.33A51.13 51.13 0 0 0 105.03 372.25Z" fill="#9eb8c8"/>
<path d="M105.03 372.25A51.13 51.13 0 0 1 95.92 362.33L97.68 361.1A48.98 48.98 0 0 0 106.41 370.6Z" fill="#fefbfb"/>
<path d="M106.41 370.6A48.98 48.98 0 0 1 97.68 361.1L99.44 359.87A46.83 46.83 0 0 0 107.78 368.95Z" fill="#fefbfb"/>
<path d="M107.78 368.95A46.83 46.83 0 0 1 99.44 359.87L101.2 358.64A44.68 44.68 0 0 0 109.16 367.3Z" fill="#e9eff2"/>
<path d="M109.16 367.3A44.68 44.68 0 0 1 101.2 358.64L102.96 357.4A42.54 42.54 0 0 0 110.54 365.65Z" fill="#fae8e8"/>
<path d="M110.54 365.65A42.54 42.54 0 0 1 102.96 357.4L104.72 356.17A40.39 40.39 0 0 0 111.91 364Z" fill="#ffffff"/>
<path d="M111.91 364A40.39 40.39 0 0 1 104.72 356.17L106.48 354.94A38.24 38.24 0 0 0 113.29 362.36Z" fill="#fae7e7"/>
<path d="M113.29 362.36A38.24 38.24 0 0 1 106.48 354.94L108.24 353.71A36.09 36.09 0 0 0 114.67 360.71Z" fill="#f7dcdb"/>
<path d="M114.67 360.71A36.09 36.09 0 0 1 108.24 353.71L110 352.48A33.95 33.95 0 0 0 116.04 359.06Z" fill="#ffffff"/>
<path d="M116.04 359.06A33.95 33.95 0 0 1 110 352.48L111.75 351.24A31.8 31.8 0 0 0 117.42 357.41Z" fill="#f7dcdb"/>
<path d="M78.34 374.65A72.6 72.6 0 0 1 69.53 357.69L71.55 356.96A70.45 70.45 0 0 0 80.1 373.42Z" fill="#f7dbda"/>
<path d="M80.1 373.42A70.45 70.45 0 0 1 71.55 356.96L73.57 356.23A68.31 68.31 0 0 0 81.85 372.19Z" fill="#8aa9bd"/>
<path d="M81.85 372.19A68.31 68.31 0 0 1 73.57 356.23L75.58 355.5A66.16 66.16 0 0 0 83.61 370.96Z" fill="#e3ebef"/>
<path d="M83.61 370.96A66.16 66.16 0 0 1 75.58 355.5L77.6 354.77A64.01 64.01 0 0 0 85.37 369.72Z" fill="#98b3c4"/>
<path d="M85.37 369.72A64.01 64.01 0 0 1 77.6 354.77L79.62 354.04A61.86 61.86 0 0 0 87.13 368.49Z" fill="#c6d5df"/>
<path d="M87.13 368.49A61.86 61.86 0 0 1 79.62 354.04L81.64 353.31A59.72 59.72 0 0 0 88.89 367.26Z" fill="#d9e3e9"/>
<path d="M88.89 367.26A59.72 59.72 0 0 1 81.64 353.31L83.66 352.58A57.57 57.57 0 0 0 90.65 366.03Z" fill="#baccd8"/>
<path d="M90.65 366.03A57.57 57.57 0 0 1 83.66 352.58L85.68 351.85A55.42 55.42 0 0 0 92.41 364.8Z" fill="#d7e1e8"/>
<path d="M92.41 364.8A55.42 55.42 0 0 1 85.68 351.85L87.7 351.12A53.27 53.27 0 0 0 94.17 363.56Z" fill="#b1c5d3"/>
<path d="M94.17 363.56A53.27 53.27 0 0 1 87.7 351.12L89.72 350.39A51.13 51.13 0 0 0 95.92 362.33Z" fill="#fefbfb"/>
<path d="M95.92 362.33A51.13 51.13 0 0 1 89.72 350.39L91.74 349.66A48.98 48.98 0 0 0 97.68 361.1Z" fill="#fefbfb"/>
<path d="M97.68 361.1A48.98 48.98 0 0 1 91.74 349.66L93.76 348.93A46.83 46.83 0 0 0 99.44 359.87Z" fill="#fefbfb"/>
<path d="M99.44 359.87A46.83 46.83 0 0 1 93.76 348.93L95.78 348.19A44.68 44.68 0 0 0 101.2 358.64Z" fill="#fefbfb"/>
<path d="M101.2 358.64A44.68 44.68 0 0 1 95.78 348.19L97.8 347.46A42.54 42.54 0 0 0 102.96 357.4Z" fill="#fefafa"/>
<path d="M102.96 357.4A42.54 42.54 0 0 1 97.8 347.46L99.82 346.73A40.39 40.39 0 0 0 104.72 356.17Z" fill="#ffffff"/>
<path d="M104.72 356.17A40.39 40.39 0 0 1 99.82 346.73L101.84 346A38.24 38.24 0 0 0 106.48 354.94Z" fill="#f8e3e2"/>
<path d="M106.48 354.94A38.24 38.24 0 0 1 101.84 346L103.86 345.27A36.09 36.09 0 0 0 108.24 353.71Z" fill="#ffffff"/>
<path d="M108.24 353.71A36.09 36.09 0 0 1 103.86 345.27L105.88 344.54A33.95 33.95 0 0 0 110 352.48Z" fill="#ffffff"/>
<path d="M110 352.48A33.95 33.95 0 0 1 105.88 344.54L107.9 343.81A31.8 31.8 0 0 0 111.75 351.24Z" fill="#f9e4e4"/>
<path d="M69.53 357.69A72.6 72.6 0 0 1 65.45 339.01L67.59 338.83A70.45 70.45 0 0 0 71.55 356.96Z" fill="#f6d7d6"/>
<path d="M71.55 356.96A70.45 70.45 0 0 1 67.59 338.83L69.73 338.66A68.31 68.31 0 0 0 73.57 356.23Z" fill="#dfe8ed"/>
<path d="M73.57 356.23A68.31 68.31 0 0 1 69.73 338.66L71.87 338.48A66.16 66.16 0 0 0 75.58 355.5Z" fill="#ccdae2"/>
<path d="M75.58 355.5A66.16 66.16 0 0 1 71.87 338.48L74.01 338.3A64.01 64.01 0 0 0 77.6 354.77Z" fill="#e79695"/>
<path d="M77.6 354.77A64.01 64.01 0 0 1 74.01 338.3L76.15 338.12A61.86 61.86 0 0 0 79.62 354.04Z" fill="#bcced9"/>
<path d="M79.62 354.04A61.86 61.86 0 0 1 76.15 338.12L78.29 337.94A59.72 59.72 0 0 0 81.64 353.31Z" fill="#d8e2e9"/>
<path d="M81.64 353.31A59.72 59.72 0 0 1 78.29 337.94L80.43 337.77A57.57 57.57 0 0 0 83.66 352.58Z" fill="#f8e3e2"/>
<path d="M83.66 352.58A57.57 57.57 0 0 1 80.43 337.77L82.57 337.59A55.42 55.42 0 0 0 85.68 351.85Z" fill="#cedbe3"/>
<path d="M85.68 351.85A55.42 55.42 0 0 1 82.57 337.59L84.71 337.41A53.27 53.27 0 0 0 87.7 351.12Z" fill="#d1dde5"/>
<path d="M87.7 351.12A53.27 53.27 0 0 1 84.71 337.41L86.85 337.23A51.13 51.13 0 0 0 89.72 350.39Z" fill="#fefbfb"/>
<path d="M89.72 350.39A51.13 51.13 0 0 1 86.85 337.23L88.99 337.06A48.98 48.98 0 0 0 91.74 349.66Z" fill="#fefbfb"/>
<path d="M91.74 349.66A48.98 48.98 0 0 1 88.99 337.06L91.13 336.88A46.83 46.83 0 0 0 93.76 348.93Z" fill="#98b3c4"/>
<path d="M93.76 348.93A46.83 46.83 0 0 1 91.13 336.88L93.27 336.7A44.68 44.68 0 0 0 95.78 348.19Z" fill="#fbfcfd"/>
<path d="M95.78 348.19A44.68 44.68 0 0 1 93.27 336.7L95.41 336.52A42.54 42.54 0 0 0 97.8 347.46Z" fill="#fcf1f0"/>
<path d="M97.8 347.46A42.54 42.54 0 0 1 95.41 336.52L97.55 336.34A40.39 40.39 0 0 0 99.82 346.73Z" fill="#fefafa"/>
<path d="M99.82 346.73A40.39 40.39 0 0 1 97.55 336.34L99.69 336.17A38.24 38.24 0 0 0 101.84 346Z" fill="#ffffff"/>
<path d="M101.84 346A38.24 38.24 0 0 1 99.69 336.17L101.83 335.99A36.09 36.09 0 0 0 103.86 345.27Z" fill="#fefbfb"/>
<path d="M103.86 345.27A36.09 36.09 0 0 1 101.83 335.99L103.97 335.81A33.95 33.95 0 0 0 105.88 344.54Z" fill="#eba8a7"/>
<path d="M105.88 344.54A33.95 33.95 0 0 1 103.97 335.81L106.11 335.63A31.8 31.8 0 0 0 107.9 343.81Z" fill="#ffffff"/>
<path d="M65.45 339.01A72.6 72.6 0 0 1 66.39 319.92L68.5 320.31A70.45 70.45 0 0 0 67.59 338.83Z" fill="#f6d9d9"/>
<path d="M67.59 338.83A70.45 70.45 0 0 1 68.5 320.31L70.61 320.69A68.31 68.31 0 0 0 69.73 338.66Z" fill="#dee7ec"/>
<path d="M69.73 338.66A68.31 68.31 0 0 1 70.61 320.69L72.72 321.08A66.16 66.16 0 0 0 71.87 338.48Z" fill="#e0e8ed"/>
<path d="M71.87 338.48A66.16 66.16 0 0 1 72.72 321.08L74.84 321.47A64.01 64.01 0 0 0 74.01 338.3Z" fill="#a0b9c9"/>
<path d="M74.01 338.3A64.01 64.01 0 0 1 74.84 321.47L76.95 321.85A61.86 61.86 0 0 0 76.15 338.12Z" fill="#dee7ec"/>
<path d="M76.15 338.12A61.86 61.86 0 0 1 76.95 321.85L79.06 322.24A59.72 59.72 0 0 0 78.29 337.94Z" fill="#cfdce4"/>
<path d="M78.29 337.94A59.72 59.72 0 0 1 79.06 322.24L81.17 322.63A57.57 57.57 0 0 0 80.43 337.77Z" fill="#f5d4d3"/>
<path d="M80.43 337.77A57.57 57.57 0 0 1 81.17 322.63L83.29 323.01A55.42 55.42 0 0 0 82.57 337.59Z" fill="#dee7ec"/>
<path d="M82.57 337.59A55.42 55.42 0 0 1 83.29 323.01L85.4 323.4A53.27 53.27 0 0 0 84.71 337.41Z" fill="#d2dee5"/>
<path d="M84.71 337.41A53.27 53.27 0 0 1 85.4 323.4L87.51 323.79A51.13 51.13 0 0 0 86.85 337.23Z" fill="#c0d0db"/>
<path d="M86.85 337.23A51.13 51.13 0 0 1 87.51 323.79L89.62 324.18A48.98 48.98 0 0 0 88.99 337.06Z" fill="#fefbfb"/>
<path d="M88.99 337.06A48.98 48.98 0 0 1 89.62 324.18L91.73 324.56A46.83 46.83 0 0 0 91.13 336.88Z" fill="#fefbfb"/>
<path d="M91.13 336.88A46.83 46.83 0 0 1 91.73 324.56L93.85 324.95A44.68 44.68 0 0 0 93.27 336.7Z" fill="#d1dde5"/>
<path d="M93.27 336.7A44.68 44.68 0 0 1 93.85 324.95L95.96 325.34A42.54 42.54 0 0 0 95.41 336.52Z" fill="#f8e2e1"/>
<path d="M95.41 336.52A42.54 42.54 0 0 1 95.96 325.34L98.07 325.72A40.39 40.39 0 0 0 97.55 336.34Z" fill="#eba8a7"/>
<path d="M97.55 336.34A40.39 40.39 0 0 1 98.07 325.72L100.18 326.11A38.24 38.24 0 0 0 99.69 336.17Z" fill="#f7dcdc"/>
<path d="M99.69 336.17A38.24 38.24 0 0 1 100.18 326.11L102.3 326.5A36.09 36.09 0 0 0 101.83 335.99Z" fill="#ffffff"/>
<path d="M101.83 335.99A36.09 36.09 0 0 1 102.3 326.5L104.41 326.88A33.95 33.95 0 0 0 103.97 335.81Z" fill="#ffffff"/>
<path d="M103.97 335.81A33.95 33.95 0 0 1 104.41 326.88L106.52 327.27A31.8 31.8 0 0 0 106.11 335.63Z" fill="#f8e2e2"/>
<path d="M66.39 319.92A72.6 72.6 0 0 1 72.28 301.73L74.22 302.66A70.45 70.45 0 0 0 68.5 320.31Z" fill="#f9e6e6"/>
<path d="M68.5 320.31A70.45 70.45 0 0 1 74.22 302.66L76.15 303.58A68.31 68.31 0 0 0 70.61 320.69Z" fill="#acc2d0"/>
<path d="M70.61 320.69A68.31 68.31 0 0 1 76.15 303.58L78.09 304.51A66.16 66.16 0 0 0 72.72 321.08Z" fill="#dbe5eb"/>
<path d="M72.72 321.08A66.16 66.16 0 0 1 78.09 304.51L80.03 305.43A64.01 64.01 0 0 0 74.84 321.47Z" fill="#a8bfce"/>
<path d="M74.84 321.47A64.01 64.01 0 0 1 80.03 305.43L81.97 306.36A61.86 61.86 0 0 0 76.95 321.85Z" fill="#f6d7d6"/>
<path d="M76.95 321.85A61.86 61.86 0 0 1 81.97 306.36L83.91 307.28A59.72 59.72 0 0 0 79.06 322.24Z" fill="#d8e2e9"/>
<path d="M79.06 322.24A59.72 59.72 0 0 1 83.91 307.28L85.84 308.21A57.57 57.57 0 0 0 81.17 322.63Z" fill="#dce5eb"/>
<path d="M81.17 322.63A57.57 57.57 0 0 1 85.84 308.21L87.78 309.13A55.42 55.42 0 0 0 83.29 323.01Z" fill="#d4e0e7"/>
<path d="M83.29 323.01A55.42 55.42 0 0 1 87.78 309.13L89.72 310.06A53.27 53.27 0 0 0 85.4 323.4Z" fill="#d9e3ea"/>
<path d="M85.4 323.4A53.27 53.27 0 0 1 89.72 310.06L91.66 310.98A51.13 51.13 0 0 0 87.51 323.79Z" fill="#fefbfb"/>
<path d="M87.51 323.79A51.13 51.13 0 0 1 91.66 310.98L93.6 311.91A48.98 48.98 0 0 0 89.62 324.18Z" fill="#dae4ea"/>
<path d="M89.62 324.18A48.98 48.98 0 0 1 93.6 311.91L95.53 312.83A46.83 46.83 0 0 0 91.73 324.56Z" fill="#fefbfb"/>
<path d="M91.73 324.56A46.83 46.83 0 0 1 95.53 312.83L97.47 313.76A44.68 44.68 0 0 0 93.85 324.95Z" fill="#d6e1e8"/>
<path d="M93.85 324.95A44.68 44.68 0 0 1 97.47 313.76L99.41 314.68A42.54 42.54 0 0 0 95.96 325.34Z" fill="#e9a2a1"/>
<path d="M95.96 325.34A42.54 42.54 0 0 1 99.41 314.68L101.35 315.61A40.39 40.39 0 0 0 98.07 325.72Z" fill="#ffffff"/>
<path d="M98.07 325.72A40.39 40.39 0 0 1 101.35 315.61L103.29 316.53A38.24 38.24 0 0 0 100.18 326.11Z" fill="#f6d8d8"/>
<path d="M100.18 326.11A38.24 38.24 0 0 1 103.29 316.53L105.22 317.46A36.09 36.09 0 0 0 102.3 326.5Z" fill="#ffffff"/>
<path d="M102.3 326.5A36.09 36.09 0 0 1 105.22 317.46L107.16 318.38A33.95 33.95 0 0 0 104.41 326.88Z" fill="#ffffff"/>
<path d="M104.41 326.88A33.95 33.95 0 0 1 107.16 318.38L109.1 319.3A31.8 31.8 0 0 0 106.52 327.27Z" fill="#f0bfbe"/>
<path d="M72.28 301.73A72.6 72.6 0 0 1 82.71 285.72L84.34 287.11A70.45 70.45 0 0 0 74.22 302.66Z" fill="#f5d5d4"/>
<path d="M74.22 302.66A70.45 70.45 0 0 1 84.34 287.11L85.97 288.51A68.31 68.31 0 0 0 76.15 303.58Z" fill="#9ab5c5"/>
<path d="M76.15 303.58A68.31 68.31 0 0 1 85.97 288.51L87.6 289.91A66.16 66.16 0 0 0 78.09 304.51Z" fill="#dbe4ea"/>
<path d="M78.09 304.51A66.16 66.16 0 0 1 87.6 289.91L89.23 291.31A64.01 64.01 0 0 0 80.03 305.43Z" fill="#98b3c4"/>
<path d="M80.03 305.43A64.01 64.01 0 0 1 89.23 291.31L90.86 292.71A61.86 61.86 0 0 0 81.97 306.36Z" fill="#d5e0e7"/>
<path d="M81.97 306.36A61.86 61.86 0 0 1 90.86 292.71L92.49 294.11A59.72 59.72 0 0 0 83.91 307.28Z" fill="#cddae3"/>
<path d="M83.91 307.28A59.72 59.72 0 0 1 92.49 294.11L94.12 295.51A57.57 57.57 0 0 0 85.84 308.21Z" fill="#bdcfda"/>
<path d="M85.84 308.21A57.57 57.57 0 0 1 94.12 295.51L95.75 296.9A55.42 55.42 0 0 0 87.78 309.13Z" fill="#b6cad6"/>
<path d="M87.78 309.13A55.42 55.42 0 0 1 95.75 296.9L97.38 298.3A53.27 53.27 0 0 0 89.72 310.06Z" fill="#aac1cf"/>
<path d="M89.72 310.06A53.27 53.27 0 0 1 97.38 298.3L99 299.7A51.13 51.13 0 0 0 91.66 310.98Z" fill="#f9fafb"/>
<path d="M91.66 310.98A51.13 51.13 0 0 1 99 299.7L100.63 301.1A48.98 48.98 0 0 0 93.6 311.91Z" fill="#dfe7ed"/>
<path d="M93.6 311.91A48.98 48.98 0 0 1 100.63 301.1L102.26 302.5A46.83 46.83 0 0 0 95.53 312.83Z" fill="#d4e0e7"/>
<path d="M95.53 312.83A46.83 46.83 0 0 1 102.26 302.5L103.89 303.9A44.68 44.68 0 0 0 97.47 313.76Z" fill="#fefbfb"/>
<path d="M97.47 313.76A44.68 44.68 0 0 1 103.89 303.9L105.52 305.3A42.54 42.54 0 0 0 99.41 314.68Z" fill="#e89c9b"/>
<path d="M99.41 314.68A42.54 42.54 0 0 1 105.52 305.3L107.15 306.69A40.39 40.39 0 0 0 101.35 315.61Z" fill="#ffffff"/>
<path d="M101.35 315.61A40.39 40.39 0 0 1 107.15 306.69L108.78 308.09A38.24 38.24 0 0 0 103.29 316.53Z" fill="#ffffff"/>
<path d="M103.29 316.53A38.24 38.24 0 0 1 108.78 308.09L110.41 309.49A36.09 36.09 0 0 0 105.22 317.46Z" fill="#ffffff"/>
<path d="M105.22 317.46A36.09 36.09 0 0 1 110.41 309.49L112.04 310.89A33.95 33.95 0 0 0 107.16 318.38Z" fill="#f8e1e1"/>
<path d="M107.16 318.38A33.95 33.95 0 0 1 112.04 310.89L113.67 312.29A31.8 31.8 0 0 0 109.1 319.3Z" fill="#fefafa"/>
<path d="M82.71 285.72A72.6 72.6 0 0 1 96.96 272.98L98.17 274.75A70.45 70.45 0 0 0 84.34 287.11Z" fill="#dfe7ed"/>
<path d="M84.34 287.11A70.45 70.45 0 0 1 98.17 274.75L99.38 276.53A68.31 68.31 0 0 0 85.97 288.51Z" fill="#a5bdcc"/>
<path d="M85.97 288.51A68.31 68.31 0 0 1 99.38 276.53L100.59 278.3A66.16 66.16 0 0 0 87.6 289.91Z" fill="#e2eaef"/>
<path d="M87.6 289.91A66.16 66.16 0 0 1 100.59 278.3L101.79 280.08A64.01 64.01 0 0 0 89.23 291.31Z" fill="#84a4b9"/>
<path d="M89.23 291.31A64.01 64.01 0 0 1 101.79 280.08L103 281.85A61.86 61.86 0 0 0 90.86 292.71Z" fill="#d5e0e7"/>
<path d="M90.86 292.71A61.86 61.86 0 0 1 103 281.85L104.21 283.63A59.72 59.72 0 0 0 92.49 294.11Z" fill="#d0dce4"/>
<path d="M92.49 294.11A59.72 59.72 0 0 1 104.21 283.63L105.42 285.4A57.57 57.57 0 0 0 94.12 295.51Z" fill="#9eb8c8"/>
<path d="M94.12 295.51A57.57 57.57 0 0 1 105.42 285.4L106.62 287.18A55.42 55.42 0 0 0 95.75 296.9Z" fill="#bfd0db"/>
<path d="M95.75 296.9A55.42 55.42 0 0 1 106.62 287.18L107.83 288.95A53.27 53.27 0 0 0 97.38 298.3Z" fill="#cedbe3"/>
<path d="M97.38 298.3A53.27 53.27 0 0 1 107.83 288.95L109.04 290.73A51.13 51.13 0 0 0 99 299.7Z" fill="#fbf0ef"/>
<path d="M99 299.7A51.13 51.13 0 0 1 109.04 290.73L110.25 292.5A48.98 48.98 0 0 0 100.63 301.1Z" fill="#eef2f5"/>
<path d="M100.63 301.1A48.98 48.98 0 0 1 110.25 292.5L111.46 294.28A46.83 46.83 0 0 0 102.26 302.5Z" fill="#bbcdd9"/>
<path d="M102.26 302.5A46.83 46.83 0 0 1 111.46 294.28L112.66 296.06A44.68 44.68 0 0 0 103.89 303.9Z" fill="#f2f5f8"/>
<path d="M103.89 303.9A44.68 44.68 0 0 1 112.66 296.06L113.87 297.83A42.54 42.54 0 0 0 105.52 305.3Z" fill="#ffffff"/>
<path d="M105.52 305.3A42.54 42.54 0 0 1 113.87 297.83L115.08 299.61A40.39 40.39 0 0 0 107.15 306.69Z" fill="#fae9e9"/>
<path d="M107.15 306.69A40.39 40.39 0 0 1 115.08 299.61L116.29 301.38A38.24 38.24 0 0 0 108.78 308.09Z" fill="#ffffff"/>
<path d="M108.78 308.09A38.24 38.24 0 0 1 116.29 301.38L117.5 303.16A36.09 36.09 0 0 0 110.41 309.49Z" fill="#ffffff"/>
<path d="M110.41 309.49A36.09 36.09 0 0 1 117.5 303.16L118.7 304.93A33.95 33.95 0 0 0 112.04 310.89Z" fill="#ffffff"/>
<path d="M112.04 310.89A33.95 33.95 0 0 1 118.7 304.93L119.91 306.71A31.8 31.8 0 0 0 113.67 312.29Z" fill="#fcf2f2"/>
<path d="M96.96 272.98A72.6 72.6 0 0 1 114.04 264.4L114.75 266.43A70.45 70.45 0 0 0 98.17 274.75Z" fill="#f9e3e3"/>
<path d="M98.17 274.75A70.45 70.45 0 0 1 114.75 266.43L115.45 268.46A68.31 68.31 0 0 0 99.38 276.53Z" fill="#6a91aa"/>
<path d="M99.38 276.53A68.31 68.31 0 0 1 115.45 268.46L116.15 270.48A66.16 66.16 0 0 0 100.59 278.3Z" fill="#7297af"/>
<path d="M100.59 278.3A66.16 66.16 0 0 1 116.15 270.48L116.85 272.51A64.01 64.01 0 0 0 101.79 280.08Z" fill="#e6ecf1"/>
<path d="M101.79 280.08A64.01 64.01 0 0 1 116.85 272.51L117.56 274.54A61.86 61.86 0 0 0 103 281.85Z" fill="#a4bccb"/>
<path d="M103 281.85A61.86 61.86 0 0 1 117.56 274.54L118.26 276.57A59.72 59.72 0 0 0 104.21 283.63Z" fill="#a4bccb"/>
<path d="M104.21 283.63A59.72 59.72 0 0 1 118.26 276.57L118.96 278.6A57.57 57.57 0 0 0 105.42 285.4Z" fill="#d1dde5"/>
<path d="M105.42 285.4A57.57 57.57 0 0 1 118.96 278.6L119.67 280.63A55.42 55.42 0 0 0 106.62 287.18Z" fill="#fbeded"/>
<path d="M106.62 287.18A55.42 55.42 0 0 1 119.67 280.63L120.37 282.66A53.27 53.27 0 0 0 107.83 288.95Z" fill="#a4bccb"/>
<path d="M107.83 288.95A53.27 53.27 0 0 1 120.37 282.66L121.07 284.69A51.13 51.13 0 0 0 109.04 290.73Z" fill="#a4bccb"/>
<path d="M109.04 290.73A51.13 51.13 0 0 1 121.07 284.69L121.77 286.72A48.98 48.98 0 0 0 110.25 292.5Z" fill="#f2c5c4"/>
<path d="M110.25 292.5A48.98 48.98 0 0 1 121.77 286.72L122.48 288.75A46.83 46.83 0 0 0 111.46 294.28Z" fill="#acc2d0"/>
<path d="M111.46 294.28A46.83 46.83 0 0 1 122.48 288.75L123.18 290.78A44.68 44.68 0 0 0 112.66 296.06Z" fill="#f9e3e3"/>
<path d="M112.66 296.06A44.68 44.68 0 0 1 123.18 290.78L123.88 292.8A42.54 42.54 0 0 0 113.87 297.83Z" fill="#fdf8f8"/>
<path d="M113.87 297.83A42.54 42.54 0 0 1 123.88 292.8L124.58 294.83A40.39 40.39 0 0 0 115.08 299.61Z" fill="#fdf8f8"/>
<path d="M115.08 299.61A40.39 40.39 0 0 1 124.58 294.83L125.29 296.86A38.24 38.24 0 0 0 116.29 301.38Z" fill="#ffffff"/>
<path d="M116.29 301.38A38.24 38.24 0 0 1 125.29 296.86L125.99 298.89A36.09 36.09 0 0 0 117.5 303.16Z" fill="#fdf8f8"/>
<path d="M117.5 303.16A36.09 36.09 0 0 1 125.99 298.89L126.69 300.92A33.95 33.95 0 0 0 118.7 304.93Z" fill="#fdf8f8"/>
<path d="M118.7 304.93A33.95 33.95 0 0 1 126.69 300.92L127.39 302.95A31.8 31.8 0 0 0 119.91 306.71Z" fill="#e2807f"/>
<path d="M162.03 264.56A72.6 72.6 0 0 1 131.98 405.37M161.32 266.59A70.45 70.45 0 0 1 132.15 403.23M160.6 268.61A68.31 68.31 0 0 1 132.32 401.09M159.88 270.64A66.16 66.16 0 0 1 132.49 398.94M159.17 272.66A64.01 64.01 0 0 1 132.67 396.8M158.45 274.69A61.86 61.86 0 0 1 132.84 394.66M157.73 276.71A59.72 59.72 0 0 1 133.01 392.52M157.02 278.73A57.57 57.57 0 0 1 133.18 390.38M156.3 280.76A55.42 55.42 0 0 1 133.36 388.24M155.58 282.78A53.27 53.27 0 0 1 133.53 386.1M154.87 284.81A51.13 51.13 0 0 1 133.7 383.96M154.15 286.83A48.98 48.98 0 0 1 133.87 381.82M153.43 288.85A46.83 46.83 0 0 1 134.04 379.68M152.72 290.88A44.68 44.68 0 0 1 134.22 377.54M152 292.9A42.54 42.54 0 0 1 134.39 375.4M151.28 294.93A40.39 40.39 0 0 1 134.56 373.26M150.57 296.95A38.24 38.24 0 0 1 134.73 371.12M149.85 298.98A36.09 36.09 0 0 1 134.91 368.98M149.13 301A33.95 33.95 0 0 1 135.08 366.84M148.42 303.02A31.8 31.8 0 0 1 135.25 364.7M125.69 404.58A72.6 72.6 0 0 1 114.04 264.4M126.05 402.47A70.45 70.45 0 0 1 114.75 266.43M126.41 400.35A68.31 68.31 0 0 1 115.45 268.46M126.77 398.23A66.16 66.16 0 0 1 116.15 270.48M127.13 396.11A64.01 64.01 0 0 1 116.85 272.51M127.48 394A61.86 61.86 0 0 1 117.56 274.54M127.84 391.88A59.72 59.72 0 0 1 118.26 276.57M128.2 389.76A57.57 57.57 0 0 1 118.96 278.6M128.56 387.64A55.42 55.42 0 0 1 119.67 280.63M128.92 385.53A53.27 53.27 0 0 1 120.37 282.66M129.27 383.41A51.13 51.13 0 0 1 121.07 284.69M129.63 381.29A48.98 48.98 0 0 1 121.77 286.72M129.99 379.18A46.83 46.83 0 0 1 122.48 288.75M130.35 377.06A44.68 44.68 0 0 1 123.18 290.78M130.71 374.94A42.54 42.54 0 0 1 123.88 292.8M131.06 372.82A40.39 40.39 0 0 1 124.58 294.83M131.42 370.71A38.24 38.24 0 0 1 125.29 296.86M131.78 368.59A36.09 36.09 0 0 1 125.99 298.89M132.14 366.47A33.95 33.95 0 0 1 126.69 300.92M132.5 364.35A31.8 31.8 0 0 1 127.39 302.95" fill="none" stroke="#a9a9a9" stroke-width="0.25"/>
<path d="M162.03 264.56L148.42 303.02M178.93 273.17L155.82 306.8M178.93 273.17L155.82 306.8M193.02 285.87L161.99 312.36M193.02 285.87L161.99 312.36M203.34 301.78L166.51 319.32M203.34 301.78L166.51 319.32M209.19 319.82L169.07 327.22M209.19 319.82L169.07 327.22M210.17 338.75L169.5 335.52M210.17 338.75L169.5 335.52M206.21 357.3L167.77 343.64M206.21 357.3L167.77 343.64M197.59 374.19L163.99 351.04M197.59 374.19L163.99 351.04M184.88 388.27L158.42 357.21M184.88 388.27L158.42 357.21M168.96 398.57L151.45 361.72M168.96 398.57L151.45 361.72M150.92 404.41L143.55 364.28M150.92 404.41L143.55 364.28M131.98 405.37L135.25 364.7M125.69 404.58L132.5 364.35M107.43 398.94L124.5 361.88M107.43 398.94L124.5 361.88M91.27 388.73L117.42 357.41M91.27 388.73L117.42 357.41M78.34 374.65L111.75 351.24M78.34 374.65L111.75 351.24M69.53 357.69L107.9 343.81M69.53 357.69L107.9 343.81M65.45 339.01L106.11 335.63M65.45 339.01L106.11 335.63M66.39 319.92L106.52 327.27M66.39 319.92L106.52 327.27M72.28 301.73L109.1 319.3M72.28 301.73L109.1 319.3M82.71 285.72L113.67 312.29M82.71 285.72L113.67 312.29M96.96 272.98L119.91 306.71M96.96 272.98L119.91 306.71M114.04 264.4L127.39 302.95" fill="none" stroke="#8f8f8f" stroke-width="0.3"/>
<text transform="translate(172.13 265.64) rotate(-63)" font-size="4.85" fill="#111" text-anchor="start" dy="1.65">Streptococcus</text>
<text transform="translate(188.4 276.83) rotate(-47.99)" font-size="4.85" fill="#111" text-anchor="start" dy="1.65">RF39</text>
<text transform="translate(201.22 291.85) rotate(-32.98)" font-size="4.85" fill="#111" text-anchor="start" dy="1.65">Christensenellaceae_R-7_group</text>
<text transform="translate(209.71 309.68) rotate(-17.97)" font-size="4.85" fill="#111" text-anchor="start" dy="1.65">Clostridia_UCG-014</text>
<text transform="translate(213.3 329.1) rotate(-2.96)" font-size="4.85" fill="#111" text-anchor="start" dy="1.65">Lachnospiraceae_ND3007_group</text>
<text transform="translate(211.73 348.78) rotate(12.05)" font-size="4.85" fill="#111" text-anchor="start" dy="1.65">Lachnospiraceae_UCG-001</text>
<text transform="translate(205.12 367.39) rotate(27.06)" font-size="4.85" fill="#111" text-anchor="start" dy="1.65">[Ruminococcus]_gauvreauii_group</text>
<text transform="translate(193.92 383.65) rotate(42.07)" font-size="4.85" fill="#111" text-anchor="start" dy="1.65">Monoglobus</text>
<text transform="translate(178.89 396.46) rotate(57.08)" font-size="4.85" fill="#111" text-anchor="start" dy="1.65">NK4A214_group</text>
<text transform="translate(161.05 404.94) rotate(72.09)" font-size="4.85" fill="#111" text-anchor="start" dy="1.65">Chloroplast</text>
<text transform="translate(141.63 408.5) rotate(87.1)" font-size="4.85" fill="#111" text-anchor="start" dy="1.65">Bifidobacterium</text>
<text transform="translate(115.49 405.23) rotate(287.16)" font-size="4.85" fill="#111" text-anchor="end" dy="1.65">Faecalitalea</text>
<text transform="translate(97.41 396.91) rotate(302.29)" font-size="4.85" fill="#111" text-anchor="end" dy="1.65">Gemella</text>
<text transform="translate(82.13 384.15) rotate(317.43)" font-size="4.85" fill="#111" text-anchor="end" dy="1.65">Clostridium_sensu_stricto_1</text>
<text transform="translate(70.71 367.84) rotate(332.56)" font-size="4.85" fill="#111" text-anchor="end" dy="1.65">[Ruminococcus]_gnavus_group</text>
<text transform="translate(63.94 349.12) rotate(347.69)" font-size="4.85" fill="#111" text-anchor="end" dy="1.65">Negativibacillus</text>
<text transform="translate(62.29 329.29) rotate(362.81)" font-size="4.85" fill="#111" text-anchor="end" dy="1.65">[Eubacterium]_brachy_group</text>
<text transform="translate(65.88 309.71) rotate(377.94)" font-size="4.85" fill="#111" text-anchor="end" dy="1.65">Romboutsia</text>
<text transform="translate(74.45 291.74) rotate(393.07)" font-size="4.85" fill="#111" text-anchor="end" dy="1.65">Enterobacter</text>
<text transform="translate(87.42 276.64) rotate(408.2)" font-size="4.85" fill="#111" text-anchor="end" dy="1.65">Escherichia-Shigella</text>
<text transform="translate(103.87 265.44) rotate(423.33)" font-size="4.85" fill="#111" text-anchor="end" dy="1.65">Fusobacterium</text>
<text x="116.95" y="265.42" font-size="2.35" fill="#6aa978" font-weight="bold" textLength="20" lengthAdjust="spacingAndGlyphs">Fresh vegetable consumption</text>
<text x="117.58" y="267.47" font-size="2.35" fill="#6aa978" font-weight="bold" textLength="18.7" lengthAdjust="spacingAndGlyphs">Soybean product consumption</text>
<text x="118.22" y="269.53" font-size="2.35" fill="#6aa978" font-weight="bold" textLength="3.3" lengthAdjust="spacingAndGlyphs">Rice</text>
<text x="118.85" y="271.58" font-size="2.35" fill="#6aa978" font-weight="bold" textLength="4" lengthAdjust="spacingAndGlyphs">Fruit</text>
<text x="119.49" y="273.63" font-size="2.35" fill="#6aa978" font-weight="bold" textLength="8.2" lengthAdjust="spacingAndGlyphs">Fresh eggs</text>
<text x="120.12" y="275.68" font-size="2.35" fill="#6aa978" font-weight="bold" textLength="5" lengthAdjust="spacingAndGlyphs">Poultry</text>
<text x="120.76" y="277.73" font-size="2.35" fill="#6aa978" font-weight="bold" textLength="9" lengthAdjust="spacingAndGlyphs">Fungi, algae</text>
<text x="121.39" y="279.78" font-size="2.35" fill="#6aa978" font-weight="bold" textLength="2.4" lengthAdjust="spacingAndGlyphs">Tea</text>
<text x="122.03" y="281.83" font-size="2.35" fill="#6aa978" font-weight="bold" textLength="20.9" lengthAdjust="spacingAndGlyphs">Freshwater fish and shrimp</text>
<text x="122.66" y="283.88" font-size="2.35" fill="#6aa978" font-weight="bold" textLength="18.7" lengthAdjust="spacingAndGlyphs">Marine fish and shellfish</text>
<text x="123.3" y="285.94" font-size="2.35" fill="#6aa978" font-weight="bold" textLength="14.5" lengthAdjust="spacingAndGlyphs">Nuts and legume seeds</text>
<text x="123.93" y="287.99" font-size="2.35" fill="#6aa978" font-weight="bold" textLength="25" lengthAdjust="spacingAndGlyphs">Vegetable oil for home cooking</text>
<text x="124.57" y="290.04" font-size="2.35" fill="#6aa978" font-weight="bold" textLength="11.8" lengthAdjust="spacingAndGlyphs">Tubers and starch</text>
<text x="125.2" y="292.09" font-size="2.35" fill="#e8aa35" font-weight="bold" textLength="3.3" lengthAdjust="spacingAndGlyphs">Dairy</text>
<text x="125.84" y="294.14" font-size="2.35" fill="#e8aa35" font-weight="bold" textLength="3.6" lengthAdjust="spacingAndGlyphs">Beer</text>
<text x="126.47" y="296.19" font-size="2.35" fill="#e8aa35" font-weight="bold" textLength="6.7" lengthAdjust="spacingAndGlyphs">Red meat</text>
<text x="127.11" y="298.24" font-size="2.35" fill="#e8aa35" font-weight="bold" textLength="11.8" lengthAdjust="spacingAndGlyphs">Fried wheat foods</text>
<text x="127.74" y="300.3" font-size="2.35" fill="#e8aa35" font-weight="bold" textLength="4.7" lengthAdjust="spacingAndGlyphs">Pickles</text>
<text x="128.38" y="302.35" font-size="2.35" fill="#e8aa35" font-weight="bold" textLength="4.5" lengthAdjust="spacingAndGlyphs">Liquor</text>
<text x="137.3" y="310.2" font-size="4.1" fill="#222" text-anchor="middle" font-weight="bold" textLength="14" lengthAdjust="spacingAndGlyphs">Phylum</text>
<rect x="128.7" y="313.1" width="0.8" height="2.2" fill="#f3a6b5"/>
<text x="131.2" y="315.2" font-size="2.9" fill="#333" textLength="12.2" lengthAdjust="spacingAndGlyphs">Firmicutes</text>
<rect x="128.7" y="317.15" width="0.8" height="2.2" fill="#d8b56a"/>
<text x="131.2" y="319.25" font-size="2.9" fill="#333" textLength="16.8" lengthAdjust="spacingAndGlyphs">Cyanobacteria</text>
<rect x="128.7" y="321.2" width="0.8" height="2.2" fill="#7fc79b"/>
<text x="131.2" y="323.3" font-size="2.9" fill="#333" textLength="18.2" lengthAdjust="spacingAndGlyphs">Actinobacteriota</text>
<rect x="128.7" y="325.25" width="0.8" height="2.2" fill="#6fc3e6"/>
<text x="131.2" y="327.35" font-size="2.9" fill="#333" textLength="17.2" lengthAdjust="spacingAndGlyphs">Proteobacteria</text>
<rect x="128.7" y="329.3" width="0.8" height="2.2" fill="#c9a4ea"/>
<text x="131.2" y="331.4" font-size="2.9" fill="#333" textLength="17.6" lengthAdjust="spacingAndGlyphs">Fusobacteriota</text>
<text x="112.3" y="338.1" font-size="3.7" font-weight="bold" fill="#222" textLength="51.6" lengthAdjust="spacingAndGlyphs">−log(BH-adjusted <tspan font-style="italic">P</tspan>) × direction</text>
<defs><linearGradient id="cb" x1="0" x2="1" y1="0" y2="0"><stop offset="0" stop-color="#3f7494"/><stop offset="0.5" stop-color="#fbfbfb"/><stop offset="1" stop-color="#d8504d"/></linearGradient></defs>
<rect x="118.1" y="340.3" width="39" height="2.3" fill="url(#cb)"/>
<text x="119.7" y="345.5" font-size="2.9" fill="#222" text-anchor="middle">−4</text>
<text x="128.6" y="345.5" font-size="2.9" fill="#222" text-anchor="middle">−2</text>
<text x="137.5" y="345.5" font-size="2.9" fill="#222" text-anchor="middle">0</text>
<text x="146.4" y="345.5" font-size="2.9" fill="#222" text-anchor="middle">2</text>
<text x="155.3" y="345.5" font-size="2.9" fill="#222" text-anchor="middle">4</text>
<text x="138.3" y="349.7" font-size="3.7" fill="#222" text-anchor="middle" font-weight="bold" textLength="38.7" lengthAdjust="spacingAndGlyphs">Enrichment in EastDiet</text>
<rect x="122.7" y="352.5" width="0.8" height="2.3" fill="#8fc79a"/>
<text x="125.3" y="354.7" font-size="2.9" fill="#333" textLength="9.8" lengthAdjust="spacingAndGlyphs">Enriched</text>
<rect x="139.7" y="352.5" width="0.8" height="2.3" fill="#f5c65c"/>
<text x="142.2" y="354.7" font-size="2.9" fill="#333" textLength="10.6" lengthAdjust="spacingAndGlyphs">Depleted</text>
</g>
</svg>
</body></html>
